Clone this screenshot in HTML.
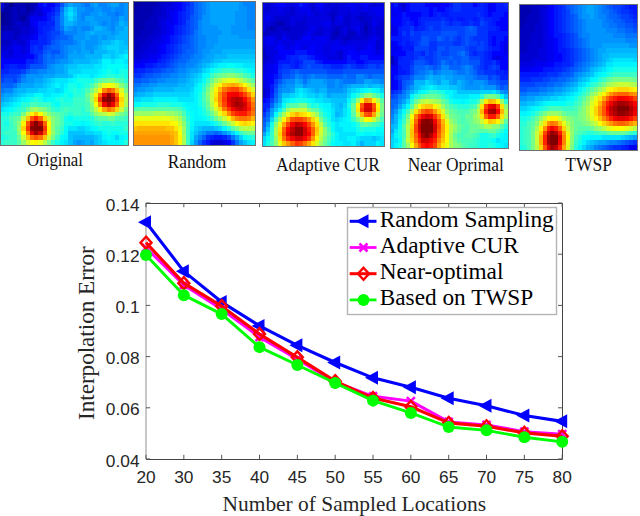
<!DOCTYPE html>
<html><head><meta charset="utf-8"><style>
html,body{margin:0;padding:0;background:#fff;}
body{width:640px;height:516px;overflow:hidden;}
svg{display:block;}
</style></head><body>
<svg width="640" height="516" viewBox="0 0 640 516">
<defs><filter id="blr" x="-5%" y="-5%" width="110%" height="110%"><feGaussianBlur stdDeviation="0.6"/></filter></defs>
<g><clipPath id="c0"><rect x="0" y="2" width="128" height="143"/></clipPath>
<g clip-path="url(#c0)"><g filter="url(#blr)" shape-rendering="crispEdges">
<path fill="#0000e1" d="M0 2H4.27V6.77H0zM38.4 6.77H42.67V11.53H38.4zM34.13 11.53H38.4V16.3H34.13zM29.87 25.83H34.13V30.6H29.87zM29.87 30.6H34.13V35.37H29.87zM21.33 35.37H25.6V40.13H21.33zM25.6 35.37H29.87V40.13H25.6zM12.8 40.13H17.07V44.9H12.8zM8.53 44.9H12.8V49.67H8.53zM21.33 44.9H25.6V49.67H21.33zM0 49.67H4.27V54.43H0zM4.27 49.67H8.53V54.43H4.27zM21.33 49.67H25.6V54.43H21.33zM4.27 54.43H8.53V59.2H4.27zM8.53 54.43H12.8V59.2H8.53z"/>
<path fill="#0000b0" d="M4.27 2H8.53V6.77H4.27zM12.8 2H17.07V6.77H12.8zM17.07 2H21.33V6.77H17.07zM21.33 2H25.6V6.77H21.33zM29.87 2H34.13V6.77H29.87zM8.53 6.77H12.8V11.53H8.53zM17.07 6.77H21.33V11.53H17.07zM29.87 6.77H34.13V11.53H29.87zM8.53 11.53H12.8V16.3H8.53zM17.07 11.53H21.33V16.3H17.07zM21.33 11.53H25.6V16.3H21.33zM25.6 11.53H29.87V16.3H25.6zM8.53 16.3H12.8V21.07H8.53zM17.07 16.3H21.33V21.07H17.07zM8.53 21.07H12.8V25.83H8.53zM0 25.83H4.27V30.6H0zM4.27 25.83H8.53V30.6H4.27zM8.53 25.83H12.8V30.6H8.53z"/>
<path fill="#000090" d="M8.53 2H12.8V6.77H8.53zM0 11.53H4.27V16.3H0zM0 16.3H4.27V21.07H0z"/>
<path fill="#0000a0" d="M25.6 2H29.87V6.77H25.6zM4.27 6.77H8.53V11.53H4.27zM25.6 6.77H29.87V11.53H25.6zM4.27 11.53H8.53V16.3H4.27zM4.27 16.3H8.53V21.07H4.27zM21.33 16.3H25.6V21.07H21.33zM0 21.07H4.27V25.83H0zM4.27 21.07H8.53V25.83H4.27z"/>
<path fill="#0000c0" d="M34.13 2H38.4V6.77H34.13zM0 6.77H4.27V11.53H0zM12.8 6.77H17.07V11.53H12.8zM21.33 6.77H25.6V11.53H21.33zM12.8 11.53H17.07V16.3H12.8zM12.8 16.3H17.07V21.07H12.8zM25.6 16.3H29.87V21.07H25.6zM12.8 21.07H17.07V25.83H12.8zM21.33 21.07H25.6V25.83H21.33zM25.6 21.07H29.87V25.83H25.6zM12.8 25.83H17.07V30.6H12.8zM17.07 25.83H21.33V30.6H17.07zM0 30.6H4.27V35.37H0zM12.8 30.6H17.07V35.37H12.8zM17.07 30.6H21.33V35.37H17.07zM12.8 35.37H17.07V40.13H12.8zM0 40.13H4.27V44.9H0zM4.27 40.13H8.53V44.9H4.27z"/>
<path fill="#0002ff" d="M38.4 2H42.67V6.77H38.4zM51.2 2H55.47V6.77H51.2zM42.67 6.77H46.93V11.53H42.67zM46.93 6.77H51.2V11.53H46.93zM42.67 16.3H46.93V21.07H42.67zM34.13 21.07H38.4V25.83H34.13zM34.13 35.37H38.4V40.13H34.13zM25.6 54.43H29.87V59.2H25.6zM29.87 54.43H34.13V59.2H29.87zM0 59.2H4.27V63.97H0zM4.27 59.2H8.53V63.97H4.27zM8.53 59.2H12.8V63.97H8.53zM12.8 59.2H17.07V63.97H12.8zM17.07 59.2H21.33V63.97H17.07zM21.33 59.2H25.6V63.97H21.33zM0 63.97H4.27V68.73H0z"/>
<path fill="#0012ff" d="M42.67 2H46.93V6.77H42.67zM51.2 6.77H55.47V11.53H51.2zM46.93 11.53H51.2V16.3H46.93zM46.93 16.3H51.2V21.07H46.93zM38.4 21.07H42.67V25.83H38.4zM42.67 21.07H46.93V25.83H42.67zM38.4 25.83H42.67V30.6H38.4zM38.4 30.6H42.67V35.37H38.4zM29.87 40.13H34.13V44.9H29.87zM34.13 40.13H38.4V44.9H34.13zM4.27 63.97H8.53V68.73H4.27zM17.07 63.97H21.33V68.73H17.07zM21.33 63.97H25.6V68.73H21.33z"/>
<path fill="#0000f1" d="M46.93 2H51.2V6.77H46.93zM42.67 11.53H46.93V16.3H42.67zM29.87 16.3H34.13V21.07H29.87zM34.13 16.3H38.4V21.07H34.13zM38.4 16.3H42.67V21.07H38.4zM29.87 21.07H34.13V25.83H29.87zM34.13 25.83H38.4V30.6H34.13zM34.13 30.6H38.4V35.37H34.13zM29.87 35.37H34.13V40.13H29.87zM25.6 40.13H29.87V44.9H25.6zM12.8 44.9H17.07V49.67H12.8zM17.07 44.9H21.33V49.67H17.07zM25.6 44.9H29.87V49.67H25.6zM12.8 49.67H17.07V54.43H12.8zM17.07 49.67H21.33V54.43H17.07zM25.6 49.67H29.87V54.43H25.6zM0 54.43H4.27V59.2H0zM12.8 54.43H17.07V59.2H12.8zM17.07 54.43H21.33V59.2H17.07zM21.33 54.43H25.6V59.2H21.33z"/>
<path fill="#0022ff" d="M55.47 2H59.73V6.77H55.47zM51.2 11.53H55.47V16.3H51.2zM46.93 21.07H51.2V25.83H46.93zM51.2 21.07H55.47V25.83H51.2zM42.67 25.83H46.93V30.6H42.67zM46.93 25.83H51.2V30.6H46.93zM42.67 30.6H46.93V35.37H42.67zM38.4 35.37H42.67V40.13H38.4zM42.67 35.37H46.93V40.13H42.67zM38.4 40.13H42.67V44.9H38.4zM42.67 40.13H46.93V44.9H42.67zM29.87 44.9H34.13V49.67H29.87zM38.4 44.9H42.67V49.67H38.4zM29.87 49.67H34.13V54.43H29.87zM34.13 54.43H38.4V59.2H34.13zM25.6 59.2H29.87V63.97H25.6zM29.87 59.2H34.13V63.97H29.87zM8.53 63.97H12.8V68.73H8.53zM12.8 63.97H17.07V68.73H12.8zM0 68.73H4.27V73.5H0zM4.27 68.73H8.53V73.5H4.27z"/>
<path fill="#0053ff" d="M59.73 2H64V6.77H59.73zM55.47 16.3H59.73V21.07H55.47zM55.47 21.07H59.73V25.83H55.47zM55.47 25.83H59.73V30.6H55.47zM55.47 35.37H59.73V40.13H55.47zM51.2 40.13H55.47V44.9H51.2zM46.93 44.9H51.2V49.67H46.93zM42.67 49.67H46.93V54.43H42.67zM51.2 49.67H55.47V54.43H51.2zM55.47 49.67H59.73V54.43H55.47zM29.87 63.97H34.13V68.73H29.87zM34.13 63.97H38.4V68.73H34.13zM38.4 63.97H42.67V68.73H38.4zM17.07 73.5H21.33V78.27H17.07zM4.27 78.27H8.53V83.03H4.27zM8.53 78.27H12.8V83.03H8.53z"/>
<path fill="#0084ff" d="M64 2H68.27V6.77H64zM81.07 2H85.33V6.77H81.07zM98.13 2H102.4V6.77H98.13zM102.4 2H106.67V6.77H102.4zM119.47 2H123.73V6.77H119.47zM85.33 6.77H89.6V11.53H85.33zM89.6 6.77H93.87V11.53H89.6zM102.4 6.77H106.67V11.53H102.4zM106.67 6.77H110.93V11.53H106.67zM115.2 6.77H119.47V11.53H115.2zM119.47 6.77H123.73V11.53H119.47zM59.73 11.53H64V16.3H59.73zM81.07 11.53H85.33V16.3H81.07zM85.33 11.53H89.6V16.3H85.33zM106.67 11.53H110.93V16.3H106.67zM110.93 11.53H115.2V16.3H110.93zM119.47 11.53H123.73V16.3H119.47zM59.73 16.3H64V21.07H59.73zM81.07 16.3H85.33V21.07H81.07zM110.93 16.3H115.2V21.07H110.93zM115.2 16.3H119.47V21.07H115.2zM59.73 21.07H64V25.83H59.73zM102.4 21.07H106.67V25.83H102.4zM110.93 21.07H115.2V25.83H110.93zM72.53 25.83H76.8V30.6H72.53zM81.07 25.83H85.33V30.6H81.07zM85.33 25.83H89.6V30.6H85.33zM110.93 25.83H115.2V30.6H110.93zM64 30.6H68.27V35.37H64zM68.27 30.6H72.53V35.37H68.27zM72.53 30.6H76.8V35.37H72.53zM72.53 40.13H76.8V44.9H72.53zM64 44.9H68.27V49.67H64zM64 49.67H68.27V54.43H64zM64 54.43H68.27V59.2H64zM55.47 59.2H59.73V63.97H55.47zM46.93 63.97H51.2V68.73H46.93zM38.4 68.73H42.67V73.5H38.4zM42.67 68.73H46.93V73.5H42.67zM21.33 78.27H25.6V83.03H21.33zM4.27 87.8H8.53V92.57H4.27zM8.53 87.8H12.8V92.57H8.53z"/>
<path fill="#00a4ff" d="M68.27 2H72.53V6.77H68.27zM93.87 2H98.13V6.77H93.87zM110.93 2H115.2V6.77H110.93zM115.2 2H119.47V6.77H115.2zM98.13 11.53H102.4V16.3H98.13zM85.33 16.3H89.6V21.07H85.33zM89.6 16.3H93.87V21.07H89.6zM119.47 16.3H123.73V21.07H119.47zM72.53 21.07H76.8V25.83H72.53zM89.6 21.07H93.87V25.83H89.6zM93.87 21.07H98.13V25.83H93.87zM123.73 21.07H128V25.83H123.73zM64 25.83H68.27V30.6H64zM102.4 25.83H106.67V30.6H102.4zM115.2 25.83H119.47V30.6H115.2zM119.47 25.83H123.73V30.6H119.47zM85.33 30.6H89.6V35.37H85.33zM93.87 30.6H98.13V35.37H93.87zM98.13 30.6H102.4V35.37H98.13zM102.4 30.6H106.67V35.37H102.4zM106.67 30.6H110.93V35.37H106.67zM115.2 30.6H119.47V35.37H115.2zM85.33 35.37H89.6V40.13H85.33zM98.13 35.37H102.4V40.13H98.13zM106.67 35.37H110.93V40.13H106.67zM110.93 35.37H115.2V40.13H110.93zM81.07 40.13H85.33V44.9H81.07zM98.13 40.13H102.4V44.9H98.13zM81.07 44.9H85.33V49.67H81.07zM93.87 44.9H98.13V49.67H93.87zM72.53 49.67H76.8V54.43H72.53zM81.07 49.67H85.33V54.43H81.07zM85.33 49.67H89.6V54.43H85.33zM68.27 54.43H72.53V59.2H68.27zM72.53 54.43H76.8V59.2H72.53zM76.8 54.43H81.07V59.2H76.8zM81.07 54.43H85.33V59.2H81.07zM68.27 59.2H72.53V63.97H68.27zM55.47 63.97H59.73V68.73H55.47zM59.73 63.97H64V68.73H59.73zM55.47 68.73H59.73V73.5H55.47zM59.73 68.73H64V73.5H59.73zM42.67 73.5H46.93V78.27H42.67zM46.93 73.5H51.2V78.27H46.93zM51.2 73.5H55.47V78.27H51.2zM34.13 78.27H38.4V83.03H34.13zM38.4 78.27H42.67V83.03H38.4zM21.33 83.03H25.6V87.8H21.33zM25.6 83.03H29.87V87.8H25.6zM29.87 83.03H34.13V87.8H29.87zM12.8 87.8H17.07V92.57H12.8zM4.27 92.57H8.53V97.33H4.27zM8.53 92.57H12.8V97.33H8.53zM0 97.33H4.27V102.1H0zM72.53 140.23H76.8V145H72.53zM81.07 140.23H85.33V145H81.07zM89.6 140.23H93.87V145H89.6z"/>
<path fill="#0094ff" d="M72.53 2H76.8V6.77H72.53zM76.8 2H81.07V6.77H76.8zM89.6 2H93.87V6.77H89.6zM106.67 2H110.93V6.77H106.67zM123.73 2H128V6.77H123.73zM76.8 6.77H81.07V11.53H76.8zM81.07 6.77H85.33V11.53H81.07zM93.87 6.77H98.13V11.53H93.87zM98.13 6.77H102.4V11.53H98.13zM110.93 6.77H115.2V11.53H110.93zM123.73 6.77H128V11.53H123.73zM76.8 11.53H81.07V16.3H76.8zM89.6 11.53H93.87V16.3H89.6zM93.87 11.53H98.13V16.3H93.87zM102.4 11.53H106.67V16.3H102.4zM123.73 11.53H128V16.3H123.73zM76.8 16.3H81.07V21.07H76.8zM93.87 16.3H98.13V21.07H93.87zM98.13 16.3H102.4V21.07H98.13zM102.4 16.3H106.67V21.07H102.4zM106.67 16.3H110.93V21.07H106.67zM123.73 16.3H128V21.07H123.73zM76.8 21.07H81.07V25.83H76.8zM81.07 21.07H85.33V25.83H81.07zM85.33 21.07H89.6V25.83H85.33zM98.13 21.07H102.4V25.83H98.13zM106.67 21.07H110.93V25.83H106.67zM115.2 21.07H119.47V25.83H115.2zM68.27 25.83H72.53V30.6H68.27zM76.8 25.83H81.07V30.6H76.8zM89.6 25.83H93.87V30.6H89.6zM106.67 25.83H110.93V30.6H106.67zM76.8 30.6H81.07V35.37H76.8zM81.07 30.6H85.33V35.37H81.07zM110.93 30.6H115.2V35.37H110.93zM72.53 35.37H76.8V40.13H72.53zM76.8 35.37H81.07V40.13H76.8zM81.07 35.37H85.33V40.13H81.07zM89.6 35.37H93.87V40.13H89.6zM93.87 35.37H98.13V40.13H93.87zM102.4 35.37H106.67V40.13H102.4zM76.8 40.13H81.07V44.9H76.8zM85.33 40.13H89.6V44.9H85.33zM89.6 40.13H93.87V44.9H89.6zM93.87 40.13H98.13V44.9H93.87zM68.27 44.9H72.53V49.67H68.27zM72.53 44.9H76.8V49.67H72.53zM76.8 44.9H81.07V49.67H76.8zM85.33 44.9H89.6V49.67H85.33zM89.6 44.9H93.87V49.67H89.6zM68.27 49.67H72.53V54.43H68.27zM76.8 49.67H81.07V54.43H76.8zM89.6 49.67H93.87V54.43H89.6zM59.73 59.2H64V63.97H59.73zM64 59.2H68.27V63.97H64zM51.2 63.97H55.47V68.73H51.2zM46.93 68.73H51.2V73.5H46.93zM51.2 68.73H55.47V73.5H51.2zM25.6 73.5H29.87V78.27H25.6zM29.87 73.5H34.13V78.27H29.87zM34.13 73.5H38.4V78.27H34.13zM38.4 73.5H42.67V78.27H38.4zM25.6 78.27H29.87V83.03H25.6zM29.87 78.27H34.13V83.03H29.87zM17.07 83.03H21.33V87.8H17.07zM0 92.57H4.27V97.33H0zM76.8 140.23H81.07V145H76.8z"/>
<path fill="#0073ff" d="M85.33 2H89.6V6.77H85.33zM59.73 6.77H64V11.53H59.73zM115.2 11.53H119.47V16.3H115.2zM59.73 25.83H64V30.6H59.73zM68.27 35.37H72.53V40.13H68.27zM59.73 40.13H64V44.9H59.73zM64 40.13H68.27V44.9H64zM68.27 40.13H72.53V44.9H68.27zM59.73 44.9H64V49.67H59.73zM59.73 49.67H64V54.43H59.73zM46.93 54.43H51.2V59.2H46.93zM55.47 54.43H59.73V59.2H55.47zM59.73 54.43H64V59.2H59.73zM46.93 59.2H51.2V63.97H46.93zM51.2 59.2H55.47V63.97H51.2zM29.87 68.73H34.13V73.5H29.87zM34.13 68.73H38.4V73.5H34.13zM21.33 73.5H25.6V78.27H21.33zM12.8 83.03H17.07V87.8H12.8zM0 87.8H4.27V92.57H0z"/>
<path fill="#0000d0" d="M34.13 6.77H38.4V11.53H34.13zM29.87 11.53H34.13V16.3H29.87zM38.4 11.53H42.67V16.3H38.4zM17.07 21.07H21.33V25.83H17.07zM21.33 25.83H25.6V30.6H21.33zM25.6 25.83H29.87V30.6H25.6zM4.27 30.6H8.53V35.37H4.27zM8.53 30.6H12.8V35.37H8.53zM21.33 30.6H25.6V35.37H21.33zM25.6 30.6H29.87V35.37H25.6zM0 35.37H4.27V40.13H0zM4.27 35.37H8.53V40.13H4.27zM8.53 35.37H12.8V40.13H8.53zM17.07 35.37H21.33V40.13H17.07zM8.53 40.13H12.8V44.9H8.53zM17.07 40.13H21.33V44.9H17.07zM21.33 40.13H25.6V44.9H21.33zM0 44.9H4.27V49.67H0zM4.27 44.9H8.53V49.67H4.27zM8.53 49.67H12.8V54.43H8.53z"/>
<path fill="#0033ff" d="M55.47 6.77H59.73V11.53H55.47zM51.2 16.3H55.47V21.07H51.2zM51.2 25.83H55.47V30.6H51.2zM46.93 30.6H51.2V35.37H46.93zM46.93 35.37H51.2V40.13H46.93zM46.93 40.13H51.2V44.9H46.93zM34.13 44.9H38.4V49.67H34.13zM34.13 49.67H38.4V54.43H34.13zM38.4 49.67H42.67V54.43H38.4zM34.13 59.2H38.4V63.97H34.13zM25.6 63.97H29.87V68.73H25.6zM8.53 68.73H12.8V73.5H8.53zM12.8 68.73H17.07V73.5H12.8zM17.07 68.73H21.33V73.5H17.07zM0 73.5H4.27V78.27H0z"/>
<path fill="#00b4ff" d="M64 6.77H68.27V11.53H64zM72.53 6.77H76.8V11.53H72.53zM64 16.3H68.27V21.07H64zM72.53 16.3H76.8V21.07H72.53zM64 21.07H68.27V25.83H64zM68.27 21.07H72.53V25.83H68.27zM119.47 21.07H123.73V25.83H119.47zM93.87 25.83H98.13V30.6H93.87zM98.13 25.83H102.4V30.6H98.13zM123.73 25.83H128V30.6H123.73zM89.6 30.6H93.87V35.37H89.6zM119.47 30.6H123.73V35.37H119.47zM123.73 30.6H128V35.37H123.73zM115.2 35.37H119.47V40.13H115.2zM119.47 35.37H123.73V40.13H119.47zM123.73 35.37H128V40.13H123.73zM102.4 40.13H106.67V44.9H102.4zM106.67 40.13H110.93V44.9H106.67zM123.73 40.13H128V44.9H123.73zM98.13 44.9H102.4V49.67H98.13zM93.87 49.67H98.13V54.43H93.87zM98.13 49.67H102.4V54.43H98.13zM102.4 49.67H106.67V54.43H102.4zM85.33 54.43H89.6V59.2H85.33zM89.6 54.43H93.87V59.2H89.6zM93.87 54.43H98.13V59.2H93.87zM98.13 54.43H102.4V59.2H98.13zM72.53 59.2H76.8V63.97H72.53zM76.8 59.2H81.07V63.97H76.8zM81.07 59.2H85.33V63.97H81.07zM85.33 59.2H89.6V63.97H85.33zM64 63.97H68.27V68.73H64zM64 68.73H68.27V73.5H64zM55.47 73.5H59.73V78.27H55.47zM59.73 73.5H64V78.27H59.73zM64 73.5H68.27V78.27H64zM42.67 78.27H46.93V83.03H42.67zM34.13 83.03H38.4V87.8H34.13zM38.4 83.03H42.67V87.8H38.4zM17.07 87.8H21.33V92.57H17.07zM21.33 87.8H25.6V92.57H21.33zM12.8 92.57H17.07V97.33H12.8zM4.27 97.33H8.53V102.1H4.27zM72.53 135.47H76.8V140.23H72.53zM76.8 135.47H81.07V140.23H76.8zM81.07 135.47H85.33V140.23H81.07zM85.33 135.47H89.6V140.23H85.33zM89.6 135.47H93.87V140.23H89.6zM85.33 140.23H89.6V145H85.33z"/>
<path fill="#00d4ff" d="M68.27 6.77H72.53V11.53H68.27zM68.27 16.3H72.53V21.07H68.27zM115.2 40.13H119.47V44.9H115.2zM106.67 44.9H110.93V49.67H106.67zM110.93 44.9H115.2V49.67H110.93zM115.2 44.9H119.47V49.67H115.2zM115.2 49.67H119.47V54.43H115.2zM123.73 49.67H128V54.43H123.73zM102.4 54.43H106.67V59.2H102.4zM106.67 54.43H110.93V59.2H106.67zM115.2 54.43H119.47V59.2H115.2zM98.13 59.2H102.4V63.97H98.13zM76.8 63.97H81.07V68.73H76.8zM81.07 63.97H85.33V68.73H81.07zM85.33 63.97H89.6V68.73H85.33zM89.6 63.97H93.87V68.73H89.6zM68.27 68.73H72.53V73.5H68.27zM72.53 68.73H76.8V73.5H72.53zM76.8 68.73H81.07V73.5H76.8zM51.2 78.27H55.47V83.03H51.2zM46.93 83.03H51.2V87.8H46.93zM38.4 87.8H42.67V92.57H38.4zM42.67 87.8H46.93V92.57H42.67zM55.47 87.8H59.73V92.57H55.47zM21.33 92.57H25.6V97.33H21.33zM12.8 97.33H17.07V102.1H12.8zM4.27 102.1H8.53V106.87H4.27zM76.8 125.93H81.07V130.7H76.8zM81.07 125.93H85.33V130.7H81.07zM85.33 130.7H89.6V135.47H85.33zM89.6 130.7H93.87V135.47H89.6zM98.13 135.47H102.4V140.23H98.13zM115.2 135.47H119.47V140.23H115.2zM98.13 140.23H102.4V145H98.13z"/>
<path fill="#0043ff" d="M55.47 11.53H59.73V16.3H55.47zM51.2 30.6H55.47V35.37H51.2zM55.47 30.6H59.73V35.37H55.47zM51.2 35.37H55.47V40.13H51.2zM42.67 44.9H46.93V49.67H42.67zM38.4 54.43H42.67V59.2H38.4zM38.4 59.2H42.67V63.97H38.4zM21.33 68.73H25.6V73.5H21.33zM4.27 73.5H8.53V78.27H4.27zM8.53 73.5H12.8V78.27H8.53zM12.8 73.5H17.07V78.27H12.8zM0 78.27H4.27V83.03H0zM12.8 78.27H17.07V83.03H12.8z"/>
<path fill="#00c4ff" d="M64 11.53H68.27V16.3H64zM72.53 11.53H76.8V16.3H72.53zM110.93 40.13H115.2V44.9H110.93zM119.47 40.13H123.73V44.9H119.47zM102.4 44.9H106.67V49.67H102.4zM119.47 44.9H123.73V49.67H119.47zM123.73 44.9H128V49.67H123.73zM106.67 49.67H110.93V54.43H106.67zM110.93 49.67H115.2V54.43H110.93zM119.47 49.67H123.73V54.43H119.47zM110.93 54.43H115.2V59.2H110.93zM89.6 59.2H93.87V63.97H89.6zM93.87 59.2H98.13V63.97H93.87zM68.27 63.97H72.53V68.73H68.27zM72.53 63.97H76.8V68.73H72.53zM68.27 73.5H72.53V78.27H68.27zM46.93 78.27H51.2V83.03H46.93zM42.67 83.03H46.93V87.8H42.67zM25.6 87.8H29.87V92.57H25.6zM29.87 87.8H34.13V92.57H29.87zM34.13 87.8H38.4V92.57H34.13zM17.07 92.57H21.33V97.33H17.07zM8.53 97.33H12.8V102.1H8.53zM0 102.1H4.27V106.87H0zM68.27 130.7H72.53V135.47H68.27zM72.53 130.7H76.8V135.47H72.53zM76.8 130.7H81.07V135.47H76.8zM81.07 130.7H85.33V135.47H81.07zM68.27 135.47H72.53V140.23H68.27zM93.87 135.47H98.13V140.23H93.87zM68.27 140.23H72.53V145H68.27zM93.87 140.23H98.13V145H93.87z"/>
<path fill="#00e5ff" d="M68.27 11.53H72.53V16.3H68.27zM119.47 54.43H123.73V59.2H119.47zM110.93 59.2H115.2V63.97H110.93zM123.73 59.2H128V63.97H123.73zM93.87 63.97H98.13V68.73H93.87zM98.13 63.97H102.4V68.73H98.13zM81.07 68.73H85.33V73.5H81.07zM85.33 68.73H89.6V73.5H85.33zM89.6 68.73H93.87V73.5H89.6zM93.87 68.73H98.13V73.5H93.87zM72.53 73.5H76.8V78.27H72.53zM89.6 73.5H93.87V78.27H89.6zM55.47 78.27H59.73V83.03H55.47zM59.73 78.27H64V83.03H59.73zM64 78.27H68.27V83.03H64zM51.2 83.03H55.47V87.8H51.2zM59.73 83.03H64V87.8H59.73zM46.93 87.8H51.2V92.57H46.93zM51.2 87.8H55.47V92.57H51.2zM59.73 87.8H64V92.57H59.73zM25.6 92.57H29.87V97.33H25.6zM29.87 92.57H34.13V97.33H29.87zM42.67 92.57H46.93V97.33H42.67zM46.93 92.57H51.2V97.33H46.93zM17.07 97.33H21.33V102.1H17.07zM8.53 102.1H12.8V106.87H8.53zM0 106.87H4.27V111.63H0zM68.27 125.93H72.53V130.7H68.27zM72.53 125.93H76.8V130.7H72.53zM85.33 125.93H89.6V130.7H85.33zM93.87 130.7H98.13V135.47H93.87zM98.13 130.7H102.4V135.47H98.13zM64 140.23H68.27V145H64zM102.4 140.23H106.67V145H102.4z"/>
<path fill="#0063ff" d="M59.73 30.6H64V35.37H59.73zM59.73 35.37H64V40.13H59.73zM64 35.37H68.27V40.13H64zM55.47 40.13H59.73V44.9H55.47zM51.2 44.9H55.47V49.67H51.2zM55.47 44.9H59.73V49.67H55.47zM46.93 49.67H51.2V54.43H46.93zM42.67 54.43H46.93V59.2H42.67zM51.2 54.43H55.47V59.2H51.2zM42.67 59.2H46.93V63.97H42.67zM42.67 63.97H46.93V68.73H42.67zM25.6 68.73H29.87V73.5H25.6zM17.07 78.27H21.33V83.03H17.07zM0 83.03H4.27V87.8H0zM4.27 83.03H8.53V87.8H4.27zM8.53 83.03H12.8V87.8H8.53z"/>
<path fill="#00f5ff" d="M123.73 54.43H128V59.2H123.73zM102.4 59.2H106.67V63.97H102.4zM106.67 59.2H110.93V63.97H106.67zM115.2 59.2H119.47V63.97H115.2zM119.47 59.2H123.73V63.97H119.47zM102.4 63.97H106.67V68.73H102.4zM123.73 63.97H128V68.73H123.73zM98.13 68.73H102.4V73.5H98.13zM115.2 68.73H119.47V73.5H115.2zM76.8 73.5H81.07V78.27H76.8zM81.07 73.5H85.33V78.27H81.07zM85.33 73.5H89.6V78.27H85.33zM93.87 73.5H98.13V78.27H93.87zM68.27 78.27H72.53V83.03H68.27zM55.47 83.03H59.73V87.8H55.47zM64 83.03H68.27V87.8H64zM51.2 92.57H55.47V97.33H51.2zM55.47 92.57H59.73V97.33H55.47zM21.33 97.33H25.6V102.1H21.33zM42.67 97.33H46.93V102.1H42.67zM12.8 102.1H17.07V106.87H12.8zM4.27 106.87H8.53V111.63H4.27zM81.07 121.17H85.33V125.93H81.07zM89.6 125.93H93.87V130.7H89.6zM64 135.47H68.27V140.23H64zM102.4 135.47H106.67V140.23H102.4zM110.93 135.47H115.2V140.23H110.93zM119.47 135.47H123.73V140.23H119.47zM59.73 140.23H64V145H59.73zM106.67 140.23H110.93V145H106.67zM110.93 140.23H115.2V145H110.93zM115.2 140.23H119.47V145H115.2z"/>
<path fill="#06fff9" d="M106.67 63.97H110.93V68.73H106.67zM110.93 63.97H115.2V68.73H110.93zM115.2 63.97H119.47V68.73H115.2zM119.47 63.97H123.73V68.73H119.47zM102.4 68.73H106.67V73.5H102.4zM110.93 68.73H115.2V73.5H110.93zM98.13 73.5H102.4V78.27H98.13zM72.53 78.27H76.8V83.03H72.53zM76.8 83.03H81.07V87.8H76.8zM64 87.8H68.27V92.57H64zM34.13 92.57H38.4V97.33H34.13zM38.4 92.57H42.67V97.33H38.4zM59.73 92.57H64V97.33H59.73zM68.27 92.57H72.53V97.33H68.27zM25.6 97.33H29.87V102.1H25.6zM46.93 97.33H51.2V102.1H46.93zM51.2 97.33H55.47V102.1H51.2zM17.07 102.1H21.33V106.87H17.07zM55.47 102.1H59.73V106.87H55.47zM8.53 106.87H12.8V111.63H8.53zM68.27 116.4H72.53V121.17H68.27zM72.53 121.17H76.8V125.93H72.53zM76.8 121.17H81.07V125.93H76.8zM85.33 121.17H89.6V125.93H85.33zM64 125.93H68.27V130.7H64zM93.87 125.93H98.13V130.7H93.87zM64 130.7H68.27V135.47H64zM102.4 130.7H106.67V135.47H102.4zM110.93 130.7H115.2V135.47H110.93zM115.2 130.7H119.47V135.47H115.2zM59.73 135.47H64V140.23H59.73zM106.67 135.47H110.93V140.23H106.67zM123.73 135.47H128V140.23H123.73zM119.47 140.23H123.73V145H119.47z"/>
<path fill="#16ffe9" d="M106.67 68.73H110.93V73.5H106.67zM119.47 68.73H123.73V73.5H119.47zM123.73 68.73H128V73.5H123.73zM102.4 73.5H106.67V78.27H102.4zM115.2 73.5H119.47V78.27H115.2zM123.73 73.5H128V78.27H123.73zM76.8 78.27H81.07V83.03H76.8zM81.07 78.27H85.33V83.03H81.07zM85.33 78.27H89.6V83.03H85.33zM89.6 78.27H93.87V83.03H89.6zM68.27 83.03H72.53V87.8H68.27zM72.53 83.03H76.8V87.8H72.53zM81.07 83.03H85.33V87.8H81.07zM68.27 87.8H72.53V92.57H68.27zM76.8 87.8H81.07V92.57H76.8zM64 92.57H68.27V97.33H64zM29.87 97.33H34.13V102.1H29.87zM38.4 97.33H42.67V102.1H38.4zM55.47 97.33H59.73V102.1H55.47zM64 97.33H68.27V102.1H64zM68.27 97.33H72.53V102.1H68.27zM51.2 102.1H55.47V106.87H51.2zM12.8 106.87H17.07V111.63H12.8zM0 111.63H4.27V116.4H0zM4.27 111.63H8.53V116.4H4.27zM64 116.4H68.27V121.17H64zM72.53 116.4H76.8V121.17H72.53zM76.8 116.4H81.07V121.17H76.8zM81.07 116.4H85.33V121.17H81.07zM85.33 116.4H89.6V121.17H85.33zM4.27 121.17H8.53V125.93H4.27zM64 121.17H68.27V125.93H64zM68.27 121.17H72.53V125.93H68.27zM89.6 121.17H93.87V125.93H89.6zM98.13 125.93H102.4V130.7H98.13zM102.4 125.93H106.67V130.7H102.4zM106.67 125.93H110.93V130.7H106.67zM110.93 125.93H115.2V130.7H110.93zM115.2 125.93H119.47V130.7H115.2zM119.47 125.93H123.73V130.7H119.47zM106.67 130.7H110.93V135.47H106.67zM119.47 130.7H123.73V135.47H119.47zM123.73 130.7H128V135.47H123.73zM0 135.47H4.27V140.23H0zM55.47 140.23H59.73V145H55.47z"/>
<path fill="#26ffd9" d="M106.67 73.5H110.93V78.27H106.67zM110.93 73.5H115.2V78.27H110.93zM119.47 73.5H123.73V78.27H119.47zM123.73 78.27H128V83.03H123.73zM85.33 83.03H89.6V87.8H85.33zM72.53 87.8H76.8V92.57H72.53zM81.07 87.8H85.33V92.57H81.07zM72.53 92.57H76.8V97.33H72.53zM76.8 92.57H81.07V97.33H76.8zM81.07 92.57H85.33V97.33H81.07zM34.13 97.33H38.4V102.1H34.13zM59.73 97.33H64V102.1H59.73zM21.33 102.1H25.6V106.87H21.33zM25.6 102.1H29.87V106.87H25.6zM59.73 102.1H64V106.87H59.73zM64 102.1H68.27V106.87H64zM68.27 102.1H72.53V106.87H68.27zM17.07 106.87H21.33V111.63H17.07zM55.47 106.87H59.73V111.63H55.47zM81.07 106.87H85.33V111.63H81.07zM8.53 111.63H12.8V116.4H8.53zM68.27 111.63H72.53V116.4H68.27zM81.07 111.63H85.33V116.4H81.07zM85.33 111.63H89.6V116.4H85.33zM0 116.4H4.27V121.17H0zM4.27 116.4H8.53V121.17H4.27zM89.6 116.4H93.87V121.17H89.6zM0 121.17H4.27V125.93H0zM93.87 121.17H98.13V125.93H93.87zM102.4 121.17H106.67V125.93H102.4zM106.67 121.17H110.93V125.93H106.67zM115.2 121.17H119.47V125.93H115.2zM119.47 121.17H123.73V125.93H119.47zM123.73 121.17H128V125.93H123.73zM0 125.93H4.27V130.7H0zM4.27 125.93H8.53V130.7H4.27zM0 130.7H4.27V135.47H0zM59.73 130.7H64V135.47H59.73zM4.27 135.47H8.53V140.23H4.27zM0 140.23H4.27V145H0zM123.73 140.23H128V145H123.73z"/>
<path fill="#37ffc8" d="M93.87 78.27H98.13V83.03H93.87zM72.53 97.33H76.8V102.1H72.53zM76.8 97.33H81.07V102.1H76.8zM81.07 97.33H85.33V102.1H81.07zM38.4 102.1H42.67V106.87H38.4zM42.67 102.1H46.93V106.87H42.67zM46.93 102.1H51.2V106.87H46.93zM72.53 102.1H76.8V106.87H72.53zM76.8 102.1H81.07V106.87H76.8zM81.07 102.1H85.33V106.87H81.07zM21.33 106.87H25.6V111.63H21.33zM51.2 106.87H55.47V111.63H51.2zM59.73 106.87H64V111.63H59.73zM68.27 106.87H72.53V111.63H68.27zM72.53 106.87H76.8V111.63H72.53zM76.8 106.87H81.07V111.63H76.8zM12.8 111.63H17.07V116.4H12.8zM17.07 111.63H21.33V116.4H17.07zM64 111.63H68.27V116.4H64zM72.53 111.63H76.8V116.4H72.53zM76.8 111.63H81.07V116.4H76.8zM123.73 116.4H128V121.17H123.73zM8.53 121.17H12.8V125.93H8.53zM98.13 121.17H102.4V125.93H98.13zM110.93 121.17H115.2V125.93H110.93zM8.53 125.93H12.8V130.7H8.53zM59.73 125.93H64V130.7H59.73zM123.73 125.93H128V130.7H123.73zM4.27 130.7H8.53V135.47H4.27zM8.53 130.7H12.8V135.47H8.53zM12.8 130.7H17.07V135.47H12.8zM8.53 135.47H12.8V140.23H8.53zM12.8 135.47H17.07V140.23H12.8zM55.47 135.47H59.73V140.23H55.47zM4.27 140.23H8.53V145H4.27zM8.53 140.23H12.8V145H8.53zM12.8 140.23H17.07V145H12.8zM51.2 140.23H55.47V145H51.2z"/>
<path fill="#57ffa8" d="M98.13 78.27H102.4V83.03H98.13zM115.2 78.27H119.47V83.03H115.2zM123.73 83.03H128V87.8H123.73zM85.33 97.33H89.6V102.1H85.33zM46.93 106.87H51.2V111.63H46.93zM55.47 111.63H59.73V116.4H55.47zM89.6 111.63H93.87V116.4H89.6zM123.73 111.63H128V116.4H123.73zM12.8 116.4H17.07V121.17H12.8zM98.13 116.4H102.4V121.17H98.13zM102.4 116.4H106.67V121.17H102.4zM12.8 121.17H17.07V125.93H12.8zM55.47 125.93H59.73V130.7H55.47zM55.47 130.7H59.73V135.47H55.47zM17.07 140.23H21.33V145H17.07z"/>
<path fill="#67ff98" d="M102.4 78.27H106.67V83.03H102.4zM85.33 92.57H89.6V97.33H85.33zM25.6 106.87H29.87V111.63H25.6zM51.2 111.63H55.47V116.4H51.2zM17.07 116.4H21.33V121.17H17.07zM55.47 116.4H59.73V121.17H55.47zM106.67 116.4H110.93V121.17H106.67zM110.93 116.4H115.2V121.17H110.93zM55.47 121.17H59.73V125.93H55.47zM17.07 135.47H21.33V140.23H17.07z"/>
<path fill="#77ff88" d="M106.67 78.27H110.93V83.03H106.67zM110.93 78.27H115.2V83.03H110.93zM93.87 83.03H98.13V87.8H93.87zM89.6 87.8H93.87V92.57H89.6zM123.73 87.8H128V92.57H123.73zM42.67 106.87H46.93V111.63H42.67zM89.6 106.87H93.87V111.63H89.6zM123.73 106.87H128V111.63H123.73zM21.33 111.63H25.6V116.4H21.33zM119.47 111.63H123.73V116.4H119.47zM51.2 135.47H55.47V140.23H51.2zM46.93 140.23H51.2V145H46.93z"/>
<path fill="#47ffb8" d="M119.47 78.27H123.73V83.03H119.47zM89.6 83.03H93.87V87.8H89.6zM85.33 87.8H89.6V92.57H85.33zM29.87 102.1H34.13V106.87H29.87zM34.13 102.1H38.4V106.87H34.13zM85.33 102.1H89.6V106.87H85.33zM64 106.87H68.27V111.63H64zM85.33 106.87H89.6V111.63H85.33zM59.73 111.63H64V116.4H59.73zM8.53 116.4H12.8V121.17H8.53zM59.73 116.4H64V121.17H59.73zM93.87 116.4H98.13V121.17H93.87zM115.2 116.4H119.47V121.17H115.2zM119.47 116.4H123.73V121.17H119.47zM59.73 121.17H64V125.93H59.73zM12.8 125.93H17.07V130.7H12.8z"/>
<path fill="#b8ff47" d="M98.13 83.03H102.4V87.8H98.13zM93.87 87.8H98.13V92.57H93.87zM123.73 97.33H128V102.1H123.73zM93.87 106.87H98.13V111.63H93.87zM42.67 111.63H46.93V116.4H42.67zM102.4 111.63H106.67V116.4H102.4zM42.67 140.23H46.93V145H42.67z"/>
<path fill="#e9ff16" d="M102.4 83.03H106.67V87.8H102.4zM110.93 83.03H115.2V87.8H110.93zM38.4 140.23H42.67V145H38.4z"/>
<path fill="#f9ff06" d="M106.67 83.03H110.93V87.8H106.67zM93.87 102.1H98.13V106.87H93.87zM38.4 111.63H42.67V116.4H38.4zM46.93 121.17H51.2V125.93H46.93zM21.33 130.7H25.6V135.47H21.33zM29.87 140.23H34.13V145H29.87z"/>
<path fill="#c8ff37" d="M115.2 83.03H119.47V87.8H115.2zM119.47 106.87H123.73V111.63H119.47zM25.6 111.63H29.87V116.4H25.6zM110.93 111.63H115.2V116.4H110.93zM21.33 116.4H25.6V121.17H21.33zM46.93 116.4H51.2V121.17H46.93zM21.33 135.47H25.6V140.23H21.33zM46.93 135.47H51.2V140.23H46.93z"/>
<path fill="#88ff77" d="M119.47 83.03H123.73V87.8H119.47zM89.6 102.1H93.87V106.87H89.6zM38.4 106.87H42.67V111.63H38.4zM46.93 111.63H51.2V116.4H46.93zM93.87 111.63H98.13V116.4H93.87zM51.2 116.4H55.47V121.17H51.2zM17.07 121.17H21.33V125.93H17.07zM51.2 121.17H55.47V125.93H51.2zM51.2 125.93H55.47V130.7H51.2zM17.07 130.7H21.33V135.47H17.07z"/>
<path fill="#fff500" d="M98.13 87.8H102.4V92.57H98.13zM93.87 92.57H98.13V97.33H93.87zM119.47 92.57H123.73V97.33H119.47zM98.13 106.87H102.4V111.63H98.13zM29.87 111.63H34.13V116.4H29.87zM21.33 121.17H25.6V125.93H21.33zM46.93 125.93H51.2V130.7H46.93zM46.93 130.7H51.2V135.47H46.93zM34.13 140.23H38.4V145H34.13z"/>
<path fill="#ff8400" d="M102.4 87.8H106.67V92.57H102.4zM98.13 102.1H102.4V106.87H98.13z"/>
<path fill="#ff5300" d="M106.67 87.8H110.93V92.57H106.67zM29.87 116.4H34.13V121.17H29.87zM25.6 121.17H29.87V125.93H25.6zM42.67 130.7H46.93V135.47H42.67zM34.13 135.47H38.4V140.23H34.13z"/>
<path fill="#ff7300" d="M110.93 87.8H115.2V92.57H110.93zM98.13 92.57H102.4V97.33H98.13zM106.67 106.87H110.93V111.63H106.67zM25.6 130.7H29.87V135.47H25.6zM29.87 135.47H34.13V140.23H29.87zM38.4 135.47H42.67V140.23H38.4z"/>
<path fill="#ffc400" d="M115.2 87.8H119.47V92.57H115.2zM34.13 111.63H38.4V116.4H34.13zM25.6 116.4H29.87V121.17H25.6zM25.6 135.47H29.87V140.23H25.6zM42.67 135.47H46.93V140.23H42.67z"/>
<path fill="#d9ff26" d="M119.47 87.8H123.73V92.57H119.47zM106.67 111.63H110.93V116.4H106.67zM25.6 140.23H29.87V145H25.6z"/>
<path fill="#a8ff57" d="M89.6 92.57H93.87V97.33H89.6zM123.73 92.57H128V97.33H123.73zM89.6 97.33H93.87V102.1H89.6zM123.73 102.1H128V106.87H123.73zM34.13 106.87H38.4V111.63H34.13zM98.13 111.63H102.4V116.4H98.13z"/>
<path fill="#e10000" d="M102.4 92.57H106.67V97.33H102.4zM29.87 130.7H34.13V135.47H29.87z"/>
<path fill="#900000" d="M106.67 92.57H110.93V97.33H106.67zM102.4 97.33H106.67V102.1H102.4zM29.87 125.93H34.13V130.7H29.87z"/>
<path fill="#d00000" d="M110.93 92.57H115.2V97.33H110.93zM38.4 130.7H42.67V135.47H38.4z"/>
<path fill="#ff6300" d="M115.2 92.57H119.47V97.33H115.2zM115.2 102.1H119.47V106.87H115.2zM38.4 116.4H42.67V121.17H38.4zM42.67 121.17H46.93V125.93H42.67z"/>
<path fill="#ffd500" d="M93.87 97.33H98.13V102.1H93.87zM119.47 97.33H123.73V102.1H119.47zM115.2 106.87H119.47V111.63H115.2zM42.67 116.4H46.93V121.17H42.67zM21.33 125.93H25.6V130.7H21.33z"/>
<path fill="#ff3300" d="M98.13 97.33H102.4V102.1H98.13zM115.2 97.33H119.47V102.1H115.2zM25.6 125.93H29.87V130.7H25.6zM42.67 125.93H46.93V130.7H42.67z"/>
<path fill="#800000" d="M106.67 97.33H110.93V102.1H106.67zM34.13 121.17H38.4V125.93H34.13zM34.13 125.93H38.4V130.7H34.13zM38.4 125.93H42.67V130.7H38.4z"/>
<path fill="#a00000" d="M110.93 97.33H115.2V102.1H110.93zM34.13 130.7H38.4V135.47H34.13z"/>
<path fill="#f10000" d="M102.4 102.1H106.67V106.87H102.4zM110.93 102.1H115.2V106.87H110.93z"/>
<path fill="#b00000" d="M106.67 102.1H110.93V106.87H106.67z"/>
<path fill="#ffe500" d="M119.47 102.1H123.73V106.87H119.47z"/>
<path fill="#98ff67" d="M29.87 106.87H34.13V111.63H29.87zM115.2 111.63H119.47V116.4H115.2zM17.07 125.93H21.33V130.7H17.07zM51.2 130.7H55.47V135.47H51.2zM21.33 140.23H25.6V145H21.33z"/>
<path fill="#ffa400" d="M102.4 106.87H106.67V111.63H102.4z"/>
<path fill="#ff9400" d="M110.93 106.87H115.2V111.63H110.93z"/>
<path fill="#ff2200" d="M34.13 116.4H38.4V121.17H34.13z"/>
<path fill="#c00000" d="M29.87 121.17H34.13V125.93H29.87zM38.4 121.17H42.67V125.93H38.4z"/>
</g></g>
<rect x="0.5" y="2.5" width="128" height="143" fill="none" stroke="#707070" stroke-width="1"/></g>
<g><clipPath id="c133"><rect x="133" y="1" width="122" height="144"/></clipPath>
<g clip-path="url(#c133)"><g filter="url(#blr)" shape-rendering="crispEdges">
<path fill="#0000a0" d="M133 1H137.07V5.8H133zM137.07 1H141.13V5.8H137.07zM133 5.8H137.07V10.6H133z"/>
<path fill="#0000b0" d="M141.13 1H145.2V5.8H141.13zM145.2 1H149.27V5.8H145.2zM149.27 1H153.33V5.8H149.27zM153.33 1H157.4V5.8H153.33zM137.07 5.8H141.13V10.6H137.07zM141.13 5.8H145.2V10.6H141.13zM145.2 5.8H149.27V10.6H145.2zM149.27 5.8H153.33V10.6H149.27zM133 10.6H137.07V15.4H133zM137.07 10.6H141.13V15.4H137.07zM141.13 10.6H145.2V15.4H141.13zM145.2 10.6H149.27V15.4H145.2zM149.27 10.6H153.33V15.4H149.27zM133 15.4H137.07V20.2H133zM137.07 15.4H141.13V20.2H137.07zM141.13 15.4H145.2V20.2H141.13zM145.2 15.4H149.27V20.2H145.2zM133 20.2H137.07V25H133zM137.07 20.2H141.13V25H137.07zM141.13 20.2H145.2V25H141.13zM133 25H137.07V29.8H133zM137.07 25H141.13V29.8H137.07zM141.13 25H145.2V29.8H141.13zM133 29.8H137.07V34.6H133zM137.07 29.8H141.13V34.6H137.07zM133 34.6H137.07V39.4H133z"/>
<path fill="#0000c0" d="M157.4 1H161.47V5.8H157.4zM153.33 5.8H157.4V10.6H153.33zM157.4 5.8H161.47V10.6H157.4zM153.33 10.6H157.4V15.4H153.33zM157.4 10.6H161.47V15.4H157.4zM149.27 15.4H153.33V20.2H149.27zM153.33 15.4H157.4V20.2H153.33zM145.2 20.2H149.27V25H145.2zM149.27 20.2H153.33V25H149.27zM153.33 20.2H157.4V25H153.33zM145.2 25H149.27V29.8H145.2zM149.27 25H153.33V29.8H149.27zM153.33 25H157.4V29.8H153.33zM141.13 29.8H145.2V34.6H141.13zM145.2 29.8H149.27V34.6H145.2zM149.27 29.8H153.33V34.6H149.27zM137.07 34.6H141.13V39.4H137.07zM141.13 34.6H145.2V39.4H141.13zM145.2 34.6H149.27V39.4H145.2zM133 39.4H137.07V44.2H133zM137.07 39.4H141.13V44.2H137.07zM141.13 39.4H145.2V44.2H141.13zM133 44.2H137.07V49H133zM137.07 44.2H141.13V49H137.07zM133 49H137.07V53.8H133z"/>
<path fill="#0000d0" d="M161.47 1H165.53V5.8H161.47zM165.53 1H169.6V5.8H165.53zM161.47 5.8H165.53V10.6H161.47zM161.47 10.6H165.53V15.4H161.47zM157.4 15.4H161.47V20.2H157.4zM161.47 15.4H165.53V20.2H161.47zM157.4 20.2H161.47V25H157.4zM157.4 25H161.47V29.8H157.4zM153.33 29.8H157.4V34.6H153.33zM157.4 29.8H161.47V34.6H157.4zM149.27 34.6H153.33V39.4H149.27zM153.33 34.6H157.4V39.4H153.33zM145.2 39.4H149.27V44.2H145.2zM149.27 39.4H153.33V44.2H149.27zM141.13 44.2H145.2V49H141.13zM145.2 44.2H149.27V49H145.2zM137.07 49H141.13V53.8H137.07zM141.13 49H145.2V53.8H141.13zM133 53.8H137.07V58.6H133zM137.07 53.8H141.13V58.6H137.07zM214.33 140.2H218.4V145H214.33zM218.4 140.2H222.47V145H218.4z"/>
<path fill="#0000e1" d="M169.6 1H173.67V5.8H169.6zM165.53 5.8H169.6V10.6H165.53zM169.6 5.8H173.67V10.6H169.6zM165.53 10.6H169.6V15.4H165.53zM165.53 15.4H169.6V20.2H165.53zM161.47 20.2H165.53V25H161.47zM161.47 25H165.53V29.8H161.47zM161.47 29.8H165.53V34.6H161.47zM157.4 34.6H161.47V39.4H157.4zM153.33 39.4H157.4V44.2H153.33zM157.4 39.4H161.47V44.2H157.4zM149.27 44.2H153.33V49H149.27zM153.33 44.2H157.4V49H153.33zM145.2 49H149.27V53.8H145.2zM149.27 49H153.33V53.8H149.27zM153.33 49H157.4V53.8H153.33zM141.13 53.8H145.2V58.6H141.13zM145.2 53.8H149.27V58.6H145.2zM133 58.6H137.07V63.4H133zM137.07 58.6H141.13V63.4H137.07zM210.27 140.2H214.33V145H210.27zM222.47 140.2H226.53V145H222.47z"/>
<path fill="#0000f1" d="M173.67 1H177.73V5.8H173.67zM173.67 5.8H177.73V10.6H173.67zM169.6 10.6H173.67V15.4H169.6zM169.6 15.4H173.67V20.2H169.6zM165.53 20.2H169.6V25H165.53zM169.6 20.2H173.67V25H169.6zM165.53 25H169.6V29.8H165.53zM165.53 29.8H169.6V34.6H165.53zM161.47 34.6H165.53V39.4H161.47zM161.47 39.4H165.53V44.2H161.47zM157.4 44.2H161.47V49H157.4zM157.4 49H161.47V53.8H157.4zM149.27 53.8H153.33V58.6H149.27zM153.33 53.8H157.4V58.6H153.33zM141.13 58.6H145.2V63.4H141.13zM145.2 58.6H149.27V63.4H145.2z"/>
<path fill="#0002ff" d="M177.73 1H181.8V5.8H177.73zM177.73 5.8H181.8V10.6H177.73zM173.67 10.6H177.73V15.4H173.67zM173.67 15.4H177.73V20.2H173.67zM173.67 20.2H177.73V25H173.67zM169.6 25H173.67V29.8H169.6zM169.6 29.8H173.67V34.6H169.6zM165.53 34.6H169.6V39.4H165.53zM165.53 39.4H169.6V44.2H165.53zM161.47 44.2H165.53V49H161.47zM161.47 49H165.53V53.8H161.47zM157.4 53.8H161.47V58.6H157.4zM149.27 58.6H153.33V63.4H149.27zM153.33 58.6H157.4V63.4H153.33zM133 63.4H137.07V68.2H133zM137.07 63.4H141.13V68.2H137.07zM141.13 63.4H145.2V68.2H141.13zM226.53 140.2H230.6V145H226.53z"/>
<path fill="#0012ff" d="M181.8 1H185.87V5.8H181.8zM181.8 5.8H185.87V10.6H181.8zM177.73 10.6H181.8V15.4H177.73zM177.73 15.4H181.8V20.2H177.73zM177.73 20.2H181.8V25H177.73zM173.67 25H177.73V29.8H173.67zM173.67 29.8H177.73V34.6H173.67zM169.6 34.6H173.67V39.4H169.6zM169.6 39.4H173.67V44.2H169.6zM165.53 44.2H169.6V49H165.53zM165.53 49H169.6V53.8H165.53zM161.47 53.8H165.53V58.6H161.47zM157.4 58.6H161.47V63.4H157.4zM145.2 63.4H149.27V68.2H145.2zM149.27 63.4H153.33V68.2H149.27zM133 68.2H137.07V73H133zM214.33 135.4H218.4V140.2H214.33zM218.4 135.4H222.47V140.2H218.4zM206.2 140.2H210.27V145H206.2z"/>
<path fill="#0022ff" d="M185.87 1H189.93V5.8H185.87zM181.8 10.6H185.87V15.4H181.8zM181.8 15.4H185.87V20.2H181.8zM181.8 20.2H185.87V25H181.8zM177.73 25H181.8V29.8H177.73zM177.73 29.8H181.8V34.6H177.73zM173.67 34.6H177.73V39.4H173.67zM173.67 39.4H177.73V44.2H173.67zM169.6 44.2H173.67V49H169.6zM169.6 49H173.67V53.8H169.6zM165.53 53.8H169.6V58.6H165.53zM161.47 58.6H165.53V63.4H161.47zM153.33 63.4H157.4V68.2H153.33zM137.07 68.2H141.13V73H137.07zM141.13 68.2H145.2V73H141.13zM210.27 135.4H214.33V140.2H210.27zM222.47 135.4H226.53V140.2H222.47z"/>
<path fill="#0043ff" d="M189.93 1H194V5.8H189.93zM189.93 5.8H194V10.6H189.93zM189.93 10.6H194V15.4H189.93zM185.87 20.2H189.93V25H185.87zM185.87 25H189.93V29.8H185.87zM185.87 29.8H189.93V34.6H185.87zM181.8 34.6H185.87V39.4H181.8zM181.8 39.4H185.87V44.2H181.8zM177.73 44.2H181.8V49H177.73zM177.73 49H181.8V53.8H177.73zM173.67 53.8H177.73V58.6H173.67zM169.6 58.6H173.67V63.4H169.6zM165.53 63.4H169.6V68.2H165.53zM153.33 68.2H157.4V73H153.33zM157.4 68.2H161.47V73H157.4zM141.13 73H145.2V77.8H141.13zM226.53 135.4H230.6V140.2H226.53z"/>
<path fill="#0063ff" d="M194 1H198.07V5.8H194zM194 5.8H198.07V10.6H194zM194 10.6H198.07V15.4H194zM194 15.4H198.07V20.2H194zM194 20.2H198.07V25H194zM194 25H198.07V29.8H194zM189.93 34.6H194V39.4H189.93zM189.93 39.4H194V44.2H189.93zM189.93 44.2H194V49H189.93zM185.87 49H189.93V53.8H185.87zM189.93 49H194V53.8H189.93zM181.8 53.8H185.87V58.6H181.8zM185.87 53.8H189.93V58.6H185.87zM177.73 58.6H181.8V63.4H177.73zM181.8 58.6H185.87V63.4H181.8zM173.67 63.4H177.73V68.2H173.67zM165.53 68.2H169.6V73H165.53zM169.6 68.2H173.67V73H169.6zM153.33 73H157.4V77.8H153.33zM157.4 73H161.47V77.8H157.4zM141.13 77.8H145.2V82.6H141.13zM145.2 77.8H149.27V82.6H145.2zM214.33 130.6H218.4V135.4H214.33zM202.13 135.4H206.2V140.2H202.13zM198.07 140.2H202.13V145H198.07z"/>
<path fill="#0073ff" d="M198.07 1H202.13V5.8H198.07zM198.07 5.8H202.13V10.6H198.07zM198.07 10.6H202.13V15.4H198.07zM198.07 15.4H202.13V20.2H198.07zM194 29.8H198.07V34.6H194zM194 34.6H198.07V39.4H194zM194 39.4H198.07V44.2H194zM194 44.2H198.07V49H194zM194 49H198.07V53.8H194zM189.93 53.8H194V58.6H189.93zM185.87 58.6H189.93V63.4H185.87zM177.73 63.4H181.8V68.2H177.73zM181.8 63.4H185.87V68.2H181.8zM173.67 68.2H177.73V73H173.67zM161.47 73H165.53V77.8H161.47zM165.53 73H169.6V77.8H165.53zM149.27 77.8H153.33V82.6H149.27zM153.33 77.8H157.4V82.6H153.33zM133 82.6H137.07V87.4H133zM137.07 82.6H141.13V87.4H137.07zM206.2 130.6H210.27V135.4H206.2zM210.27 130.6H214.33V135.4H210.27zM218.4 130.6H222.47V135.4H218.4zM230.6 135.4H234.67V140.2H230.6zM234.67 140.2H238.73V145H234.67z"/>
<path fill="#0084ff" d="M202.13 1H206.2V5.8H202.13zM242.8 1H246.87V5.8H242.8zM246.87 1H250.93V5.8H246.87zM250.93 1H255V5.8H250.93zM202.13 5.8H206.2V10.6H202.13zM246.87 5.8H250.93V10.6H246.87zM250.93 5.8H255V10.6H250.93zM202.13 10.6H206.2V15.4H202.13zM246.87 10.6H250.93V15.4H246.87zM250.93 10.6H255V15.4H250.93zM246.87 15.4H250.93V20.2H246.87zM250.93 15.4H255V20.2H250.93zM198.07 20.2H202.13V25H198.07zM246.87 20.2H250.93V25H246.87zM250.93 20.2H255V25H250.93zM198.07 25H202.13V29.8H198.07zM246.87 25H250.93V29.8H246.87zM250.93 25H255V29.8H250.93zM198.07 29.8H202.13V34.6H198.07zM198.07 34.6H202.13V39.4H198.07zM202.13 34.6H206.2V39.4H202.13zM198.07 39.4H202.13V44.2H198.07zM202.13 39.4H206.2V44.2H202.13zM198.07 44.2H202.13V49H198.07zM202.13 44.2H206.2V49H202.13zM198.07 49H202.13V53.8H198.07zM194 53.8H198.07V58.6H194zM198.07 53.8H202.13V58.6H198.07zM189.93 58.6H194V63.4H189.93zM194 58.6H198.07V63.4H194zM185.87 63.4H189.93V68.2H185.87zM189.93 63.4H194V68.2H189.93zM177.73 68.2H181.8V73H177.73zM181.8 68.2H185.87V73H181.8zM169.6 73H173.67V77.8H169.6zM173.67 73H177.73V77.8H173.67zM157.4 77.8H161.47V82.6H157.4zM161.47 77.8H165.53V82.6H161.47zM141.13 82.6H145.2V87.4H141.13zM145.2 82.6H149.27V87.4H145.2zM133 87.4H137.07V92.2H133zM198.07 135.4H202.13V140.2H198.07z"/>
<path fill="#0094ff" d="M206.2 1H210.27V5.8H206.2zM238.73 1H242.8V5.8H238.73zM206.2 5.8H210.27V10.6H206.2zM238.73 5.8H242.8V10.6H238.73zM242.8 5.8H246.87V10.6H242.8zM206.2 10.6H210.27V15.4H206.2zM234.67 10.6H238.73V15.4H234.67zM238.73 10.6H242.8V15.4H238.73zM242.8 10.6H246.87V15.4H242.8zM202.13 15.4H206.2V20.2H202.13zM206.2 15.4H210.27V20.2H206.2zM234.67 15.4H238.73V20.2H234.67zM238.73 15.4H242.8V20.2H238.73zM242.8 15.4H246.87V20.2H242.8zM202.13 20.2H206.2V25H202.13zM206.2 20.2H210.27V25H206.2zM234.67 20.2H238.73V25H234.67zM238.73 20.2H242.8V25H238.73zM242.8 20.2H246.87V25H242.8zM202.13 25H206.2V29.8H202.13zM206.2 25H210.27V29.8H206.2zM210.27 25H214.33V29.8H210.27zM214.33 25H218.4V29.8H214.33zM230.6 25H234.67V29.8H230.6zM234.67 25H238.73V29.8H234.67zM238.73 25H242.8V29.8H238.73zM242.8 25H246.87V29.8H242.8zM202.13 29.8H206.2V34.6H202.13zM206.2 29.8H210.27V34.6H206.2zM210.27 29.8H214.33V34.6H210.27zM214.33 29.8H218.4V34.6H214.33zM218.4 29.8H222.47V34.6H218.4zM230.6 29.8H234.67V34.6H230.6zM234.67 29.8H238.73V34.6H234.67zM238.73 29.8H242.8V34.6H238.73zM242.8 29.8H246.87V34.6H242.8zM246.87 29.8H250.93V34.6H246.87zM250.93 29.8H255V34.6H250.93zM206.2 34.6H210.27V39.4H206.2zM210.27 34.6H214.33V39.4H210.27zM214.33 34.6H218.4V39.4H214.33zM238.73 34.6H242.8V39.4H238.73zM242.8 34.6H246.87V39.4H242.8zM246.87 34.6H250.93V39.4H246.87zM250.93 34.6H255V39.4H250.93zM206.2 39.4H210.27V44.2H206.2zM210.27 39.4H214.33V44.2H210.27zM214.33 39.4H218.4V44.2H214.33zM206.2 44.2H210.27V49H206.2zM210.27 44.2H214.33V49H210.27zM202.13 49H206.2V53.8H202.13zM206.2 49H210.27V53.8H206.2zM202.13 53.8H206.2V58.6H202.13zM198.07 58.6H202.13V63.4H198.07zM194 63.4H198.07V68.2H194zM185.87 68.2H189.93V73H185.87zM177.73 73H181.8V77.8H177.73zM181.8 73H185.87V77.8H181.8zM165.53 77.8H169.6V82.6H165.53zM169.6 77.8H173.67V82.6H169.6zM173.67 77.8H177.73V82.6H173.67zM149.27 82.6H153.33V87.4H149.27zM153.33 82.6H157.4V87.4H153.33zM137.07 87.4H141.13V92.2H137.07zM141.13 87.4H145.2V92.2H141.13zM202.13 130.6H206.2V135.4H202.13zM222.47 130.6H226.53V135.4H222.47zM194 140.2H198.07V145H194z"/>
<path fill="#00a4ff" d="M210.27 1H214.33V5.8H210.27zM214.33 1H218.4V5.8H214.33zM218.4 1H222.47V5.8H218.4zM222.47 1H226.53V5.8H222.47zM226.53 1H230.6V5.8H226.53zM230.6 1H234.67V5.8H230.6zM234.67 1H238.73V5.8H234.67zM210.27 5.8H214.33V10.6H210.27zM214.33 5.8H218.4V10.6H214.33zM218.4 5.8H222.47V10.6H218.4zM222.47 5.8H226.53V10.6H222.47zM226.53 5.8H230.6V10.6H226.53zM230.6 5.8H234.67V10.6H230.6zM234.67 5.8H238.73V10.6H234.67zM210.27 10.6H214.33V15.4H210.27zM214.33 10.6H218.4V15.4H214.33zM218.4 10.6H222.47V15.4H218.4zM222.47 10.6H226.53V15.4H222.47zM226.53 10.6H230.6V15.4H226.53zM230.6 10.6H234.67V15.4H230.6zM210.27 15.4H214.33V20.2H210.27zM214.33 15.4H218.4V20.2H214.33zM218.4 15.4H222.47V20.2H218.4zM222.47 15.4H226.53V20.2H222.47zM226.53 15.4H230.6V20.2H226.53zM230.6 15.4H234.67V20.2H230.6zM210.27 20.2H214.33V25H210.27zM214.33 20.2H218.4V25H214.33zM218.4 20.2H222.47V25H218.4zM222.47 20.2H226.53V25H222.47zM226.53 20.2H230.6V25H226.53zM230.6 20.2H234.67V25H230.6zM218.4 25H222.47V29.8H218.4zM222.47 25H226.53V29.8H222.47zM226.53 25H230.6V29.8H226.53zM222.47 29.8H226.53V34.6H222.47zM226.53 29.8H230.6V34.6H226.53zM218.4 34.6H222.47V39.4H218.4zM222.47 34.6H226.53V39.4H222.47zM226.53 34.6H230.6V39.4H226.53zM230.6 34.6H234.67V39.4H230.6zM234.67 34.6H238.73V39.4H234.67zM218.4 39.4H222.47V44.2H218.4zM222.47 39.4H226.53V44.2H222.47zM226.53 39.4H230.6V44.2H226.53zM230.6 39.4H234.67V44.2H230.6zM234.67 39.4H238.73V44.2H234.67zM238.73 39.4H242.8V44.2H238.73zM242.8 39.4H246.87V44.2H242.8zM246.87 39.4H250.93V44.2H246.87zM250.93 39.4H255V44.2H250.93zM214.33 44.2H218.4V49H214.33zM218.4 44.2H222.47V49H218.4zM222.47 44.2H226.53V49H222.47zM226.53 44.2H230.6V49H226.53zM230.6 44.2H234.67V49H230.6zM234.67 44.2H238.73V49H234.67zM238.73 44.2H242.8V49H238.73zM242.8 44.2H246.87V49H242.8zM246.87 44.2H250.93V49H246.87zM250.93 44.2H255V49H250.93zM210.27 49H214.33V53.8H210.27zM214.33 49H218.4V53.8H214.33zM218.4 49H222.47V53.8H218.4zM206.2 53.8H210.27V58.6H206.2zM210.27 53.8H214.33V58.6H210.27zM202.13 58.6H206.2V63.4H202.13zM206.2 58.6H210.27V63.4H206.2zM198.07 63.4H202.13V68.2H198.07zM189.93 68.2H194V73H189.93zM194 68.2H198.07V73H194zM185.87 73H189.93V77.8H185.87zM177.73 77.8H181.8V82.6H177.73zM181.8 77.8H185.87V82.6H181.8zM157.4 82.6H161.47V87.4H157.4zM161.47 82.6H165.53V87.4H161.47zM165.53 82.6H169.6V87.4H165.53zM169.6 82.6H173.67V87.4H169.6zM173.67 82.6H177.73V87.4H173.67zM145.2 87.4H149.27V92.2H145.2zM149.27 87.4H153.33V92.2H149.27zM133 92.2H137.07V97H133zM198.07 130.6H202.13V135.4H198.07zM194 135.4H198.07V140.2H194zM234.67 135.4H238.73V140.2H234.67zM238.73 140.2H242.8V145H238.73z"/>
<path fill="#0033ff" d="M185.87 5.8H189.93V10.6H185.87zM185.87 10.6H189.93V15.4H185.87zM185.87 15.4H189.93V20.2H185.87zM181.8 25H185.87V29.8H181.8zM181.8 29.8H185.87V34.6H181.8zM177.73 34.6H181.8V39.4H177.73zM177.73 39.4H181.8V44.2H177.73zM173.67 44.2H177.73V49H173.67zM173.67 49H177.73V53.8H173.67zM169.6 53.8H173.67V58.6H169.6zM165.53 58.6H169.6V63.4H165.53zM157.4 63.4H161.47V68.2H157.4zM161.47 63.4H165.53V68.2H161.47zM145.2 68.2H149.27V73H145.2zM149.27 68.2H153.33V73H149.27zM133 73H137.07V77.8H133zM137.07 73H141.13V77.8H137.07zM206.2 135.4H210.27V140.2H206.2zM202.13 140.2H206.2V145H202.13zM230.6 140.2H234.67V145H230.6z"/>
<path fill="#0053ff" d="M189.93 15.4H194V20.2H189.93zM189.93 20.2H194V25H189.93zM189.93 25H194V29.8H189.93zM189.93 29.8H194V34.6H189.93zM185.87 34.6H189.93V39.4H185.87zM185.87 39.4H189.93V44.2H185.87zM181.8 44.2H185.87V49H181.8zM185.87 44.2H189.93V49H185.87zM181.8 49H185.87V53.8H181.8zM177.73 53.8H181.8V58.6H177.73zM173.67 58.6H177.73V63.4H173.67zM169.6 63.4H173.67V68.2H169.6zM161.47 68.2H165.53V73H161.47zM145.2 73H149.27V77.8H145.2zM149.27 73H153.33V77.8H149.27zM133 77.8H137.07V82.6H133zM137.07 77.8H141.13V82.6H137.07z"/>
<path fill="#00b4ff" d="M222.47 49H226.53V53.8H222.47zM226.53 49H230.6V53.8H226.53zM230.6 49H234.67V53.8H230.6zM234.67 49H238.73V53.8H234.67zM238.73 49H242.8V53.8H238.73zM242.8 49H246.87V53.8H242.8zM246.87 49H250.93V53.8H246.87zM250.93 49H255V53.8H250.93zM214.33 53.8H218.4V58.6H214.33zM218.4 53.8H222.47V58.6H218.4zM222.47 53.8H226.53V58.6H222.47zM210.27 58.6H214.33V63.4H210.27zM202.13 63.4H206.2V68.2H202.13zM198.07 68.2H202.13V73H198.07zM189.93 73H194V77.8H189.93zM185.87 77.8H189.93V82.6H185.87zM177.73 82.6H181.8V87.4H177.73zM181.8 82.6H185.87V87.4H181.8zM153.33 87.4H157.4V92.2H153.33zM157.4 87.4H161.47V92.2H157.4zM161.47 87.4H165.53V92.2H161.47zM165.53 87.4H169.6V92.2H165.53zM169.6 87.4H173.67V92.2H169.6zM137.07 92.2H141.13V97H137.07zM141.13 92.2H145.2V97H141.13zM202.13 125.8H206.2V130.6H202.13zM206.2 125.8H210.27V130.6H206.2zM210.27 125.8H214.33V130.6H210.27zM226.53 130.6H230.6V135.4H226.53z"/>
<path fill="#00c4ff" d="M226.53 53.8H230.6V58.6H226.53zM230.6 53.8H234.67V58.6H230.6zM234.67 53.8H238.73V58.6H234.67zM238.73 53.8H242.8V58.6H238.73zM242.8 53.8H246.87V58.6H242.8zM246.87 53.8H250.93V58.6H246.87zM250.93 53.8H255V58.6H250.93zM214.33 58.6H218.4V63.4H214.33zM218.4 58.6H222.47V63.4H218.4zM206.2 63.4H210.27V68.2H206.2zM194 73H198.07V77.8H194zM189.93 77.8H194V82.6H189.93zM185.87 82.6H189.93V87.4H185.87zM189.93 82.6H194V87.4H189.93zM173.67 87.4H177.73V92.2H173.67zM177.73 87.4H181.8V92.2H177.73zM181.8 87.4H185.87V92.2H181.8zM185.87 87.4H189.93V92.2H185.87zM145.2 92.2H149.27V97H145.2zM149.27 92.2H153.33V97H149.27zM198.07 125.8H202.13V130.6H198.07zM214.33 125.8H218.4V130.6H214.33zM194 130.6H198.07V135.4H194zM242.8 140.2H246.87V145H242.8z"/>
<path fill="#00d4ff" d="M222.47 58.6H226.53V63.4H222.47zM226.53 58.6H230.6V63.4H226.53zM230.6 58.6H234.67V63.4H230.6zM234.67 58.6H238.73V63.4H234.67zM238.73 58.6H242.8V63.4H238.73zM242.8 58.6H246.87V63.4H242.8zM246.87 58.6H250.93V63.4H246.87zM250.93 58.6H255V63.4H250.93zM210.27 63.4H214.33V68.2H210.27zM202.13 68.2H206.2V73H202.13zM198.07 73H202.13V77.8H198.07zM194 77.8H198.07V82.6H194zM189.93 87.4H194V92.2H189.93zM153.33 92.2H157.4V97H153.33zM157.4 92.2H161.47V97H157.4zM161.47 92.2H165.53V97H161.47zM165.53 92.2H169.6V97H165.53zM169.6 92.2H173.67V97H169.6zM173.67 92.2H177.73V97H173.67zM177.73 92.2H181.8V97H177.73zM181.8 92.2H185.87V97H181.8zM185.87 92.2H189.93V97H185.87zM133 97H137.07V101.8H133zM137.07 97H141.13V101.8H137.07zM194 125.8H198.07V130.6H194zM218.4 125.8H222.47V130.6H218.4zM230.6 130.6H234.67V135.4H230.6zM238.73 135.4H242.8V140.2H238.73zM189.93 140.2H194V145H189.93z"/>
<path fill="#00e5ff" d="M214.33 63.4H218.4V68.2H214.33zM242.8 63.4H246.87V68.2H242.8zM246.87 63.4H250.93V68.2H246.87zM250.93 63.4H255V68.2H250.93zM206.2 68.2H210.27V73H206.2zM198.07 77.8H202.13V82.6H198.07zM194 82.6H198.07V87.4H194zM189.93 92.2H194V97H189.93zM141.13 97H145.2V101.8H141.13zM145.2 97H149.27V101.8H145.2zM149.27 97H153.33V101.8H149.27zM177.73 97H181.8V101.8H177.73zM181.8 97H185.87V101.8H181.8zM185.87 97H189.93V101.8H185.87zM189.93 97H194V101.8H189.93zM194 121H198.07V125.8H194zM198.07 121H202.13V125.8H198.07zM202.13 121H206.2V125.8H202.13zM206.2 121H210.27V125.8H206.2zM189.93 130.6H194V135.4H189.93zM189.93 135.4H194V140.2H189.93zM246.87 140.2H250.93V145H246.87z"/>
<path fill="#00f5ff" d="M218.4 63.4H222.47V68.2H218.4zM222.47 63.4H226.53V68.2H222.47zM234.67 63.4H238.73V68.2H234.67zM238.73 63.4H242.8V68.2H238.73zM250.93 68.2H255V73H250.93zM202.13 73H206.2V77.8H202.13zM194 87.4H198.07V92.2H194zM194 92.2H198.07V97H194zM153.33 97H157.4V101.8H153.33zM157.4 97H161.47V101.8H157.4zM161.47 97H165.53V101.8H161.47zM165.53 97H169.6V101.8H165.53zM169.6 97H173.67V101.8H169.6zM173.67 97H177.73V101.8H173.67zM194 97H198.07V101.8H194zM185.87 101.8H189.93V106.6H185.87zM189.93 101.8H194V106.6H189.93zM194 101.8H198.07V106.6H194zM189.93 106.6H194V111.4H189.93zM194 106.6H198.07V111.4H194zM194 111.4H198.07V116.2H194zM194 116.2H198.07V121H194zM198.07 116.2H202.13V121H198.07zM210.27 121H214.33V125.8H210.27zM189.93 125.8H194V130.6H189.93zM222.47 125.8H226.53V130.6H222.47zM250.93 140.2H255V145H250.93z"/>
<path fill="#06fff9" d="M226.53 63.4H230.6V68.2H226.53zM230.6 63.4H234.67V68.2H230.6zM210.27 68.2H214.33V73H210.27zM246.87 68.2H250.93V73H246.87zM206.2 73H210.27V77.8H206.2zM202.13 77.8H206.2V82.6H202.13zM198.07 82.6H202.13V87.4H198.07zM198.07 87.4H202.13V92.2H198.07zM133 101.8H137.07V106.6H133zM137.07 101.8H141.13V106.6H137.07zM181.8 101.8H185.87V106.6H181.8zM185.87 106.6H189.93V111.4H185.87zM198.07 106.6H202.13V111.4H198.07zM189.93 111.4H194V116.2H189.93zM198.07 111.4H202.13V116.2H198.07zM189.93 116.2H194V121H189.93zM202.13 116.2H206.2V121H202.13zM189.93 121H194V125.8H189.93zM234.67 130.6H238.73V135.4H234.67zM242.8 135.4H246.87V140.2H242.8z"/>
<path fill="#16ffe9" d="M214.33 68.2H218.4V73H214.33zM242.8 68.2H246.87V73H242.8zM250.93 73H255V77.8H250.93zM198.07 92.2H202.13V97H198.07zM198.07 97H202.13V101.8H198.07zM141.13 101.8H145.2V106.6H141.13zM145.2 101.8H149.27V106.6H145.2zM149.27 101.8H153.33V106.6H149.27zM153.33 101.8H157.4V106.6H153.33zM169.6 101.8H173.67V106.6H169.6zM173.67 101.8H177.73V106.6H173.67zM177.73 101.8H181.8V106.6H177.73zM198.07 101.8H202.13V106.6H198.07zM185.87 111.4H189.93V116.2H185.87zM202.13 111.4H206.2V116.2H202.13zM206.2 116.2H210.27V121H206.2zM214.33 121H218.4V125.8H214.33zM246.87 135.4H250.93V140.2H246.87z"/>
<path fill="#26ffd9" d="M218.4 68.2H222.47V73H218.4zM234.67 68.2H238.73V73H234.67zM238.73 68.2H242.8V73H238.73zM202.13 82.6H206.2V87.4H202.13zM157.4 101.8H161.47V106.6H157.4zM161.47 101.8H165.53V106.6H161.47zM165.53 101.8H169.6V106.6H165.53zM181.8 106.6H185.87V111.4H181.8zM202.13 106.6H206.2V111.4H202.13zM185.87 116.2H189.93V121H185.87zM226.53 125.8H230.6V130.6H226.53zM250.93 135.4H255V140.2H250.93z"/>
<path fill="#37ffc8" d="M222.47 68.2H226.53V73H222.47zM226.53 68.2H230.6V73H226.53zM230.6 68.2H234.67V73H230.6zM210.27 73H214.33V77.8H210.27zM246.87 73H250.93V77.8H246.87zM206.2 77.8H210.27V82.6H206.2zM202.13 87.4H206.2V92.2H202.13zM202.13 101.8H206.2V106.6H202.13zM206.2 111.4H210.27V116.2H206.2zM210.27 116.2H214.33V121H210.27zM185.87 121H189.93V125.8H185.87zM218.4 121H222.47V125.8H218.4zM185.87 125.8H189.93V130.6H185.87zM185.87 130.6H189.93V135.4H185.87zM238.73 130.6H242.8V135.4H238.73zM185.87 135.4H189.93V140.2H185.87zM185.87 140.2H189.93V145H185.87z"/>
<path fill="#57ffa8" d="M214.33 73H218.4V77.8H214.33zM250.93 77.8H255V82.6H250.93zM206.2 82.6H210.27V87.4H206.2zM137.07 106.6H141.13V111.4H137.07zM141.13 106.6H145.2V111.4H141.13zM145.2 106.6H149.27V111.4H145.2zM149.27 106.6H153.33V111.4H149.27zM153.33 106.6H157.4V111.4H153.33zM157.4 106.6H161.47V111.4H157.4zM161.47 106.6H165.53V111.4H161.47zM165.53 106.6H169.6V111.4H165.53zM169.6 106.6H173.67V111.4H169.6zM173.67 106.6H177.73V111.4H173.67zM206.2 106.6H210.27V111.4H206.2zM230.6 125.8H234.67V130.6H230.6zM242.8 130.6H246.87V135.4H242.8z"/>
<path fill="#67ff98" d="M218.4 73H222.47V77.8H218.4zM238.73 73H242.8V77.8H238.73zM210.27 77.8H214.33V82.6H210.27zM206.2 101.8H210.27V106.6H206.2zM210.27 111.4H214.33V116.2H210.27zM181.8 116.2H185.87V121H181.8zM214.33 116.2H218.4V121H214.33zM222.47 121H226.53V125.8H222.47zM246.87 130.6H250.93V135.4H246.87zM250.93 130.6H255V135.4H250.93z"/>
<path fill="#77ff88" d="M222.47 73H226.53V77.8H222.47zM234.67 73H238.73V77.8H234.67zM246.87 77.8H250.93V82.6H246.87zM206.2 87.4H210.27V92.2H206.2zM206.2 97H210.27V101.8H206.2zM177.73 111.4H181.8V116.2H177.73zM234.67 125.8H238.73V130.6H234.67z"/>
<path fill="#88ff77" d="M226.53 73H230.6V77.8H226.53zM230.6 73H234.67V77.8H230.6zM206.2 92.2H210.27V97H206.2zM173.67 111.4H177.73V116.2H173.67zM181.8 121H185.87V125.8H181.8z"/>
<path fill="#47ffb8" d="M242.8 73H246.87V77.8H242.8zM202.13 92.2H206.2V97H202.13zM202.13 97H206.2V101.8H202.13zM133 106.6H137.07V111.4H133zM177.73 106.6H181.8V111.4H177.73zM181.8 111.4H185.87V116.2H181.8z"/>
<path fill="#98ff67" d="M214.33 77.8H218.4V82.6H214.33zM242.8 77.8H246.87V82.6H242.8zM210.27 82.6H214.33V87.4H210.27zM250.93 82.6H255V87.4H250.93zM210.27 106.6H214.33V111.4H210.27zM133 111.4H137.07V116.2H133zM137.07 111.4H141.13V116.2H137.07zM141.13 111.4H145.2V116.2H141.13zM145.2 111.4H149.27V116.2H145.2zM149.27 111.4H153.33V116.2H149.27zM165.53 111.4H169.6V116.2H165.53zM169.6 111.4H173.67V116.2H169.6zM218.4 116.2H222.47V121H218.4zM226.53 121H230.6V125.8H226.53zM181.8 125.8H185.87V130.6H181.8zM181.8 130.6H185.87V135.4H181.8z"/>
<path fill="#b8ff47" d="M218.4 77.8H222.47V82.6H218.4zM238.73 77.8H242.8V82.6H238.73zM210.27 87.4H214.33V92.2H210.27zM210.27 101.8H214.33V106.6H210.27zM242.8 125.8H246.87V130.6H242.8zM246.87 125.8H250.93V130.6H246.87zM250.93 125.8H255V130.6H250.93z"/>
<path fill="#d9ff26" d="M222.47 77.8H226.53V82.6H222.47zM234.67 77.8H238.73V82.6H234.67zM214.33 82.6H218.4V87.4H214.33zM250.93 87.4H255V92.2H250.93zM214.33 106.6H218.4V111.4H214.33zM133 116.2H137.07V121H133zM169.6 116.2H173.67V121H169.6z"/>
<path fill="#e9ff16" d="M226.53 77.8H230.6V82.6H226.53zM230.6 77.8H234.67V82.6H230.6zM218.4 111.4H222.47V116.2H218.4zM137.07 116.2H141.13V121H137.07zM141.13 116.2H145.2V121H141.13zM145.2 116.2H149.27V121H145.2zM149.27 116.2H153.33V121H149.27zM153.33 116.2H157.4V121H153.33zM157.4 116.2H161.47V121H157.4zM161.47 116.2H165.53V121H161.47zM165.53 116.2H169.6V121H165.53zM177.73 125.8H181.8V130.6H177.73z"/>
<path fill="#fff500" d="M218.4 82.6H222.47V87.4H218.4zM214.33 87.4H218.4V92.2H214.33zM214.33 101.8H218.4V106.6H214.33zM226.53 116.2H230.6V121H226.53zM169.6 121H173.67V125.8H169.6zM250.93 121H255V125.8H250.93zM177.73 135.4H181.8V140.2H177.73zM177.73 140.2H181.8V145H177.73z"/>
<path fill="#ffc400" d="M222.47 82.6H226.53V87.4H222.47zM133 125.8H137.07V130.6H133zM165.53 125.8H169.6V130.6H165.53zM169.6 125.8H173.67V130.6H169.6zM173.67 130.6H177.73V135.4H173.67zM173.67 135.4H177.73V140.2H173.67zM173.67 140.2H177.73V145H173.67z"/>
<path fill="#ffb400" d="M226.53 82.6H230.6V87.4H226.53zM234.67 82.6H238.73V87.4H234.67zM218.4 87.4H222.47V92.2H218.4zM230.6 116.2H234.67V121H230.6zM250.93 116.2H255V121H250.93zM137.07 125.8H141.13V130.6H137.07zM141.13 125.8H145.2V130.6H141.13zM145.2 125.8H149.27V130.6H145.2zM149.27 125.8H153.33V130.6H149.27zM153.33 125.8H157.4V130.6H153.33zM157.4 125.8H161.47V130.6H157.4zM161.47 125.8H165.53V130.6H161.47zM169.6 130.6H173.67V135.4H169.6z"/>
<path fill="#ffa400" d="M230.6 82.6H234.67V87.4H230.6zM242.8 87.4H246.87V92.2H242.8zM133 130.6H137.07V135.4H133zM137.07 130.6H141.13V135.4H137.07zM141.13 130.6H145.2V135.4H141.13zM145.2 130.6H149.27V135.4H145.2zM149.27 130.6H153.33V135.4H149.27zM153.33 130.6H157.4V135.4H153.33zM157.4 130.6H161.47V135.4H157.4zM161.47 130.6H165.53V135.4H161.47zM165.53 130.6H169.6V135.4H165.53zM169.6 135.4H173.67V140.2H169.6zM169.6 140.2H173.67V145H169.6z"/>
<path fill="#ffd500" d="M238.73 82.6H242.8V87.4H238.73zM250.93 92.2H255V97H250.93zM214.33 97H218.4V101.8H214.33zM218.4 106.6H222.47V111.4H218.4zM222.47 111.4H226.53V116.2H222.47zM242.8 121H246.87V125.8H242.8z"/>
<path fill="#f9ff06" d="M242.8 82.6H246.87V87.4H242.8zM173.67 121H177.73V125.8H173.67zM234.67 121H238.73V125.8H234.67zM177.73 130.6H181.8V135.4H177.73z"/>
<path fill="#c8ff37" d="M246.87 82.6H250.93V87.4H246.87zM210.27 92.2H214.33V97H210.27zM210.27 97H214.33V101.8H210.27zM173.67 116.2H177.73V121H173.67zM222.47 116.2H226.53V121H222.47zM177.73 121H181.8V125.8H177.73zM230.6 121H234.67V125.8H230.6z"/>
<path fill="#ff7300" d="M222.47 87.4H226.53V92.2H222.47zM238.73 87.4H242.8V92.2H238.73zM250.93 101.8H255V106.6H250.93zM222.47 106.6H226.53V111.4H222.47zM250.93 111.4H255V116.2H250.93zM238.73 116.2H242.8V121H238.73zM242.8 116.2H246.87V121H242.8z"/>
<path fill="#ff5300" d="M226.53 87.4H230.6V92.2H226.53z"/>
<path fill="#ff4300" d="M230.6 87.4H234.67V92.2H230.6zM234.67 87.4H238.73V92.2H234.67zM222.47 92.2H226.53V97H222.47zM242.8 92.2H246.87V97H242.8zM246.87 97H250.93V101.8H246.87zM222.47 101.8H226.53V106.6H222.47zM230.6 111.4H234.67V116.2H230.6zM246.87 111.4H250.93V116.2H246.87z"/>
<path fill="#ffe500" d="M246.87 87.4H250.93V92.2H246.87zM214.33 92.2H218.4V97H214.33zM133 121H137.07V125.8H133zM137.07 121H141.13V125.8H137.07zM141.13 121H145.2V125.8H141.13zM145.2 121H149.27V125.8H145.2zM149.27 121H153.33V125.8H149.27zM153.33 121H157.4V125.8H153.33zM157.4 121H161.47V125.8H157.4zM161.47 121H165.53V125.8H161.47zM165.53 121H169.6V125.8H165.53zM238.73 121H242.8V125.8H238.73zM246.87 121H250.93V125.8H246.87zM173.67 125.8H177.73V130.6H173.67z"/>
<path fill="#ff8400" d="M218.4 92.2H222.47V97H218.4zM246.87 92.2H250.93V97H246.87zM218.4 97H222.47V101.8H218.4zM226.53 111.4H230.6V116.2H226.53zM234.67 116.2H238.73V121H234.67zM246.87 116.2H250.93V121H246.87z"/>
<path fill="#ff0200" d="M226.53 92.2H230.6V97H226.53zM242.8 97H246.87V101.8H242.8z"/>
<path fill="#f10000" d="M230.6 92.2H234.67V97H230.6zM234.67 92.2H238.73V97H234.67zM226.53 101.8H230.6V106.6H226.53zM230.6 106.6H234.67V111.4H230.6z"/>
<path fill="#ff1200" d="M238.73 92.2H242.8V97H238.73zM246.87 106.6H250.93V111.4H246.87zM238.73 111.4H242.8V116.2H238.73zM242.8 111.4H246.87V116.2H242.8z"/>
<path fill="#ff3300" d="M222.47 97H226.53V101.8H222.47zM226.53 106.6H230.6V111.4H226.53z"/>
<path fill="#e10000" d="M226.53 97H230.6V101.8H226.53zM242.8 106.6H246.87V111.4H242.8z"/>
<path fill="#c00000" d="M230.6 97H234.67V101.8H230.6zM238.73 97H242.8V101.8H238.73zM230.6 101.8H234.67V106.6H230.6zM238.73 106.6H242.8V111.4H238.73z"/>
<path fill="#b00000" d="M234.67 97H238.73V101.8H234.67zM238.73 101.8H242.8V106.6H238.73z"/>
<path fill="#ff9400" d="M250.93 97H255V101.8H250.93zM218.4 101.8H222.47V106.6H218.4zM133 135.4H137.07V140.2H133zM137.07 135.4H141.13V140.2H137.07zM141.13 135.4H145.2V140.2H141.13zM145.2 135.4H149.27V140.2H145.2zM149.27 135.4H153.33V140.2H149.27zM153.33 135.4H157.4V140.2H153.33zM157.4 135.4H161.47V140.2H157.4zM161.47 135.4H165.53V140.2H161.47zM165.53 135.4H169.6V140.2H165.53zM133 140.2H137.07V145H133zM137.07 140.2H141.13V145H137.07zM141.13 140.2H145.2V145H141.13zM145.2 140.2H149.27V145H145.2zM149.27 140.2H153.33V145H149.27zM153.33 140.2H157.4V145H153.33zM157.4 140.2H161.47V145H157.4zM161.47 140.2H165.53V145H161.47zM165.53 140.2H169.6V145H165.53z"/>
<path fill="#a00000" d="M234.67 101.8H238.73V106.6H234.67z"/>
<path fill="#d00000" d="M242.8 101.8H246.87V106.6H242.8zM234.67 106.6H238.73V111.4H234.67z"/>
<path fill="#ff2200" d="M246.87 101.8H250.93V106.6H246.87zM234.67 111.4H238.73V116.2H234.67z"/>
<path fill="#ff6300" d="M250.93 106.6H255V111.4H250.93z"/>
<path fill="#a8ff57" d="M153.33 111.4H157.4V116.2H153.33zM157.4 111.4H161.47V116.2H157.4zM161.47 111.4H165.53V116.2H161.47zM214.33 111.4H218.4V116.2H214.33zM177.73 116.2H181.8V121H177.73zM238.73 125.8H242.8V130.6H238.73zM181.8 135.4H185.87V140.2H181.8zM181.8 140.2H185.87V145H181.8z"/>
</g></g>
<rect x="133.5" y="1.5" width="122" height="144" fill="none" stroke="#707070" stroke-width="1"/></g>
<g><clipPath id="c262"><rect x="262" y="2" width="122" height="144"/></clipPath>
<g clip-path="url(#c262)"><g filter="url(#blr)" shape-rendering="crispEdges">
<path fill="#0000e1" d="M262 2H266.07V6.8H262zM270.13 2H274.2V6.8H270.13zM286.4 2H290.47V6.8H286.4zM290.47 2H294.53V6.8H290.47zM306.73 2H310.8V6.8H306.73zM323 2H327.07V6.8H323zM331.13 2H335.2V6.8H331.13zM339.27 2H343.33V6.8H339.27zM343.33 2H347.4V6.8H343.33zM355.53 2H359.6V6.8H355.53zM367.73 2H371.8V6.8H367.73zM375.87 2H379.93V6.8H375.87zM379.93 2H384V6.8H379.93zM270.13 6.8H274.2V11.6H270.13zM274.2 6.8H278.27V11.6H274.2zM282.33 6.8H286.4V11.6H282.33zM286.4 6.8H290.47V11.6H286.4zM294.53 6.8H298.6V11.6H294.53zM314.87 6.8H318.93V11.6H314.87zM323 6.8H327.07V11.6H323zM327.07 6.8H331.13V11.6H327.07zM339.27 6.8H343.33V11.6H339.27zM343.33 6.8H347.4V11.6H343.33zM347.4 6.8H351.47V11.6H347.4zM355.53 6.8H359.6V11.6H355.53zM359.6 6.8H363.67V11.6H359.6zM367.73 6.8H371.8V11.6H367.73zM262 11.6H266.07V16.4H262zM266.07 11.6H270.13V16.4H266.07zM270.13 11.6H274.2V16.4H270.13zM274.2 11.6H278.27V16.4H274.2zM278.27 11.6H282.33V16.4H278.27zM282.33 11.6H286.4V16.4H282.33zM294.53 11.6H298.6V16.4H294.53zM298.6 11.6H302.67V16.4H298.6zM302.67 11.6H306.73V16.4H302.67zM310.8 11.6H314.87V16.4H310.8zM318.93 11.6H323V16.4H318.93zM323 11.6H327.07V16.4H323zM339.27 11.6H343.33V16.4H339.27zM343.33 11.6H347.4V16.4H343.33zM351.47 11.6H355.53V16.4H351.47zM355.53 11.6H359.6V16.4H355.53zM367.73 11.6H371.8V16.4H367.73zM371.8 11.6H375.87V16.4H371.8zM262 16.4H266.07V21.2H262zM270.13 16.4H274.2V21.2H270.13zM290.47 16.4H294.53V21.2H290.47zM294.53 16.4H298.6V21.2H294.53zM298.6 16.4H302.67V21.2H298.6zM306.73 16.4H310.8V21.2H306.73zM310.8 16.4H314.87V21.2H310.8zM314.87 16.4H318.93V21.2H314.87zM318.93 16.4H323V21.2H318.93zM323 16.4H327.07V21.2H323zM327.07 16.4H331.13V21.2H327.07zM335.2 16.4H339.27V21.2H335.2zM351.47 16.4H355.53V21.2H351.47zM371.8 16.4H375.87V21.2H371.8zM375.87 16.4H379.93V21.2H375.87zM379.93 16.4H384V21.2H379.93zM262 21.2H266.07V26H262zM266.07 21.2H270.13V26H266.07zM290.47 21.2H294.53V26H290.47zM306.73 21.2H310.8V26H306.73zM310.8 21.2H314.87V26H310.8zM314.87 21.2H318.93V26H314.87zM318.93 21.2H323V26H318.93zM335.2 21.2H339.27V26H335.2zM339.27 21.2H343.33V26H339.27zM351.47 21.2H355.53V26H351.47zM355.53 21.2H359.6V26H355.53zM375.87 21.2H379.93V26H375.87zM262 26H266.07V30.8H262zM306.73 26H310.8V30.8H306.73zM314.87 26H318.93V30.8H314.87zM323 26H327.07V30.8H323zM327.07 26H331.13V30.8H327.07zM343.33 26H347.4V30.8H343.33zM351.47 26H355.53V30.8H351.47zM371.8 26H375.87V30.8H371.8zM282.33 30.8H286.4V35.6H282.33zM302.67 30.8H306.73V35.6H302.67zM310.8 30.8H314.87V35.6H310.8zM323 30.8H327.07V35.6H323zM327.07 30.8H331.13V35.6H327.07zM343.33 30.8H347.4V35.6H343.33zM355.53 30.8H359.6V35.6H355.53zM371.8 30.8H375.87V35.6H371.8zM262 35.6H266.07V40.4H262zM274.2 35.6H278.27V40.4H274.2zM286.4 35.6H290.47V40.4H286.4zM298.6 35.6H302.67V40.4H298.6zM310.8 35.6H314.87V40.4H310.8zM327.07 35.6H331.13V40.4H327.07zM367.73 35.6H371.8V40.4H367.73zM375.87 35.6H379.93V40.4H375.87zM262 40.4H266.07V45.2H262zM274.2 40.4H278.27V45.2H274.2zM282.33 40.4H286.4V45.2H282.33zM286.4 40.4H290.47V45.2H286.4zM290.47 40.4H294.53V45.2H290.47zM327.07 40.4H331.13V45.2H327.07zM331.13 40.4H335.2V45.2H331.13zM339.27 40.4H343.33V45.2H339.27zM347.4 40.4H351.47V45.2H347.4zM351.47 40.4H355.53V45.2H351.47zM355.53 40.4H359.6V45.2H355.53zM359.6 40.4H363.67V45.2H359.6zM363.67 40.4H367.73V45.2H363.67zM379.93 40.4H384V45.2H379.93zM266.07 45.2H270.13V50H266.07zM270.13 45.2H274.2V50H270.13zM286.4 45.2H290.47V50H286.4zM302.67 45.2H306.73V50H302.67zM323 45.2H327.07V50H323zM327.07 45.2H331.13V50H327.07zM355.53 45.2H359.6V50H355.53zM359.6 45.2H363.67V50H359.6zM379.93 45.2H384V50H379.93zM266.07 50H270.13V54.8H266.07zM270.13 50H274.2V54.8H270.13zM274.2 50H278.27V54.8H274.2zM323 50H327.07V54.8H323zM327.07 50H331.13V54.8H327.07zM335.2 50H339.27V54.8H335.2zM375.87 50H379.93V54.8H375.87zM270.13 54.8H274.2V59.6H270.13zM327.07 54.8H331.13V59.6H327.07zM331.13 54.8H335.2V59.6H331.13zM335.2 54.8H339.27V59.6H335.2zM266.07 59.6H270.13V64.4H266.07zM270.13 59.6H274.2V64.4H270.13zM262 64.4H266.07V69.2H262zM262 69.2H266.07V74H262zM262 78.8H266.07V83.6H262zM262 83.6H266.07V88.4H262zM266.07 88.4H270.13V93.2H266.07z"/>
<path fill="#0000d0" d="M266.07 2H270.13V6.8H266.07zM310.8 2H314.87V6.8H310.8zM327.07 2H331.13V6.8H327.07zM335.2 2H339.27V6.8H335.2zM371.8 2H375.87V6.8H371.8zM262 6.8H266.07V11.6H262zM266.07 6.8H270.13V11.6H266.07zM290.47 6.8H294.53V11.6H290.47zM310.8 6.8H314.87V11.6H310.8zM331.13 6.8H335.2V11.6H331.13zM335.2 6.8H339.27V11.6H335.2zM286.4 11.6H290.47V16.4H286.4zM290.47 11.6H294.53V16.4H290.47zM314.87 11.6H318.93V16.4H314.87zM327.07 11.6H331.13V16.4H327.07zM335.2 11.6H339.27V16.4H335.2zM347.4 11.6H351.47V16.4H347.4zM359.6 11.6H363.67V16.4H359.6zM363.67 11.6H367.73V16.4H363.67zM274.2 16.4H278.27V21.2H274.2zM278.27 16.4H282.33V21.2H278.27zM282.33 16.4H286.4V21.2H282.33zM286.4 16.4H290.47V21.2H286.4zM302.67 16.4H306.73V21.2H302.67zM343.33 16.4H347.4V21.2H343.33zM347.4 16.4H351.47V21.2H347.4zM355.53 16.4H359.6V21.2H355.53zM363.67 16.4H367.73V21.2H363.67zM367.73 16.4H371.8V21.2H367.73zM270.13 21.2H274.2V26H270.13zM286.4 21.2H290.47V26H286.4zM294.53 21.2H298.6V26H294.53zM298.6 21.2H302.67V26H298.6zM302.67 21.2H306.73V26H302.67zM331.13 21.2H335.2V26H331.13zM343.33 21.2H347.4V26H343.33zM347.4 21.2H351.47V26H347.4zM359.6 21.2H363.67V26H359.6zM367.73 21.2H371.8V26H367.73zM379.93 21.2H384V26H379.93zM278.27 26H282.33V30.8H278.27zM290.47 26H294.53V30.8H290.47zM294.53 26H298.6V30.8H294.53zM298.6 26H302.67V30.8H298.6zM302.67 26H306.73V30.8H302.67zM318.93 26H323V30.8H318.93zM331.13 26H335.2V30.8H331.13zM339.27 26H343.33V30.8H339.27zM347.4 26H351.47V30.8H347.4zM359.6 26H363.67V30.8H359.6zM367.73 26H371.8V30.8H367.73zM375.87 26H379.93V30.8H375.87zM379.93 26H384V30.8H379.93zM270.13 30.8H274.2V35.6H270.13zM274.2 30.8H278.27V35.6H274.2zM278.27 30.8H282.33V35.6H278.27zM286.4 30.8H290.47V35.6H286.4zM290.47 30.8H294.53V35.6H290.47zM294.53 30.8H298.6V35.6H294.53zM298.6 30.8H302.67V35.6H298.6zM314.87 30.8H318.93V35.6H314.87zM318.93 30.8H323V35.6H318.93zM339.27 30.8H343.33V35.6H339.27zM359.6 30.8H363.67V35.6H359.6zM367.73 30.8H371.8V35.6H367.73zM375.87 30.8H379.93V35.6H375.87zM379.93 30.8H384V35.6H379.93zM278.27 35.6H282.33V40.4H278.27zM290.47 35.6H294.53V40.4H290.47zM294.53 35.6H298.6V40.4H294.53zM335.2 35.6H339.27V40.4H335.2zM339.27 35.6H343.33V40.4H339.27zM351.47 35.6H355.53V40.4H351.47zM355.53 35.6H359.6V40.4H355.53zM359.6 35.6H363.67V40.4H359.6zM363.67 35.6H367.73V40.4H363.67zM379.93 35.6H384V40.4H379.93zM343.33 40.4H347.4V45.2H343.33zM375.87 40.4H379.93V45.2H375.87zM262 45.2H266.07V50H262zM375.87 45.2H379.93V50H375.87zM339.27 50H343.33V54.8H339.27zM266.07 54.8H270.13V59.6H266.07zM339.27 54.8H343.33V59.6H339.27zM262 59.6H266.07V64.4H262zM262 88.4H266.07V93.2H262zM262 93.2H266.07V98H262z"/>
<path fill="#0000f1" d="M274.2 2H278.27V6.8H274.2zM294.53 2H298.6V6.8H294.53zM314.87 2H318.93V6.8H314.87zM347.4 2H351.47V6.8H347.4zM351.47 2H355.53V6.8H351.47zM359.6 2H363.67V6.8H359.6zM278.27 6.8H282.33V11.6H278.27zM298.6 6.8H302.67V11.6H298.6zM302.67 6.8H306.73V11.6H302.67zM306.73 6.8H310.8V11.6H306.73zM318.93 6.8H323V11.6H318.93zM351.47 6.8H355.53V11.6H351.47zM363.67 6.8H367.73V11.6H363.67zM371.8 6.8H375.87V11.6H371.8zM375.87 6.8H379.93V11.6H375.87zM379.93 6.8H384V11.6H379.93zM306.73 11.6H310.8V16.4H306.73zM375.87 11.6H379.93V16.4H375.87zM379.93 11.6H384V16.4H379.93zM266.07 16.4H270.13V21.2H266.07zM339.27 16.4H343.33V21.2H339.27zM323 21.2H327.07V26H323zM327.07 21.2H331.13V26H327.07zM371.8 21.2H375.87V26H371.8zM310.8 26H314.87V30.8H310.8zM355.53 26H359.6V30.8H355.53zM306.73 30.8H310.8V35.6H306.73zM266.07 35.6H270.13V40.4H266.07zM270.13 35.6H274.2V40.4H270.13zM282.33 35.6H286.4V40.4H282.33zM314.87 35.6H318.93V40.4H314.87zM318.93 35.6H323V40.4H318.93zM323 35.6H327.07V40.4H323zM371.8 35.6H375.87V40.4H371.8zM266.07 40.4H270.13V45.2H266.07zM270.13 40.4H274.2V45.2H270.13zM278.27 40.4H282.33V45.2H278.27zM294.53 40.4H298.6V45.2H294.53zM298.6 40.4H302.67V45.2H298.6zM302.67 40.4H306.73V45.2H302.67zM306.73 40.4H310.8V45.2H306.73zM310.8 40.4H314.87V45.2H310.8zM314.87 40.4H318.93V45.2H314.87zM318.93 40.4H323V45.2H318.93zM323 40.4H327.07V45.2H323zM335.2 40.4H339.27V45.2H335.2zM367.73 40.4H371.8V45.2H367.73zM371.8 40.4H375.87V45.2H371.8zM274.2 45.2H278.27V50H274.2zM282.33 45.2H286.4V50H282.33zM290.47 45.2H294.53V50H290.47zM298.6 45.2H302.67V50H298.6zM306.73 45.2H310.8V50H306.73zM314.87 45.2H318.93V50H314.87zM318.93 45.2H323V50H318.93zM331.13 45.2H335.2V50H331.13zM335.2 45.2H339.27V50H335.2zM339.27 45.2H343.33V50H339.27zM343.33 45.2H347.4V50H343.33zM347.4 45.2H351.47V50H347.4zM351.47 45.2H355.53V50H351.47zM363.67 45.2H367.73V50H363.67zM371.8 45.2H375.87V50H371.8zM314.87 50H318.93V54.8H314.87zM318.93 50H323V54.8H318.93zM331.13 50H335.2V54.8H331.13zM343.33 50H347.4V54.8H343.33zM355.53 50H359.6V54.8H355.53zM371.8 50H375.87V54.8H371.8zM379.93 50H384V54.8H379.93zM274.2 54.8H278.27V59.6H274.2zM278.27 54.8H282.33V59.6H278.27zM318.93 54.8H323V59.6H318.93zM323 54.8H327.07V59.6H323zM343.33 54.8H347.4V59.6H343.33zM274.2 59.6H278.27V64.4H274.2zM266.07 64.4H270.13V69.2H266.07zM270.13 64.4H274.2V69.2H270.13zM266.07 69.2H270.13V74H266.07zM270.13 69.2H274.2V74H270.13zM262 74H266.07V78.8H262zM266.07 74H270.13V78.8H266.07zM266.07 78.8H270.13V83.6H266.07zM266.07 83.6H270.13V88.4H266.07zM266.07 93.2H270.13V98H266.07z"/>
<path fill="#0002ff" d="M278.27 2H282.33V6.8H278.27zM282.33 2H286.4V6.8H282.33zM302.67 2H306.73V6.8H302.67zM318.93 2H323V6.8H318.93zM363.67 2H367.73V6.8H363.67zM302.67 35.6H306.73V40.4H302.67zM306.73 35.6H310.8V40.4H306.73zM278.27 45.2H282.33V50H278.27zM294.53 45.2H298.6V50H294.53zM310.8 45.2H314.87V50H310.8zM367.73 45.2H371.8V50H367.73zM278.27 50H282.33V54.8H278.27zM282.33 50H286.4V54.8H282.33zM286.4 50H290.47V54.8H286.4zM290.47 50H294.53V54.8H290.47zM306.73 50H310.8V54.8H306.73zM310.8 50H314.87V54.8H310.8zM347.4 50H351.47V54.8H347.4zM351.47 50H355.53V54.8H351.47zM359.6 50H363.67V54.8H359.6zM363.67 50H367.73V54.8H363.67zM367.73 50H371.8V54.8H367.73zM282.33 54.8H286.4V59.6H282.33zM314.87 54.8H318.93V59.6H314.87zM351.47 54.8H355.53V59.6H351.47zM355.53 54.8H359.6V59.6H355.53zM367.73 54.8H371.8V59.6H367.73zM371.8 54.8H375.87V59.6H371.8zM375.87 54.8H379.93V59.6H375.87zM379.93 54.8H384V59.6H379.93zM323 59.6H327.07V64.4H323zM327.07 59.6H331.13V64.4H327.07zM331.13 59.6H335.2V64.4H331.13zM335.2 59.6H339.27V64.4H335.2zM339.27 59.6H343.33V64.4H339.27zM343.33 59.6H347.4V64.4H343.33zM355.53 59.6H359.6V64.4H355.53zM359.6 59.6H363.67V64.4H359.6zM274.2 64.4H278.27V69.2H274.2zM274.2 69.2H278.27V74H274.2zM270.13 74H274.2V78.8H270.13zM270.13 78.8H274.2V83.6H270.13zM262 98H266.07V102.8H262z"/>
<path fill="#0012ff" d="M298.6 2H302.67V6.8H298.6zM294.53 50H298.6V54.8H294.53zM298.6 50H302.67V54.8H298.6zM302.67 50H306.73V54.8H302.67zM286.4 54.8H290.47V59.6H286.4zM310.8 54.8H314.87V59.6H310.8zM347.4 54.8H351.47V59.6H347.4zM359.6 54.8H363.67V59.6H359.6zM363.67 54.8H367.73V59.6H363.67zM278.27 59.6H282.33V64.4H278.27zM282.33 59.6H286.4V64.4H282.33zM286.4 59.6H290.47V64.4H286.4zM294.53 59.6H298.6V64.4H294.53zM318.93 59.6H323V64.4H318.93zM347.4 59.6H351.47V64.4H347.4zM351.47 59.6H355.53V64.4H351.47zM363.67 59.6H367.73V64.4H363.67zM294.53 64.4H298.6V69.2H294.53zM274.2 74H278.27V78.8H274.2zM270.13 83.6H274.2V88.4H270.13zM270.13 88.4H274.2V93.2H270.13zM266.07 98H270.13V102.8H266.07zM262 107.6H266.07V112.4H262z"/>
<path fill="#0000c0" d="M331.13 11.6H335.2V16.4H331.13zM331.13 16.4H335.2V21.2H331.13zM359.6 16.4H363.67V21.2H359.6zM274.2 21.2H278.27V26H274.2zM282.33 21.2H286.4V26H282.33zM363.67 21.2H367.73V26H363.67zM266.07 26H270.13V30.8H266.07zM274.2 26H278.27V30.8H274.2zM282.33 26H286.4V30.8H282.33zM286.4 26H290.47V30.8H286.4zM335.2 26H339.27V30.8H335.2zM262 30.8H266.07V35.6H262zM266.07 30.8H270.13V35.6H266.07zM331.13 30.8H335.2V35.6H331.13zM347.4 30.8H351.47V35.6H347.4zM351.47 30.8H355.53V35.6H351.47zM363.67 30.8H367.73V35.6H363.67zM331.13 35.6H335.2V40.4H331.13zM343.33 35.6H347.4V40.4H343.33zM347.4 35.6H351.47V40.4H347.4zM262 50H266.07V54.8H262zM262 54.8H266.07V59.6H262z"/>
<path fill="#0000b0" d="M278.27 21.2H282.33V26H278.27zM270.13 26H274.2V30.8H270.13zM363.67 26H367.73V30.8H363.67zM335.2 30.8H339.27V35.6H335.2z"/>
<path fill="#0022ff" d="M290.47 54.8H294.53V59.6H290.47zM294.53 54.8H298.6V59.6H294.53zM306.73 54.8H310.8V59.6H306.73zM290.47 59.6H294.53V64.4H290.47zM298.6 59.6H302.67V64.4H298.6zM314.87 59.6H318.93V64.4H314.87zM367.73 59.6H371.8V64.4H367.73zM371.8 59.6H375.87V64.4H371.8zM375.87 59.6H379.93V64.4H375.87zM379.93 59.6H384V64.4H379.93zM278.27 64.4H282.33V69.2H278.27zM290.47 64.4H294.53V69.2H290.47zM331.13 64.4H335.2V69.2H331.13zM335.2 64.4H339.27V69.2H335.2zM339.27 64.4H343.33V69.2H339.27zM355.53 64.4H359.6V69.2H355.53zM359.6 64.4H363.67V69.2H359.6zM270.13 93.2H274.2V98H270.13zM262 102.8H266.07V107.6H262zM266.07 102.8H270.13V107.6H266.07z"/>
<path fill="#0033ff" d="M298.6 54.8H302.67V59.6H298.6zM302.67 54.8H306.73V59.6H302.67zM282.33 64.4H286.4V69.2H282.33zM286.4 64.4H290.47V69.2H286.4zM298.6 64.4H302.67V69.2H298.6zM323 64.4H327.07V69.2H323zM327.07 64.4H331.13V69.2H327.07zM343.33 64.4H347.4V69.2H343.33zM351.47 64.4H355.53V69.2H351.47zM363.67 64.4H367.73V69.2H363.67zM375.87 64.4H379.93V69.2H375.87zM278.27 69.2H282.33V74H278.27zM278.27 74H282.33V78.8H278.27zM274.2 78.8H278.27V83.6H274.2zM262 112.4H266.07V117.2H262z"/>
<path fill="#0043ff" d="M302.67 59.6H306.73V64.4H302.67zM306.73 59.6H310.8V64.4H306.73zM310.8 59.6H314.87V64.4H310.8zM302.67 64.4H306.73V69.2H302.67zM310.8 64.4H314.87V69.2H310.8zM314.87 64.4H318.93V69.2H314.87zM318.93 64.4H323V69.2H318.93zM347.4 64.4H351.47V69.2H347.4zM367.73 64.4H371.8V69.2H367.73zM371.8 64.4H375.87V69.2H371.8zM379.93 64.4H384V69.2H379.93zM282.33 69.2H286.4V74H282.33zM286.4 69.2H290.47V74H286.4zM327.07 69.2H331.13V74H327.07zM331.13 69.2H335.2V74H331.13zM335.2 69.2H339.27V74H335.2zM339.27 69.2H343.33V74H339.27zM274.2 83.6H278.27V88.4H274.2zM270.13 98H274.2V102.8H270.13zM266.07 107.6H270.13V112.4H266.07z"/>
<path fill="#0053ff" d="M306.73 64.4H310.8V69.2H306.73zM290.47 69.2H294.53V74H290.47zM298.6 69.2H302.67V74H298.6zM302.67 69.2H306.73V74H302.67zM306.73 69.2H310.8V74H306.73zM310.8 69.2H314.87V74H310.8zM314.87 69.2H318.93V74H314.87zM318.93 69.2H323V74H318.93zM323 69.2H327.07V74H323zM343.33 69.2H347.4V74H343.33zM347.4 69.2H351.47V74H347.4zM351.47 69.2H355.53V74H351.47zM355.53 69.2H359.6V74H355.53zM359.6 69.2H363.67V74H359.6zM363.67 69.2H367.73V74H363.67zM367.73 69.2H371.8V74H367.73zM371.8 69.2H375.87V74H371.8zM375.87 69.2H379.93V74H375.87zM379.93 69.2H384V74H379.93zM282.33 74H286.4V78.8H282.33zM286.4 74H290.47V78.8H286.4zM278.27 78.8H282.33V83.6H278.27zM274.2 88.4H278.27V93.2H274.2zM262 117.2H266.07V122H262z"/>
<path fill="#0063ff" d="M294.53 69.2H298.6V74H294.53zM290.47 74H294.53V78.8H290.47zM302.67 74H306.73V78.8H302.67zM327.07 74H331.13V78.8H327.07zM331.13 74H335.2V78.8H331.13zM335.2 74H339.27V78.8H335.2zM339.27 74H343.33V78.8H339.27zM347.4 74H351.47V78.8H347.4zM351.47 74H355.53V78.8H351.47zM367.73 74H371.8V78.8H367.73zM274.2 93.2H278.27V98H274.2zM270.13 102.8H274.2V107.6H270.13zM266.07 112.4H270.13V117.2H266.07zM262 122H266.07V126.8H262z"/>
<path fill="#0084ff" d="M294.53 74H298.6V78.8H294.53zM310.8 74H314.87V78.8H310.8zM355.53 74H359.6V78.8H355.53zM359.6 74H363.67V78.8H359.6zM286.4 78.8H290.47V83.6H286.4zM290.47 78.8H294.53V83.6H290.47zM327.07 78.8H331.13V83.6H327.07zM331.13 78.8H335.2V83.6H331.13zM339.27 78.8H343.33V83.6H339.27zM355.53 78.8H359.6V83.6H355.53zM359.6 78.8H363.67V83.6H359.6zM379.93 78.8H384V83.6H379.93zM282.33 83.6H286.4V88.4H282.33zM327.07 83.6H331.13V88.4H327.07zM331.13 83.6H335.2V88.4H331.13zM339.27 83.6H343.33V88.4H339.27zM278.27 88.4H282.33V93.2H278.27z"/>
<path fill="#0073ff" d="M298.6 74H302.67V78.8H298.6zM306.73 74H310.8V78.8H306.73zM314.87 74H318.93V78.8H314.87zM318.93 74H323V78.8H318.93zM323 74H327.07V78.8H323zM343.33 74H347.4V78.8H343.33zM363.67 74H367.73V78.8H363.67zM371.8 74H375.87V78.8H371.8zM375.87 74H379.93V78.8H375.87zM379.93 74H384V78.8H379.93zM282.33 78.8H286.4V83.6H282.33zM302.67 78.8H306.73V83.6H302.67zM343.33 78.8H347.4V83.6H343.33zM347.4 78.8H351.47V83.6H347.4zM351.47 78.8H355.53V83.6H351.47zM278.27 83.6H282.33V88.4H278.27zM274.2 98H278.27V102.8H274.2zM266.07 117.2H270.13V122H266.07zM262 126.8H266.07V131.6H262z"/>
<path fill="#00a4ff" d="M294.53 78.8H298.6V83.6H294.53zM310.8 78.8H314.87V83.6H310.8zM314.87 78.8H318.93V83.6H314.87zM318.93 78.8H323V83.6H318.93zM363.67 78.8H367.73V83.6H363.67zM367.73 78.8H371.8V83.6H367.73zM306.73 83.6H310.8V88.4H306.73zM310.8 83.6H314.87V88.4H310.8zM314.87 83.6H318.93V88.4H314.87zM318.93 83.6H323V88.4H318.93zM323 83.6H327.07V88.4H323zM347.4 83.6H351.47V88.4H347.4zM290.47 88.4H294.53V93.2H290.47zM314.87 88.4H318.93V93.2H314.87zM343.33 88.4H347.4V93.2H343.33zM327.07 93.2H331.13V98H327.07zM278.27 98H282.33V102.8H278.27zM274.2 102.8H278.27V107.6H274.2zM270.13 112.4H274.2V117.2H270.13zM266.07 122H270.13V126.8H266.07zM262 131.6H266.07V136.4H262z"/>
<path fill="#0094ff" d="M298.6 78.8H302.67V83.6H298.6zM306.73 78.8H310.8V83.6H306.73zM323 78.8H327.07V83.6H323zM335.2 78.8H339.27V83.6H335.2zM371.8 78.8H375.87V83.6H371.8zM375.87 78.8H379.93V83.6H375.87zM286.4 83.6H290.47V88.4H286.4zM290.47 83.6H294.53V88.4H290.47zM302.67 83.6H306.73V88.4H302.67zM335.2 83.6H339.27V88.4H335.2zM343.33 83.6H347.4V88.4H343.33zM282.33 88.4H286.4V93.2H282.33zM286.4 88.4H290.47V93.2H286.4zM327.07 88.4H331.13V93.2H327.07zM331.13 88.4H335.2V93.2H331.13zM335.2 88.4H339.27V93.2H335.2zM339.27 88.4H343.33V93.2H339.27zM278.27 93.2H282.33V98H278.27zM270.13 107.6H274.2V112.4H270.13z"/>
<path fill="#00b4ff" d="M294.53 83.6H298.6V88.4H294.53zM298.6 83.6H302.67V88.4H298.6zM351.47 83.6H355.53V88.4H351.47zM355.53 83.6H359.6V88.4H355.53zM359.6 83.6H363.67V88.4H359.6zM367.73 83.6H371.8V88.4H367.73zM379.93 83.6H384V88.4H379.93zM310.8 88.4H314.87V93.2H310.8zM318.93 88.4H323V93.2H318.93zM323 88.4H327.07V93.2H323zM331.13 93.2H335.2V98H331.13zM335.2 93.2H339.27V98H335.2zM339.27 93.2H343.33V98H339.27zM343.33 93.2H347.4V98H343.33zM339.27 102.8H343.33V107.6H339.27zM335.2 112.4H339.27V117.2H335.2zM359.6 141.2H363.67V146H359.6z"/>
<path fill="#00c4ff" d="M363.67 83.6H367.73V88.4H363.67zM371.8 83.6H375.87V88.4H371.8zM375.87 83.6H379.93V88.4H375.87zM306.73 88.4H310.8V93.2H306.73zM347.4 88.4H351.47V93.2H347.4zM282.33 93.2H286.4V98H282.33zM286.4 93.2H290.47V98H286.4zM314.87 93.2H318.93V98H314.87zM323 93.2H327.07V98H323zM331.13 98H335.2V102.8H331.13zM335.2 98H339.27V102.8H335.2zM339.27 98H343.33V102.8H339.27zM343.33 98H347.4V102.8H343.33zM278.27 102.8H282.33V107.6H278.27zM335.2 102.8H339.27V107.6H335.2zM274.2 107.6H278.27V112.4H274.2zM335.2 107.6H339.27V112.4H335.2zM339.27 107.6H343.33V112.4H339.27zM339.27 112.4H343.33V117.2H339.27zM266.07 126.8H270.13V131.6H266.07zM371.8 136.4H375.87V141.2H371.8z"/>
<path fill="#00d4ff" d="M294.53 88.4H298.6V93.2H294.53zM302.67 88.4H306.73V93.2H302.67zM351.47 88.4H355.53V93.2H351.47zM379.93 88.4H384V93.2H379.93zM290.47 93.2H294.53V98H290.47zM306.73 93.2H310.8V98H306.73zM310.8 93.2H314.87V98H310.8zM318.93 93.2H323V98H318.93zM347.4 93.2H351.47V98H347.4zM323 98H327.07V102.8H323zM327.07 98H331.13V102.8H327.07zM331.13 102.8H335.2V107.6H331.13zM343.33 102.8H347.4V107.6H343.33zM270.13 117.2H274.2V122H270.13zM335.2 117.2H339.27V122H335.2zM262 136.4H266.07V141.2H262zM359.6 136.4H363.67V141.2H359.6zM363.67 136.4H367.73V141.2H363.67zM367.73 136.4H371.8V141.2H367.73zM375.87 136.4H379.93V141.2H375.87zM355.53 141.2H359.6V146H355.53zM363.67 141.2H367.73V146H363.67zM367.73 141.2H371.8V146H367.73zM371.8 141.2H375.87V146H371.8z"/>
<path fill="#00e5ff" d="M298.6 88.4H302.67V93.2H298.6zM355.53 88.4H359.6V93.2H355.53zM294.53 93.2H298.6V98H294.53zM302.67 93.2H306.73V98H302.67zM282.33 98H286.4V102.8H282.33zM314.87 98H318.93V102.8H314.87zM318.93 98H323V102.8H318.93zM331.13 107.6H335.2V112.4H331.13zM343.33 107.6H347.4V112.4H343.33zM331.13 112.4H335.2V117.2H331.13zM343.33 112.4H347.4V117.2H343.33zM331.13 117.2H335.2V122H331.13zM339.27 117.2H343.33V122H339.27zM335.2 122H339.27V126.8H335.2zM335.2 126.8H339.27V131.6H335.2zM339.27 126.8H343.33V131.6H339.27zM266.07 131.6H270.13V136.4H266.07zM339.27 131.6H343.33V136.4H339.27zM343.33 131.6H347.4V136.4H343.33zM347.4 131.6H351.47V136.4H347.4zM351.47 131.6H355.53V136.4H351.47zM339.27 136.4H343.33V141.2H339.27zM343.33 136.4H347.4V141.2H343.33zM355.53 136.4H359.6V141.2H355.53zM379.93 136.4H384V141.2H379.93zM262 141.2H266.07V146H262zM343.33 141.2H347.4V146H343.33zM347.4 141.2H351.47V146H347.4zM379.93 141.2H384V146H379.93z"/>
<path fill="#00f5ff" d="M359.6 88.4H363.67V93.2H359.6zM375.87 88.4H379.93V93.2H375.87zM298.6 93.2H302.67V98H298.6zM286.4 98H290.47V102.8H286.4zM310.8 98H314.87V102.8H310.8zM347.4 98H351.47V102.8H347.4zM323 102.8H327.07V107.6H323zM327.07 102.8H331.13V107.6H327.07zM278.27 107.6H282.33V112.4H278.27zM327.07 107.6H331.13V112.4H327.07zM343.33 117.2H347.4V122H343.33zM339.27 122H343.33V126.8H339.27zM343.33 122H347.4V126.8H343.33zM347.4 122H351.47V126.8H347.4zM343.33 126.8H347.4V131.6H343.33zM347.4 126.8H351.47V131.6H347.4zM351.47 126.8H355.53V131.6H351.47zM335.2 131.6H339.27V136.4H335.2zM363.67 131.6H367.73V136.4H363.67zM367.73 131.6H371.8V136.4H367.73zM375.87 131.6H379.93V136.4H375.87zM379.93 131.6H384V136.4H379.93zM335.2 136.4H339.27V141.2H335.2zM347.4 136.4H351.47V141.2H347.4zM351.47 136.4H355.53V141.2H351.47zM335.2 141.2H339.27V146H335.2zM339.27 141.2H343.33V146H339.27zM351.47 141.2H355.53V146H351.47zM375.87 141.2H379.93V146H375.87z"/>
<path fill="#06fff9" d="M363.67 88.4H367.73V93.2H363.67zM371.8 88.4H375.87V93.2H371.8zM351.47 93.2H355.53V98H351.47zM290.47 98H294.53V102.8H290.47zM306.73 98H310.8V102.8H306.73zM282.33 102.8H286.4V107.6H282.33zM318.93 102.8H323V107.6H318.93zM323 107.6H327.07V112.4H323zM347.4 107.6H351.47V112.4H347.4zM274.2 112.4H278.27V117.2H274.2zM327.07 112.4H331.13V117.2H327.07zM347.4 112.4H351.47V117.2H347.4zM347.4 117.2H351.47V122H347.4zM331.13 122H335.2V126.8H331.13zM351.47 122H355.53V126.8H351.47zM331.13 126.8H335.2V131.6H331.13zM375.87 126.8H379.93V131.6H375.87zM379.93 126.8H384V131.6H379.93zM355.53 131.6H359.6V136.4H355.53zM359.6 131.6H363.67V136.4H359.6zM371.8 131.6H375.87V136.4H371.8zM266.07 136.4H270.13V141.2H266.07zM331.13 141.2H335.2V146H331.13z"/>
<path fill="#16ffe9" d="M367.73 88.4H371.8V93.2H367.73zM379.93 93.2H384V98H379.93zM294.53 98H298.6V102.8H294.53zM298.6 98H302.67V102.8H298.6zM302.67 98H306.73V102.8H302.67zM310.8 102.8H314.87V107.6H310.8zM347.4 102.8H351.47V107.6H347.4zM323 112.4H327.07V117.2H323zM327.07 117.2H331.13V122H327.07zM270.13 122H274.2V126.8H270.13zM379.93 122H384V126.8H379.93zM355.53 126.8H359.6V131.6H355.53zM363.67 126.8H367.73V131.6H363.67zM367.73 126.8H371.8V131.6H367.73zM371.8 126.8H375.87V131.6H371.8zM331.13 136.4H335.2V141.2H331.13zM266.07 141.2H270.13V146H266.07z"/>
<path fill="#26ffd9" d="M355.53 93.2H359.6V98H355.53zM314.87 102.8H318.93V107.6H314.87zM318.93 107.6H323V112.4H318.93zM327.07 122H331.13V126.8H327.07zM355.53 122H359.6V126.8H355.53zM270.13 126.8H274.2V131.6H270.13zM359.6 126.8H363.67V131.6H359.6zM331.13 131.6H335.2V136.4H331.13z"/>
<path fill="#57ffa8" d="M359.6 93.2H363.67V98H359.6zM379.93 98H384V102.8H379.93zM290.47 102.8H294.53V107.6H290.47zM294.53 102.8H298.6V107.6H294.53zM314.87 107.6H318.93V112.4H314.87zM278.27 112.4H282.33V117.2H278.27zM351.47 112.4H355.53V117.2H351.47zM323 122H327.07V126.8H323zM359.6 122H363.67V126.8H359.6zM367.73 122H371.8V126.8H367.73zM327.07 131.6H331.13V136.4H327.07z"/>
<path fill="#88ff77" d="M363.67 93.2H367.73V98H363.67zM306.73 107.6H310.8V112.4H306.73zM375.87 117.2H379.93V122H375.87zM274.2 122H278.27V126.8H274.2zM323 126.8H327.07V131.6H323zM323 131.6H327.07V136.4H323zM274.2 141.2H278.27V146H274.2z"/>
<path fill="#98ff67" d="M367.73 93.2H371.8V98H367.73zM355.53 98H359.6V102.8H355.53zM286.4 107.6H290.47V112.4H286.4zM314.87 112.4H318.93V117.2H314.87zM274.2 136.4H278.27V141.2H274.2zM318.93 141.2H323V146H318.93z"/>
<path fill="#67ff98" d="M371.8 93.2H375.87V98H371.8zM351.47 102.8H355.53V107.6H351.47zM310.8 107.6H314.87V112.4H310.8zM351.47 107.6H355.53V112.4H351.47zM379.93 112.4H384V117.2H379.93zM363.67 122H367.73V126.8H363.67zM323 141.2H327.07V146H323z"/>
<path fill="#47ffb8" d="M375.87 93.2H379.93V98H375.87zM286.4 102.8H290.47V107.6H286.4zM282.33 107.6H286.4V112.4H282.33zM318.93 112.4H323V117.2H318.93zM274.2 117.2H278.27V122H274.2zM379.93 117.2H384V122H379.93zM371.8 122H375.87V126.8H371.8zM327.07 126.8H331.13V131.6H327.07zM327.07 136.4H331.13V141.2H327.07zM270.13 141.2H274.2V146H270.13z"/>
<path fill="#37ffc8" d="M351.47 98H355.53V102.8H351.47zM306.73 102.8H310.8V107.6H306.73zM323 117.2H327.07V122H323zM351.47 117.2H355.53V122H351.47zM375.87 122H379.93V126.8H375.87zM270.13 131.6H274.2V136.4H270.13zM270.13 136.4H274.2V141.2H270.13zM327.07 141.2H331.13V146H327.07z"/>
<path fill="#fff500" d="M359.6 98H363.67V102.8H359.6zM371.8 98H375.87V102.8H371.8zM355.53 102.8H359.6V107.6H355.53zM375.87 102.8H379.93V107.6H375.87zM282.33 117.2H286.4V122H282.33zM367.73 117.2H371.8V122H367.73zM314.87 136.4H318.93V141.2H314.87z"/>
<path fill="#ff9400" d="M363.67 98H367.73V102.8H363.67zM306.73 117.2H310.8V122H306.73zM310.8 122H314.87V126.8H310.8zM310.8 136.4H314.87V141.2H310.8zM286.4 141.2H290.47V146H286.4z"/>
<path fill="#ffa400" d="M367.73 98H371.8V102.8H367.73zM371.8 112.4H375.87V117.2H371.8zM286.4 117.2H290.47V122H286.4zM282.33 122H286.4V126.8H282.33zM306.73 141.2H310.8V146H306.73z"/>
<path fill="#b8ff47" d="M375.87 98H379.93V102.8H375.87zM359.6 117.2H363.67V122H359.6zM318.93 122H323V126.8H318.93zM318.93 136.4H323V141.2H318.93z"/>
<path fill="#77ff88" d="M298.6 102.8H302.67V107.6H298.6zM302.67 102.8H306.73V107.6H302.67zM379.93 102.8H384V107.6H379.93zM379.93 107.6H384V112.4H379.93zM318.93 117.2H323V122H318.93zM355.53 117.2H359.6V122H355.53zM323 136.4H327.07V141.2H323z"/>
<path fill="#ff5300" d="M359.6 102.8H363.67V107.6H359.6zM371.8 102.8H375.87V107.6H371.8zM363.67 112.4H367.73V117.2H363.67zM290.47 117.2H294.53V122H290.47zM282.33 131.6H286.4V136.4H282.33z"/>
<path fill="#e10000" d="M363.67 102.8H367.73V107.6H363.67zM367.73 102.8H371.8V107.6H367.73zM286.4 131.6H290.47V136.4H286.4z"/>
<path fill="#c8ff37" d="M290.47 107.6H294.53V112.4H290.47zM294.53 107.6H298.6V112.4H294.53zM298.6 107.6H302.67V112.4H298.6zM302.67 107.6H306.73V112.4H302.67zM310.8 112.4H314.87V117.2H310.8zM355.53 112.4H359.6V117.2H355.53zM375.87 112.4H379.93V117.2H375.87zM371.8 117.2H375.87V122H371.8zM318.93 131.6H323V136.4H318.93z"/>
<path fill="#ffe500" d="M355.53 107.6H359.6V112.4H355.53zM375.87 107.6H379.93V112.4H375.87zM302.67 112.4H306.73V117.2H302.67zM314.87 122H318.93V126.8H314.87zM278.27 126.8H282.33V131.6H278.27zM278.27 136.4H282.33V141.2H278.27zM310.8 141.2H314.87V146H310.8z"/>
<path fill="#ff3300" d="M359.6 107.6H363.67V112.4H359.6zM306.73 136.4H310.8V141.2H306.73zM294.53 141.2H298.6V146H294.53z"/>
<path fill="#d00000" d="M363.67 107.6H367.73V112.4H363.67zM367.73 107.6H371.8V112.4H367.73zM298.6 122H302.67V126.8H298.6zM302.67 126.8H306.73V131.6H302.67zM302.67 131.6H306.73V136.4H302.67zM294.53 136.4H298.6V141.2H294.53zM298.6 136.4H302.67V141.2H298.6z"/>
<path fill="#ff4300" d="M371.8 107.6H375.87V112.4H371.8zM367.73 112.4H371.8V117.2H367.73zM294.53 117.2H298.6V122H294.53zM298.6 117.2H302.67V122H298.6zM286.4 122H290.47V126.8H286.4zM306.73 122H310.8V126.8H306.73zM298.6 141.2H302.67V146H298.6z"/>
<path fill="#a8ff57" d="M282.33 112.4H286.4V117.2H282.33zM278.27 117.2H282.33V122H278.27zM274.2 126.8H278.27V131.6H274.2zM274.2 131.6H278.27V136.4H274.2z"/>
<path fill="#e9ff16" d="M286.4 112.4H290.47V117.2H286.4zM314.87 117.2H318.93V122H314.87zM278.27 122H282.33V126.8H278.27zM278.27 141.2H282.33V146H278.27z"/>
<path fill="#ffd500" d="M290.47 112.4H294.53V117.2H290.47zM298.6 112.4H302.67V117.2H298.6zM310.8 117.2H314.87V122H310.8zM278.27 131.6H282.33V136.4H278.27zM314.87 131.6H318.93V136.4H314.87z"/>
<path fill="#ffb400" d="M294.53 112.4H298.6V117.2H294.53zM359.6 112.4H363.67V117.2H359.6z"/>
<path fill="#f9ff06" d="M306.73 112.4H310.8V117.2H306.73zM363.67 117.2H367.73V122H363.67z"/>
<path fill="#ff6300" d="M302.67 117.2H306.73V122H302.67zM282.33 126.8H286.4V131.6H282.33zM310.8 126.8H314.87V131.6H310.8zM310.8 131.6H314.87V136.4H310.8zM290.47 141.2H294.53V146H290.47z"/>
<path fill="#f10000" d="M290.47 122H294.53V126.8H290.47zM290.47 136.4H294.53V141.2H290.47z"/>
<path fill="#c00000" d="M294.53 122H298.6V126.8H294.53zM290.47 126.8H294.53V131.6H290.47z"/>
<path fill="#ff0200" d="M302.67 122H306.73V126.8H302.67zM286.4 126.8H290.47V131.6H286.4zM306.73 131.6H310.8V136.4H306.73zM302.67 136.4H306.73V141.2H302.67z"/>
<path fill="#900000" d="M294.53 126.8H298.6V131.6H294.53zM298.6 126.8H302.67V131.6H298.6zM294.53 131.6H298.6V136.4H294.53zM298.6 131.6H302.67V136.4H298.6z"/>
<path fill="#ff1200" d="M306.73 126.8H310.8V131.6H306.73z"/>
<path fill="#ffc400" d="M314.87 126.8H318.93V131.6H314.87zM282.33 141.2H286.4V146H282.33z"/>
<path fill="#d9ff26" d="M318.93 126.8H323V131.6H318.93zM314.87 141.2H318.93V146H314.87z"/>
<path fill="#b00000" d="M290.47 131.6H294.53V136.4H290.47z"/>
<path fill="#ff7300" d="M282.33 136.4H286.4V141.2H282.33zM302.67 141.2H306.73V146H302.67z"/>
<path fill="#ff2200" d="M286.4 136.4H290.47V141.2H286.4z"/>
</g></g>
<rect x="262.5" y="2.5" width="122" height="144" fill="none" stroke="#707070" stroke-width="1"/></g>
<g><clipPath id="c390"><rect x="390" y="2" width="118" height="146"/></clipPath>
<g clip-path="url(#c390)"><g filter="url(#blr)" shape-rendering="crispEdges">
<path fill="#0002ff" d="M390 2H393.93V6.87H390zM405.73 2H409.67V6.87H405.73zM425.4 2H429.33V6.87H425.4zM429.33 2H433.27V6.87H429.33zM441.13 2H445.07V6.87H441.13zM445.07 2H449V6.87H445.07zM472.6 2H476.53V6.87H472.6zM492.27 2H496.2V6.87H492.27zM393.93 6.87H397.87V11.73H393.93zM405.73 6.87H409.67V11.73H405.73zM429.33 6.87H433.27V11.73H429.33zM437.2 6.87H441.13V11.73H437.2zM441.13 6.87H445.07V11.73H441.13zM492.27 6.87H496.2V11.73H492.27zM397.87 11.73H401.8V16.6H397.87zM405.73 11.73H409.67V16.6H405.73zM409.67 11.73H413.6V16.6H409.67zM413.6 11.73H417.53V16.6H413.6zM417.53 11.73H421.47V16.6H417.53zM429.33 11.73H433.27V16.6H429.33zM488.33 11.73H492.27V16.6H488.33zM504.07 11.73H508V16.6H504.07zM390 16.6H393.93V21.47H390zM393.93 16.6H397.87V21.47H393.93zM397.87 16.6H401.8V21.47H397.87zM409.67 16.6H413.6V21.47H409.67zM413.6 16.6H417.53V21.47H413.6zM500.13 16.6H504.07V21.47H500.13zM504.07 16.6H508V21.47H504.07zM393.93 21.47H397.87V26.33H393.93zM397.87 21.47H401.8V26.33H397.87zM413.6 21.47H417.53V26.33H413.6zM496.2 21.47H500.13V26.33H496.2zM500.13 21.47H504.07V26.33H500.13zM504.07 21.47H508V26.33H504.07zM500.13 26.33H504.07V31.2H500.13zM504.07 26.33H508V31.2H504.07zM492.27 36.07H496.2V40.93H492.27zM504.07 36.07H508V40.93H504.07zM393.93 40.93H397.87V45.8H393.93zM492.27 40.93H496.2V45.8H492.27zM500.13 40.93H504.07V45.8H500.13zM397.87 45.8H401.8V50.67H397.87zM500.13 45.8H504.07V50.67H500.13zM393.93 50.67H397.87V55.53H393.93zM397.87 50.67H401.8V55.53H397.87zM401.8 50.67H405.73V55.53H401.8zM492.27 50.67H496.2V55.53H492.27zM496.2 50.67H500.13V55.53H496.2zM500.13 50.67H504.07V55.53H500.13zM504.07 55.53H508V60.4H504.07zM500.13 60.4H504.07V65.27H500.13zM504.07 60.4H508V65.27H504.07zM500.13 65.27H504.07V70.13H500.13zM504.07 65.27H508V70.13H504.07zM390 70.13H393.93V75H390zM393.93 70.13H397.87V75H393.93zM393.93 79.87H397.87V84.73H393.93zM393.93 84.73H397.87V89.6H393.93z"/>
<path fill="#0012ff" d="M393.93 2H397.87V6.87H393.93zM409.67 2H413.6V6.87H409.67zM413.6 2H417.53V6.87H413.6zM417.53 2H421.47V6.87H417.53zM421.47 2H425.4V6.87H421.47zM449 2H452.93V6.87H449zM476.53 2H480.47V6.87H476.53zM484.4 2H488.33V6.87H484.4zM496.2 2H500.13V6.87H496.2zM500.13 2H504.07V6.87H500.13zM409.67 6.87H413.6V11.73H409.67zM413.6 6.87H417.53V11.73H413.6zM417.53 6.87H421.47V11.73H417.53zM421.47 6.87H425.4V11.73H421.47zM425.4 6.87H429.33V11.73H425.4zM433.27 6.87H437.2V11.73H433.27zM445.07 6.87H449V11.73H445.07zM484.4 6.87H488.33V11.73H484.4zM496.2 6.87H500.13V11.73H496.2zM500.13 6.87H504.07V11.73H500.13zM504.07 6.87H508V11.73H504.07zM401.8 11.73H405.73V16.6H401.8zM421.47 11.73H425.4V16.6H421.47zM425.4 11.73H429.33V16.6H425.4zM433.27 11.73H437.2V16.6H433.27zM441.13 11.73H445.07V16.6H441.13zM445.07 11.73H449V16.6H445.07zM484.4 11.73H488.33V16.6H484.4zM492.27 11.73H496.2V16.6H492.27zM496.2 11.73H500.13V16.6H496.2zM500.13 11.73H504.07V16.6H500.13zM401.8 16.6H405.73V21.47H401.8zM405.73 16.6H409.67V21.47H405.73zM417.53 16.6H421.47V21.47H417.53zM449 16.6H452.93V21.47H449zM456.87 16.6H460.8V21.47H456.87zM460.8 16.6H464.73V21.47H460.8zM472.6 16.6H476.53V21.47H472.6zM492.27 16.6H496.2V21.47H492.27zM496.2 16.6H500.13V21.47H496.2zM401.8 21.47H405.73V26.33H401.8zM409.67 21.47H413.6V26.33H409.67zM417.53 21.47H421.47V26.33H417.53zM492.27 21.47H496.2V26.33H492.27zM397.87 26.33H401.8V31.2H397.87zM413.6 26.33H417.53V31.2H413.6zM496.2 26.33H500.13V31.2H496.2zM397.87 31.2H401.8V36.07H397.87zM488.33 31.2H492.27V36.07H488.33zM492.27 31.2H496.2V36.07H492.27zM496.2 31.2H500.13V36.07H496.2zM500.13 31.2H504.07V36.07H500.13zM504.07 31.2H508V36.07H504.07zM390 36.07H393.93V40.93H390zM393.93 36.07H397.87V40.93H393.93zM397.87 36.07H401.8V40.93H397.87zM488.33 36.07H492.27V40.93H488.33zM496.2 36.07H500.13V40.93H496.2zM500.13 36.07H504.07V40.93H500.13zM397.87 40.93H401.8V45.8H397.87zM405.73 40.93H409.67V45.8H405.73zM488.33 40.93H492.27V45.8H488.33zM496.2 40.93H500.13V45.8H496.2zM401.8 45.8H405.73V50.67H401.8zM405.73 45.8H409.67V50.67H405.73zM409.67 45.8H413.6V50.67H409.67zM492.27 45.8H496.2V50.67H492.27zM496.2 45.8H500.13V50.67H496.2zM488.33 50.67H492.27V55.53H488.33zM397.87 55.53H401.8V60.4H397.87zM488.33 55.53H492.27V60.4H488.33zM496.2 60.4H500.13V65.27H496.2zM397.87 65.27H401.8V70.13H397.87zM397.87 70.13H401.8V75H397.87zM401.8 70.13H405.73V75H401.8zM504.07 70.13H508V75H504.07zM393.93 75H397.87V79.87H393.93z"/>
<path fill="#0000e1" d="M397.87 2H401.8V6.87H397.87zM401.8 6.87H405.73V11.73H401.8zM390 26.33H393.93V31.2H390zM504.07 45.8H508V50.67H504.07zM496.2 55.53H500.13V60.4H496.2zM393.93 60.4H397.87V65.27H393.93z"/>
<path fill="#0000d0" d="M401.8 2H405.73V6.87H401.8z"/>
<path fill="#0000f1" d="M433.27 2H437.2V6.87H433.27zM437.2 2H441.13V6.87H437.2zM488.33 2H492.27V6.87H488.33zM390 6.87H393.93V11.73H390zM397.87 6.87H401.8V11.73H397.87zM488.33 6.87H492.27V11.73H488.33zM390 11.73H393.93V16.6H390zM393.93 11.73H397.87V16.6H393.93zM390 21.47H393.93V26.33H390zM393.93 26.33H397.87V31.2H393.93zM390 31.2H393.93V36.07H390zM393.93 31.2H397.87V36.07H393.93zM390 40.93H393.93V45.8H390zM504.07 40.93H508V45.8H504.07zM390 45.8H393.93V50.67H390zM393.93 45.8H397.87V50.67H393.93zM390 50.67H393.93V55.53H390zM504.07 50.67H508V55.53H504.07zM393.93 55.53H397.87V60.4H393.93zM492.27 55.53H496.2V60.4H492.27zM500.13 55.53H504.07V60.4H500.13zM390 65.27H393.93V70.13H390zM393.93 65.27H397.87V70.13H393.93zM390 75H393.93V79.87H390zM390 79.87H393.93V84.73H390zM390 84.73H393.93V89.6H390z"/>
<path fill="#0033ff" d="M452.93 2H456.87V6.87H452.93zM456.87 2H460.8V6.87H456.87zM452.93 6.87H456.87V11.73H452.93zM456.87 6.87H460.8V11.73H456.87zM476.53 11.73H480.47V16.6H476.53zM441.13 16.6H445.07V21.47H441.13zM480.47 16.6H484.4V21.47H480.47zM425.4 21.47H429.33V26.33H425.4zM429.33 21.47H433.27V26.33H429.33zM433.27 21.47H437.2V26.33H433.27zM437.2 21.47H441.13V26.33H437.2zM445.07 21.47H449V26.33H445.07zM452.93 21.47H456.87V26.33H452.93zM456.87 21.47H460.8V26.33H456.87zM468.67 21.47H472.6V26.33H468.67zM484.4 21.47H488.33V26.33H484.4zM409.67 26.33H413.6V31.2H409.67zM425.4 26.33H429.33V31.2H425.4zM433.27 26.33H437.2V31.2H433.27zM437.2 26.33H441.13V31.2H437.2zM476.53 26.33H480.47V31.2H476.53zM480.47 26.33H484.4V31.2H480.47zM484.4 26.33H488.33V31.2H484.4zM401.8 31.2H405.73V36.07H401.8zM413.6 31.2H417.53V36.07H413.6zM417.53 31.2H421.47V36.07H417.53zM476.53 31.2H480.47V36.07H476.53zM480.47 31.2H484.4V36.07H480.47zM484.4 31.2H488.33V36.07H484.4zM409.67 36.07H413.6V40.93H409.67zM413.6 36.07H417.53V40.93H413.6zM417.53 36.07H421.47V40.93H417.53zM456.87 36.07H460.8V40.93H456.87zM472.6 36.07H476.53V40.93H472.6zM476.53 36.07H480.47V40.93H476.53zM480.47 36.07H484.4V40.93H480.47zM484.4 36.07H488.33V40.93H484.4zM413.6 40.93H417.53V45.8H413.6zM429.33 40.93H433.27V45.8H429.33zM433.27 40.93H437.2V45.8H433.27zM452.93 40.93H456.87V45.8H452.93zM456.87 40.93H460.8V45.8H456.87zM476.53 40.93H480.47V45.8H476.53zM484.4 40.93H488.33V45.8H484.4zM429.33 45.8H433.27V50.67H429.33zM433.27 45.8H437.2V50.67H433.27zM468.67 45.8H472.6V50.67H468.67zM472.6 45.8H476.53V50.67H472.6zM484.4 45.8H488.33V50.67H484.4zM413.6 50.67H417.53V55.53H413.6zM417.53 50.67H421.47V55.53H417.53zM429.33 50.67H433.27V55.53H429.33zM468.67 50.67H472.6V55.53H468.67zM476.53 50.67H480.47V55.53H476.53zM480.47 50.67H484.4V55.53H480.47zM413.6 55.53H417.53V60.4H413.6zM425.4 55.53H429.33V60.4H425.4zM429.33 55.53H433.27V60.4H429.33zM480.47 55.53H484.4V60.4H480.47zM409.67 60.4H413.6V65.27H409.67zM429.33 60.4H433.27V65.27H429.33zM480.47 60.4H484.4V65.27H480.47zM492.27 60.4H496.2V65.27H492.27zM480.47 65.27H484.4V70.13H480.47zM488.33 65.27H492.27V70.13H488.33zM496.2 65.27H500.13V70.13H496.2zM484.4 70.13H488.33V75H484.4zM488.33 70.13H492.27V75H488.33zM492.27 70.13H496.2V75H492.27zM397.87 75H401.8V79.87H397.87zM393.93 89.6H397.87V94.47H393.93z"/>
<path fill="#0022ff" d="M460.8 2H464.73V6.87H460.8zM464.73 2H468.67V6.87H464.73zM468.67 2H472.6V6.87H468.67zM480.47 2H484.4V6.87H480.47zM504.07 2H508V6.87H504.07zM449 6.87H452.93V11.73H449zM460.8 6.87H464.73V11.73H460.8zM464.73 6.87H468.67V11.73H464.73zM468.67 6.87H472.6V11.73H468.67zM472.6 6.87H476.53V11.73H472.6zM476.53 6.87H480.47V11.73H476.53zM480.47 6.87H484.4V11.73H480.47zM437.2 11.73H441.13V16.6H437.2zM449 11.73H452.93V16.6H449zM452.93 11.73H456.87V16.6H452.93zM456.87 11.73H460.8V16.6H456.87zM460.8 11.73H464.73V16.6H460.8zM464.73 11.73H468.67V16.6H464.73zM468.67 11.73H472.6V16.6H468.67zM472.6 11.73H476.53V16.6H472.6zM480.47 11.73H484.4V16.6H480.47zM421.47 16.6H425.4V21.47H421.47zM425.4 16.6H429.33V21.47H425.4zM429.33 16.6H433.27V21.47H429.33zM433.27 16.6H437.2V21.47H433.27zM437.2 16.6H441.13V21.47H437.2zM445.07 16.6H449V21.47H445.07zM452.93 16.6H456.87V21.47H452.93zM464.73 16.6H468.67V21.47H464.73zM468.67 16.6H472.6V21.47H468.67zM476.53 16.6H480.47V21.47H476.53zM484.4 16.6H488.33V21.47H484.4zM488.33 16.6H492.27V21.47H488.33zM405.73 21.47H409.67V26.33H405.73zM421.47 21.47H425.4V26.33H421.47zM449 21.47H452.93V26.33H449zM460.8 21.47H464.73V26.33H460.8zM464.73 21.47H468.67V26.33H464.73zM472.6 21.47H476.53V26.33H472.6zM476.53 21.47H480.47V26.33H476.53zM488.33 21.47H492.27V26.33H488.33zM401.8 26.33H405.73V31.2H401.8zM405.73 26.33H409.67V31.2H405.73zM417.53 26.33H421.47V31.2H417.53zM421.47 26.33H425.4V31.2H421.47zM488.33 26.33H492.27V31.2H488.33zM492.27 26.33H496.2V31.2H492.27zM405.73 31.2H409.67V36.07H405.73zM401.8 36.07H405.73V40.93H401.8zM405.73 36.07H409.67V40.93H405.73zM401.8 40.93H405.73V45.8H401.8zM409.67 40.93H413.6V45.8H409.67zM488.33 45.8H492.27V50.67H488.33zM405.73 50.67H409.67V55.53H405.73zM409.67 50.67H413.6V55.53H409.67zM421.47 50.67H425.4V55.53H421.47zM472.6 50.67H476.53V55.53H472.6zM484.4 50.67H488.33V55.53H484.4zM401.8 55.53H405.73V60.4H401.8zM405.73 55.53H409.67V60.4H405.73zM409.67 55.53H413.6V60.4H409.67zM484.4 55.53H488.33V60.4H484.4zM397.87 60.4H401.8V65.27H397.87zM401.8 60.4H405.73V65.27H401.8zM405.73 60.4H409.67V65.27H405.73zM484.4 60.4H488.33V65.27H484.4zM488.33 60.4H492.27V65.27H488.33zM401.8 65.27H405.73V70.13H401.8zM405.73 65.27H409.67V70.13H405.73zM484.4 65.27H488.33V70.13H484.4zM405.73 70.13H409.67V75H405.73zM496.2 70.13H500.13V75H496.2zM500.13 70.13H504.07V75H500.13zM500.13 75H504.07V79.87H500.13zM504.07 75H508V79.87H504.07zM397.87 79.87H401.8V84.73H397.87zM397.87 84.73H401.8V89.6H397.87zM390 89.6H393.93V94.47H390z"/>
<path fill="#0043ff" d="M441.13 21.47H445.07V26.33H441.13zM480.47 21.47H484.4V26.33H480.47zM429.33 26.33H433.27V31.2H429.33zM441.13 26.33H445.07V31.2H441.13zM445.07 26.33H449V31.2H445.07zM449 26.33H452.93V31.2H449zM452.93 26.33H456.87V31.2H452.93zM456.87 26.33H460.8V31.2H456.87zM460.8 26.33H464.73V31.2H460.8zM409.67 31.2H413.6V36.07H409.67zM421.47 31.2H425.4V36.07H421.47zM425.4 31.2H429.33V36.07H425.4zM429.33 31.2H433.27V36.07H429.33zM433.27 31.2H437.2V36.07H433.27zM437.2 31.2H441.13V36.07H437.2zM456.87 31.2H460.8V36.07H456.87zM460.8 31.2H464.73V36.07H460.8zM429.33 36.07H433.27V40.93H429.33zM433.27 36.07H437.2V40.93H433.27zM445.07 36.07H449V40.93H445.07zM452.93 36.07H456.87V40.93H452.93zM460.8 36.07H464.73V40.93H460.8zM468.67 36.07H472.6V40.93H468.67zM417.53 40.93H421.47V45.8H417.53zM437.2 40.93H441.13V45.8H437.2zM441.13 40.93H445.07V45.8H441.13zM445.07 40.93H449V45.8H445.07zM449 40.93H452.93V45.8H449zM460.8 40.93H464.73V45.8H460.8zM468.67 40.93H472.6V45.8H468.67zM472.6 40.93H476.53V45.8H472.6zM480.47 40.93H484.4V45.8H480.47zM413.6 45.8H417.53V50.67H413.6zM417.53 45.8H421.47V50.67H417.53zM421.47 45.8H425.4V50.67H421.47zM425.4 45.8H429.33V50.67H425.4zM445.07 45.8H449V50.67H445.07zM464.73 45.8H468.67V50.67H464.73zM476.53 45.8H480.47V50.67H476.53zM480.47 45.8H484.4V50.67H480.47zM425.4 50.67H429.33V55.53H425.4zM433.27 50.67H437.2V55.53H433.27zM441.13 50.67H445.07V55.53H441.13zM445.07 50.67H449V55.53H445.07zM417.53 55.53H421.47V60.4H417.53zM421.47 55.53H425.4V60.4H421.47zM433.27 55.53H437.2V60.4H433.27zM468.67 55.53H472.6V60.4H468.67zM472.6 55.53H476.53V60.4H472.6zM476.53 55.53H480.47V60.4H476.53zM425.4 60.4H429.33V65.27H425.4zM433.27 60.4H437.2V65.27H433.27zM409.67 65.27H413.6V70.13H409.67zM476.53 65.27H480.47V70.13H476.53zM492.27 65.27H496.2V70.13H492.27zM409.67 70.13H413.6V75H409.67zM476.53 70.13H480.47V75H476.53zM480.47 70.13H484.4V75H480.47zM401.8 75H405.73V79.87H401.8zM405.73 75H409.67V79.87H405.73zM488.33 75H492.27V79.87H488.33zM496.2 75H500.13V79.87H496.2zM500.13 79.87H504.07V84.73H500.13zM504.07 79.87H508V84.73H504.07zM397.87 89.6H401.8V94.47H397.87zM390 94.47H393.93V99.33H390z"/>
<path fill="#0053ff" d="M464.73 26.33H468.67V31.2H464.73zM472.6 26.33H476.53V31.2H472.6zM441.13 31.2H445.07V36.07H441.13zM445.07 31.2H449V36.07H445.07zM449 31.2H452.93V36.07H449zM452.93 31.2H456.87V36.07H452.93zM464.73 31.2H468.67V36.07H464.73zM468.67 31.2H472.6V36.07H468.67zM472.6 31.2H476.53V36.07H472.6zM421.47 36.07H425.4V40.93H421.47zM425.4 36.07H429.33V40.93H425.4zM441.13 36.07H445.07V40.93H441.13zM449 36.07H452.93V40.93H449zM464.73 36.07H468.67V40.93H464.73zM421.47 40.93H425.4V45.8H421.47zM425.4 40.93H429.33V45.8H425.4zM464.73 40.93H468.67V45.8H464.73zM437.2 45.8H441.13V50.67H437.2zM441.13 45.8H445.07V50.67H441.13zM449 45.8H452.93V50.67H449zM452.93 45.8H456.87V50.67H452.93zM456.87 45.8H460.8V50.67H456.87zM460.8 45.8H464.73V50.67H460.8zM437.2 50.67H441.13V55.53H437.2zM449 50.67H452.93V55.53H449zM452.93 50.67H456.87V55.53H452.93zM464.73 50.67H468.67V55.53H464.73zM437.2 55.53H441.13V60.4H437.2zM441.13 55.53H445.07V60.4H441.13zM445.07 55.53H449V60.4H445.07zM452.93 55.53H456.87V60.4H452.93zM456.87 55.53H460.8V60.4H456.87zM413.6 60.4H417.53V65.27H413.6zM417.53 60.4H421.47V65.27H417.53zM421.47 60.4H425.4V65.27H421.47zM437.2 60.4H441.13V65.27H437.2zM449 60.4H452.93V65.27H449zM456.87 60.4H460.8V65.27H456.87zM468.67 60.4H472.6V65.27H468.67zM472.6 60.4H476.53V65.27H472.6zM476.53 60.4H480.47V65.27H476.53zM433.27 65.27H437.2V70.13H433.27zM472.6 65.27H476.53V70.13H472.6zM492.27 75H496.2V79.87H492.27zM401.8 79.87H405.73V84.73H401.8zM496.2 79.87H500.13V84.73H496.2zM401.8 84.73H405.73V89.6H401.8zM500.13 84.73H504.07V89.6H500.13zM393.93 94.47H397.87V99.33H393.93z"/>
<path fill="#0063ff" d="M468.67 26.33H472.6V31.2H468.67zM437.2 36.07H441.13V40.93H437.2zM456.87 50.67H460.8V55.53H456.87zM449 55.53H452.93V60.4H449zM460.8 55.53H464.73V60.4H460.8zM464.73 55.53H468.67V60.4H464.73zM445.07 60.4H449V65.27H445.07zM452.93 60.4H456.87V65.27H452.93zM460.8 60.4H464.73V65.27H460.8zM464.73 60.4H468.67V65.27H464.73zM413.6 65.27H417.53V70.13H413.6zM417.53 65.27H421.47V70.13H417.53zM421.47 65.27H425.4V70.13H421.47zM429.33 65.27H433.27V70.13H429.33zM437.2 65.27H441.13V70.13H437.2zM449 65.27H452.93V70.13H449zM452.93 65.27H456.87V70.13H452.93zM456.87 65.27H460.8V70.13H456.87zM413.6 70.13H417.53V75H413.6zM472.6 70.13H476.53V75H472.6zM409.67 75H413.6V79.87H409.67zM476.53 75H480.47V79.87H476.53zM480.47 75H484.4V79.87H480.47zM484.4 75H488.33V79.87H484.4zM405.73 79.87H409.67V84.73H405.73zM488.33 79.87H492.27V84.73H488.33zM492.27 79.87H496.2V84.73H492.27zM504.07 84.73H508V89.6H504.07zM390 99.33H393.93V104.2H390zM393.93 99.33H397.87V104.2H393.93zM390 104.2H393.93V109.07H390z"/>
<path fill="#0073ff" d="M460.8 50.67H464.73V55.53H460.8zM441.13 60.4H445.07V65.27H441.13zM425.4 65.27H429.33V70.13H425.4zM460.8 65.27H464.73V70.13H460.8zM468.67 65.27H472.6V70.13H468.67zM417.53 70.13H421.47V75H417.53zM421.47 70.13H425.4V75H421.47zM433.27 70.13H437.2V75H433.27zM456.87 70.13H460.8V75H456.87zM460.8 70.13H464.73V75H460.8zM468.67 70.13H472.6V75H468.67zM472.6 75H476.53V79.87H472.6zM409.67 79.87H413.6V84.73H409.67zM405.73 84.73H409.67V89.6H405.73zM496.2 84.73H500.13V89.6H496.2zM401.8 89.6H405.73V94.47H401.8zM397.87 94.47H401.8V99.33H397.87zM393.93 104.2H397.87V109.07H393.93zM390 109.07H393.93V113.93H390z"/>
<path fill="#0000c0" d="M390 55.53H393.93V60.4H390zM390 60.4H393.93V65.27H390z"/>
<path fill="#0084ff" d="M441.13 65.27H445.07V70.13H441.13zM445.07 65.27H449V70.13H445.07zM464.73 65.27H468.67V70.13H464.73zM425.4 70.13H429.33V75H425.4zM437.2 70.13H441.13V75H437.2zM452.93 70.13H456.87V75H452.93zM464.73 70.13H468.67V75H464.73zM413.6 75H417.53V79.87H413.6zM417.53 75H421.47V79.87H417.53zM421.47 75H425.4V79.87H421.47zM464.73 75H468.67V79.87H464.73zM468.67 75H472.6V79.87H468.67zM468.67 79.87H472.6V84.73H468.67zM484.4 79.87H488.33V84.73H484.4zM504.07 89.6H508V94.47H504.07zM401.8 94.47H405.73V99.33H401.8zM397.87 99.33H401.8V104.2H397.87zM390 113.93H393.93V118.8H390z"/>
<path fill="#0094ff" d="M429.33 70.13H433.27V75H429.33zM441.13 70.13H445.07V75H441.13zM445.07 70.13H449V75H445.07zM449 70.13H452.93V75H449zM452.93 75H456.87V79.87H452.93zM456.87 75H460.8V79.87H456.87zM460.8 75H464.73V79.87H460.8zM452.93 79.87H456.87V84.73H452.93zM464.73 79.87H468.67V84.73H464.73zM472.6 79.87H476.53V84.73H472.6zM476.53 79.87H480.47V84.73H476.53zM480.47 79.87H484.4V84.73H480.47zM409.67 84.73H413.6V89.6H409.67zM464.73 84.73H468.67V89.6H464.73zM468.67 84.73H472.6V89.6H468.67zM472.6 84.73H476.53V89.6H472.6zM476.53 84.73H480.47V89.6H476.53zM484.4 84.73H488.33V89.6H484.4zM488.33 84.73H492.27V89.6H488.33zM492.27 84.73H496.2V89.6H492.27zM405.73 89.6H409.67V94.47H405.73zM500.13 89.6H504.07V94.47H500.13zM393.93 109.07H397.87V113.93H393.93zM390 118.8H393.93V123.67H390z"/>
<path fill="#00a4ff" d="M425.4 75H429.33V79.87H425.4zM433.27 75H437.2V79.87H433.27zM437.2 75H441.13V79.87H437.2zM445.07 75H449V79.87H445.07zM449 75H452.93V79.87H449zM437.2 79.87H441.13V84.73H437.2zM449 79.87H452.93V84.73H449zM460.8 79.87H464.73V84.73H460.8zM460.8 84.73H464.73V89.6H460.8zM480.47 84.73H484.4V89.6H480.47zM405.73 94.47H409.67V99.33H405.73zM401.8 99.33H405.73V104.2H401.8zM397.87 104.2H401.8V109.07H397.87zM390 128.53H393.93V133.4H390z"/>
<path fill="#00b4ff" d="M429.33 75H433.27V79.87H429.33zM441.13 75H445.07V79.87H441.13zM413.6 79.87H417.53V84.73H413.6zM417.53 79.87H421.47V84.73H417.53zM421.47 79.87H425.4V84.73H421.47zM433.27 79.87H437.2V84.73H433.27zM456.87 79.87H460.8V84.73H456.87zM413.6 84.73H417.53V89.6H413.6zM456.87 84.73H460.8V89.6H456.87zM409.67 89.6H413.6V94.47H409.67zM393.93 113.93H397.87V118.8H393.93zM393.93 118.8H397.87V123.67H393.93zM390 123.67H393.93V128.53H390z"/>
<path fill="#00d4ff" d="M425.4 79.87H429.33V84.73H425.4zM421.47 84.73H425.4V89.6H421.47zM437.2 84.73H441.13V89.6H437.2zM441.13 84.73H445.07V89.6H441.13zM445.07 84.73H449V89.6H445.07zM413.6 89.6H417.53V94.47H413.6zM480.47 89.6H484.4V94.47H480.47zM484.4 89.6H488.33V94.47H484.4zM488.33 89.6H492.27V94.47H488.33zM405.73 99.33H409.67V104.2H405.73zM401.8 104.2H405.73V109.07H401.8zM397.87 109.07H401.8V113.93H397.87zM390 138.27H393.93V143.13H390zM390 143.13H393.93V148H390z"/>
<path fill="#00c4ff" d="M429.33 79.87H433.27V84.73H429.33zM441.13 79.87H445.07V84.73H441.13zM445.07 79.87H449V84.73H445.07zM417.53 84.73H421.47V89.6H417.53zM449 84.73H452.93V89.6H449zM452.93 84.73H456.87V89.6H452.93zM456.87 89.6H460.8V94.47H456.87zM460.8 89.6H464.73V94.47H460.8zM464.73 89.6H468.67V94.47H464.73zM468.67 89.6H472.6V94.47H468.67zM472.6 89.6H476.53V94.47H472.6zM476.53 89.6H480.47V94.47H476.53zM496.2 89.6H500.13V94.47H496.2zM504.07 94.47H508V99.33H504.07zM393.93 123.67H397.87V128.53H393.93zM390 133.4H393.93V138.27H390z"/>
<path fill="#00e5ff" d="M425.4 84.73H429.33V89.6H425.4zM433.27 84.73H437.2V89.6H433.27zM452.93 89.6H456.87V94.47H452.93zM492.27 89.6H496.2V94.47H492.27zM452.93 94.47H456.87V99.33H452.93zM456.87 94.47H460.8V99.33H456.87zM460.8 94.47H464.73V99.33H460.8zM464.73 94.47H468.67V99.33H464.73zM397.87 113.93H401.8V118.8H397.87zM393.93 128.53H397.87V133.4H393.93zM393.93 138.27H397.87V143.13H393.93zM496.2 138.27H500.13V143.13H496.2zM504.07 143.13H508V148H504.07z"/>
<path fill="#00f5ff" d="M429.33 84.73H433.27V89.6H429.33zM417.53 89.6H421.47V94.47H417.53zM445.07 89.6H449V94.47H445.07zM449 89.6H452.93V94.47H449zM409.67 94.47H413.6V99.33H409.67zM449 94.47H452.93V99.33H449zM468.67 94.47H472.6V99.33H468.67zM472.6 94.47H476.53V99.33H472.6zM476.53 94.47H480.47V99.33H476.53zM460.8 99.33H464.73V104.2H460.8zM397.87 118.8H401.8V123.67H397.87zM393.93 133.4H397.87V138.27H393.93zM504.07 133.4H508V138.27H504.07zM500.13 138.27H504.07V143.13H500.13zM504.07 138.27H508V143.13H504.07zM393.93 143.13H397.87V148H393.93zM500.13 143.13H504.07V148H500.13z"/>
<path fill="#06fff9" d="M421.47 89.6H425.4V94.47H421.47zM500.13 94.47H504.07V99.33H500.13zM452.93 99.33H456.87V104.2H452.93zM456.87 99.33H460.8V104.2H456.87zM464.73 99.33H468.67V104.2H464.73zM405.73 104.2H409.67V109.07H405.73zM401.8 109.07H405.73V113.93H401.8zM397.87 123.67H401.8V128.53H397.87zM504.07 128.53H508V133.4H504.07zM500.13 133.4H504.07V138.27H500.13zM397.87 138.27H401.8V143.13H397.87zM492.27 138.27H496.2V143.13H492.27zM496.2 143.13H500.13V148H496.2z"/>
<path fill="#16ffe9" d="M425.4 89.6H429.33V94.47H425.4zM441.13 89.6H445.07V94.47H441.13zM445.07 94.47H449V99.33H445.07zM449 99.33H452.93V104.2H449zM468.67 99.33H472.6V104.2H468.67zM472.6 99.33H476.53V104.2H472.6zM397.87 128.53H401.8V133.4H397.87zM397.87 133.4H401.8V138.27H397.87zM480.47 133.4H484.4V138.27H480.47zM484.4 133.4H488.33V138.27H484.4zM496.2 133.4H500.13V138.27H496.2zM480.47 138.27H484.4V143.13H480.47zM484.4 138.27H488.33V143.13H484.4zM488.33 138.27H492.27V143.13H488.33zM397.87 143.13H401.8V148H397.87zM480.47 143.13H484.4V148H480.47zM484.4 143.13H488.33V148H484.4zM492.27 143.13H496.2V148H492.27z"/>
<path fill="#37ffc8" d="M429.33 89.6H433.27V94.47H429.33zM433.27 89.6H437.2V94.47H433.27zM417.53 94.47H421.47V99.33H417.53zM441.13 94.47H445.07V99.33H441.13zM452.93 104.2H456.87V109.07H452.93zM468.67 104.2H472.6V109.07H468.67zM401.8 118.8H405.73V123.67H401.8zM476.53 133.4H480.47V138.27H476.53zM492.27 133.4H496.2V138.27H492.27zM472.6 138.27H476.53V143.13H472.6zM468.67 143.13H472.6V148H468.67zM472.6 143.13H476.53V148H472.6z"/>
<path fill="#26ffd9" d="M437.2 89.6H441.13V94.47H437.2zM413.6 94.47H417.53V99.33H413.6zM480.47 94.47H484.4V99.33H480.47zM409.67 99.33H413.6V104.2H409.67zM504.07 99.33H508V104.2H504.07zM456.87 104.2H460.8V109.07H456.87zM460.8 104.2H464.73V109.07H460.8zM464.73 104.2H468.67V109.07H464.73zM401.8 113.93H405.73V118.8H401.8zM504.07 123.67H508V128.53H504.07zM500.13 128.53H504.07V133.4H500.13zM488.33 133.4H492.27V138.27H488.33zM476.53 138.27H480.47V143.13H476.53zM476.53 143.13H480.47V148H476.53zM488.33 143.13H492.27V148H488.33z"/>
<path fill="#57ffa8" d="M421.47 94.47H425.4V99.33H421.47zM437.2 94.47H441.13V99.33H437.2zM496.2 94.47H500.13V99.33H496.2zM409.67 104.2H413.6V109.07H409.67zM452.93 109.07H456.87V113.93H452.93zM456.87 113.93H460.8V118.8H456.87zM456.87 118.8H460.8V123.67H456.87zM464.73 118.8H468.67V123.67H464.73zM504.07 118.8H508V123.67H504.07zM401.8 123.67H405.73V128.53H401.8zM460.8 123.67H464.73V128.53H460.8zM500.13 123.67H504.07V128.53H500.13zM476.53 128.53H480.47V133.4H476.53zM480.47 128.53H484.4V133.4H480.47zM484.4 128.53H488.33V133.4H484.4zM464.73 133.4H468.67V138.27H464.73zM468.67 133.4H472.6V138.27H468.67zM401.8 138.27H405.73V143.13H401.8zM456.87 138.27H460.8V143.13H456.87zM401.8 143.13H405.73V148H401.8zM460.8 143.13H464.73V148H460.8z"/>
<path fill="#67ff98" d="M425.4 94.47H429.33V99.33H425.4zM429.33 94.47H433.27V99.33H429.33zM433.27 94.47H437.2V99.33H433.27zM484.4 94.47H488.33V99.33H484.4zM413.6 99.33H417.53V104.2H413.6zM441.13 99.33H445.07V104.2H441.13zM445.07 104.2H449V109.07H445.07zM449 109.07H452.93V113.93H449zM468.67 109.07H472.6V113.93H468.67zM452.93 113.93H456.87V118.8H452.93zM464.73 113.93H468.67V118.8H464.73zM468.67 113.93H472.6V118.8H468.67zM468.67 118.8H472.6V123.67H468.67zM456.87 123.67H460.8V128.53H456.87zM468.67 123.67H472.6V128.53H468.67zM472.6 123.67H476.53V128.53H472.6zM456.87 128.53H460.8V133.4H456.87zM468.67 128.53H472.6V133.4H468.67zM472.6 128.53H476.53V133.4H472.6zM488.33 128.53H492.27V133.4H488.33zM492.27 128.53H496.2V133.4H492.27zM452.93 133.4H456.87V138.27H452.93z"/>
<path fill="#77ff88" d="M488.33 94.47H492.27V99.33H488.33zM492.27 94.47H496.2V99.33H492.27zM472.6 109.07H476.53V113.93H472.6zM405.73 113.93H409.67V118.8H405.73zM449 113.93H452.93V118.8H449zM452.93 118.8H456.87V123.67H452.93zM476.53 123.67H480.47V128.53H476.53zM452.93 138.27H456.87V143.13H452.93zM456.87 143.13H460.8V148H456.87z"/>
<path fill="#98ff67" d="M417.53 99.33H421.47V104.2H417.53zM437.2 99.33H441.13V104.2H437.2zM500.13 99.33H504.07V104.2H500.13zM441.13 104.2H445.07V109.07H441.13zM476.53 104.2H480.47V109.07H476.53zM472.6 113.93H476.53V118.8H472.6zM405.73 118.8H409.67V123.67H405.73zM449 118.8H452.93V123.67H449zM476.53 118.8H480.47V123.67H476.53zM452.93 123.67H456.87V128.53H452.93zM405.73 143.13H409.67V148H405.73z"/>
<path fill="#b8ff47" d="M421.47 99.33H425.4V104.2H421.47zM429.33 99.33H433.27V104.2H429.33zM413.6 104.2H417.53V109.07H413.6zM476.53 109.07H480.47V113.93H476.53zM504.07 109.07H508V113.93H504.07zM445.07 113.93H449V118.8H445.07zM476.53 113.93H480.47V118.8H476.53zM500.13 118.8H504.07V123.67H500.13zM405.73 123.67H409.67V128.53H405.73zM449 123.67H452.93V128.53H449zM405.73 128.53H409.67V133.4H405.73zM449 128.53H452.93V133.4H449zM405.73 133.4H409.67V138.27H405.73z"/>
<path fill="#c8ff37" d="M425.4 99.33H429.33V104.2H425.4zM480.47 118.8H484.4V123.67H480.47zM405.73 138.27H409.67V143.13H405.73z"/>
<path fill="#a8ff57" d="M433.27 99.33H437.2V104.2H433.27zM480.47 99.33H484.4V104.2H480.47zM409.67 109.07H413.6V113.93H409.67zM504.07 113.93H508V118.8H504.07zM484.4 123.67H488.33V128.53H484.4zM488.33 123.67H492.27V128.53H488.33zM449 133.4H452.93V138.27H449zM449 138.27H452.93V143.13H449zM449 143.13H452.93V148H449z"/>
<path fill="#47ffb8" d="M445.07 99.33H449V104.2H445.07zM476.53 99.33H480.47V104.2H476.53zM449 104.2H452.93V109.07H449zM472.6 104.2H476.53V109.07H472.6zM405.73 109.07H409.67V113.93H405.73zM456.87 109.07H460.8V113.93H456.87zM460.8 109.07H464.73V113.93H460.8zM464.73 109.07H468.67V113.93H464.73zM460.8 113.93H464.73V118.8H460.8zM460.8 118.8H464.73V123.67H460.8zM464.73 123.67H468.67V128.53H464.73zM401.8 128.53H405.73V133.4H401.8zM460.8 128.53H464.73V133.4H460.8zM464.73 128.53H468.67V133.4H464.73zM496.2 128.53H500.13V133.4H496.2zM401.8 133.4H405.73V138.27H401.8zM456.87 133.4H460.8V138.27H456.87zM460.8 133.4H464.73V138.27H460.8zM472.6 133.4H476.53V138.27H472.6zM460.8 138.27H464.73V143.13H460.8zM464.73 138.27H468.67V143.13H464.73zM468.67 138.27H472.6V143.13H468.67zM464.73 143.13H468.67V148H464.73z"/>
<path fill="#ffe500" d="M484.4 99.33H488.33V104.2H484.4zM480.47 104.2H484.4V109.07H480.47zM500.13 104.2H504.07V109.07H500.13zM413.6 109.07H417.53V113.93H413.6zM441.13 113.93H445.07V118.8H441.13zM480.47 113.93H484.4V118.8H480.47zM500.13 113.93H504.07V118.8H500.13zM409.67 118.8H413.6V123.67H409.67zM441.13 143.13H445.07V148H441.13z"/>
<path fill="#ffb400" d="M488.33 99.33H492.27V104.2H488.33zM480.47 109.07H484.4V113.93H480.47zM500.13 109.07H504.07V113.93H500.13zM441.13 118.8H445.07V123.67H441.13zM441.13 133.4H445.07V138.27H441.13z"/>
<path fill="#ffc400" d="M492.27 99.33H496.2V104.2H492.27zM425.4 104.2H429.33V109.07H425.4zM429.33 104.2H433.27V109.07H429.33zM488.33 118.8H492.27V123.67H488.33zM409.67 128.53H413.6V133.4H409.67zM409.67 133.4H413.6V138.27H409.67zM441.13 138.27H445.07V143.13H441.13z"/>
<path fill="#fff500" d="M496.2 99.33H500.13V104.2H496.2zM433.27 104.2H437.2V109.07H433.27zM484.4 118.8H488.33V123.67H484.4zM496.2 118.8H500.13V123.67H496.2zM445.07 123.67H449V128.53H445.07zM445.07 128.53H449V133.4H445.07z"/>
<path fill="#f9ff06" d="M417.53 104.2H421.47V109.07H417.53zM409.67 113.93H413.6V118.8H409.67zM445.07 133.4H449V138.27H445.07zM445.07 138.27H449V143.13H445.07zM409.67 143.13H413.6V148H409.67z"/>
<path fill="#ffd500" d="M421.47 104.2H425.4V109.07H421.47zM437.2 109.07H441.13V113.93H437.2zM492.27 118.8H496.2V123.67H492.27zM409.67 123.67H413.6V128.53H409.67zM409.67 138.27H413.6V143.13H409.67z"/>
<path fill="#d9ff26" d="M437.2 104.2H441.13V109.07H437.2zM441.13 109.07H445.07V113.93H441.13z"/>
<path fill="#ff4300" d="M484.4 104.2H488.33V109.07H484.4zM496.2 104.2H500.13V109.07H496.2zM425.4 109.07H429.33V113.93H425.4zM413.6 123.67H417.53V128.53H413.6zM437.2 123.67H441.13V128.53H437.2zM413.6 128.53H417.53V133.4H413.6zM433.27 143.13H437.2V148H433.27z"/>
<path fill="#f10000" d="M488.33 104.2H492.27V109.07H488.33zM421.47 113.93H425.4V118.8H421.47zM433.27 118.8H437.2V123.67H433.27zM429.33 138.27H433.27V143.13H429.33z"/>
<path fill="#e10000" d="M492.27 104.2H496.2V109.07H492.27zM429.33 113.93H433.27V118.8H429.33zM417.53 118.8H421.47V123.67H417.53z"/>
<path fill="#88ff77" d="M504.07 104.2H508V109.07H504.07zM445.07 109.07H449V113.93H445.07zM472.6 118.8H476.53V123.67H472.6zM480.47 123.67H484.4V128.53H480.47zM492.27 123.67H496.2V128.53H492.27zM496.2 123.67H500.13V128.53H496.2zM452.93 128.53H456.87V133.4H452.93zM452.93 143.13H456.87V148H452.93z"/>
<path fill="#ffa400" d="M417.53 109.07H421.47V113.93H417.53zM441.13 123.67H445.07V128.53H441.13zM441.13 128.53H445.07V133.4H441.13zM413.6 143.13H417.53V148H413.6zM437.2 143.13H441.13V148H437.2z"/>
<path fill="#ff6300" d="M421.47 109.07H425.4V113.93H421.47zM484.4 113.93H488.33V118.8H484.4zM496.2 113.93H500.13V118.8H496.2zM413.6 118.8H417.53V123.67H413.6zM413.6 133.4H417.53V138.27H413.6zM437.2 133.4H441.13V138.27H437.2z"/>
<path fill="#ff5300" d="M429.33 109.07H433.27V113.93H429.33zM437.2 118.8H441.13V123.67H437.2zM437.2 128.53H441.13V133.4H437.2zM417.53 143.13H421.47V148H417.53z"/>
<path fill="#ff9400" d="M433.27 109.07H437.2V113.93H433.27z"/>
<path fill="#ff1200" d="M484.4 109.07H488.33V113.93H484.4zM488.33 113.93H492.27V118.8H488.33zM492.27 113.93H496.2V118.8H492.27zM421.47 143.13H425.4V148H421.47zM429.33 143.13H433.27V148H429.33z"/>
<path fill="#b00000" d="M488.33 109.07H492.27V113.93H488.33zM429.33 133.4H433.27V138.27H429.33z"/>
<path fill="#a00000" d="M492.27 109.07H496.2V113.93H492.27zM421.47 133.4H425.4V138.27H421.47z"/>
<path fill="#ff0200" d="M496.2 109.07H500.13V113.93H496.2zM417.53 133.4H421.47V138.27H417.53zM433.27 133.4H437.2V138.27H433.27zM425.4 143.13H429.33V148H425.4z"/>
<path fill="#ff8400" d="M413.6 113.93H417.53V118.8H413.6zM437.2 113.93H441.13V118.8H437.2zM437.2 138.27H441.13V143.13H437.2z"/>
<path fill="#ff3300" d="M417.53 113.93H421.47V118.8H417.53zM433.27 113.93H437.2V118.8H433.27z"/>
<path fill="#d00000" d="M425.4 113.93H429.33V118.8H425.4zM433.27 123.67H437.2V128.53H433.27zM417.53 128.53H421.47V133.4H417.53zM433.27 128.53H437.2V133.4H433.27zM421.47 138.27H425.4V143.13H421.47zM425.4 138.27H429.33V143.13H425.4z"/>
<path fill="#900000" d="M421.47 118.8H425.4V123.67H421.47zM429.33 118.8H433.27V123.67H429.33z"/>
<path fill="#800000" d="M425.4 118.8H429.33V123.67H425.4zM421.47 123.67H425.4V128.53H421.47zM425.4 123.67H429.33V128.53H425.4zM429.33 123.67H433.27V128.53H429.33zM421.47 128.53H425.4V133.4H421.47zM425.4 128.53H429.33V133.4H425.4zM429.33 128.53H433.27V133.4H429.33zM425.4 133.4H429.33V138.27H425.4z"/>
<path fill="#e9ff16" d="M445.07 118.8H449V123.67H445.07zM445.07 143.13H449V148H445.07z"/>
<path fill="#c00000" d="M417.53 123.67H421.47V128.53H417.53z"/>
<path fill="#ff7300" d="M413.6 138.27H417.53V143.13H413.6z"/>
<path fill="#ff2200" d="M417.53 138.27H421.47V143.13H417.53zM433.27 138.27H437.2V143.13H433.27z"/>
</g></g>
<rect x="390.5" y="2.5" width="118" height="146" fill="none" stroke="#707070" stroke-width="1"/></g>
<g><clipPath id="c519"><rect x="519" y="4" width="118" height="146"/></clipPath>
<g clip-path="url(#c519)"><g filter="url(#blr)" shape-rendering="crispEdges">
<path fill="#0000b0" d="M519 4H522.93V8.87H519zM522.93 4H526.87V8.87H522.93zM526.87 4H530.8V8.87H526.87zM519 8.87H522.93V13.73H519zM522.93 8.87H526.87V13.73H522.93zM526.87 8.87H530.8V13.73H526.87zM519 13.73H522.93V18.6H519zM522.93 13.73H526.87V18.6H522.93zM519 18.6H522.93V23.47H519zM522.93 18.6H526.87V23.47H522.93zM519 23.47H522.93V28.33H519z"/>
<path fill="#0000c0" d="M530.8 4H534.73V8.87H530.8zM534.73 4H538.67V8.87H534.73zM530.8 8.87H534.73V13.73H530.8zM534.73 8.87H538.67V13.73H534.73zM526.87 13.73H530.8V18.6H526.87zM530.8 13.73H534.73V18.6H530.8zM534.73 13.73H538.67V18.6H534.73zM526.87 18.6H530.8V23.47H526.87zM530.8 18.6H534.73V23.47H530.8zM534.73 18.6H538.67V23.47H534.73zM522.93 23.47H526.87V28.33H522.93zM526.87 23.47H530.8V28.33H526.87zM530.8 23.47H534.73V28.33H530.8zM519 28.33H522.93V33.2H519zM522.93 28.33H526.87V33.2H522.93zM526.87 28.33H530.8V33.2H526.87zM530.8 28.33H534.73V33.2H530.8zM519 33.2H522.93V38.07H519zM522.93 33.2H526.87V38.07H522.93zM526.87 33.2H530.8V38.07H526.87zM519 38.07H522.93V42.93H519zM522.93 38.07H526.87V42.93H522.93zM526.87 38.07H530.8V42.93H526.87zM519 42.93H522.93V47.8H519zM522.93 42.93H526.87V47.8H522.93zM519 47.8H522.93V52.67H519zM522.93 47.8H526.87V52.67H522.93z"/>
<path fill="#0000d0" d="M538.67 4H542.6V8.87H538.67zM542.6 4H546.53V8.87H542.6zM538.67 8.87H542.6V13.73H538.67zM538.67 13.73H542.6V18.6H538.67zM538.67 18.6H542.6V23.47H538.67zM534.73 23.47H538.67V28.33H534.73zM538.67 23.47H542.6V28.33H538.67zM534.73 28.33H538.67V33.2H534.73zM538.67 28.33H542.6V33.2H538.67zM530.8 33.2H534.73V38.07H530.8zM534.73 33.2H538.67V38.07H534.73zM538.67 33.2H542.6V38.07H538.67zM530.8 38.07H534.73V42.93H530.8zM534.73 38.07H538.67V42.93H534.73zM538.67 38.07H542.6V42.93H538.67zM526.87 42.93H530.8V47.8H526.87zM530.8 42.93H534.73V47.8H530.8zM534.73 42.93H538.67V47.8H534.73zM538.67 42.93H542.6V47.8H538.67zM526.87 47.8H530.8V52.67H526.87zM530.8 47.8H534.73V52.67H530.8zM534.73 47.8H538.67V52.67H534.73zM519 52.67H522.93V57.53H519zM522.93 52.67H526.87V57.53H522.93zM526.87 52.67H530.8V57.53H526.87zM530.8 52.67H534.73V57.53H530.8zM534.73 52.67H538.67V57.53H534.73zM519 57.53H522.93V62.4H519zM522.93 57.53H526.87V62.4H522.93zM526.87 57.53H530.8V62.4H526.87z"/>
<path fill="#0000f1" d="M546.53 4H550.47V8.87H546.53zM546.53 8.87H550.47V13.73H546.53zM546.53 13.73H550.47V18.6H546.53zM546.53 18.6H550.47V23.47H546.53zM546.53 23.47H550.47V28.33H546.53zM546.53 28.33H550.47V33.2H546.53zM546.53 33.2H550.47V38.07H546.53zM546.53 38.07H550.47V42.93H546.53zM550.47 38.07H554.4V42.93H550.47zM546.53 42.93H550.47V47.8H546.53zM550.47 42.93H554.4V47.8H550.47zM546.53 47.8H550.47V52.67H546.53zM550.47 47.8H554.4V52.67H550.47zM546.53 52.67H550.47V57.53H546.53zM550.47 52.67H554.4V57.53H550.47zM546.53 57.53H550.47V62.4H546.53zM550.47 57.53H554.4V62.4H550.47zM534.73 62.4H538.67V67.27H534.73zM538.67 62.4H542.6V67.27H538.67zM542.6 62.4H546.53V67.27H542.6zM519 67.27H522.93V72.13H519zM522.93 67.27H526.87V72.13H522.93zM526.87 67.27H530.8V72.13H526.87zM629.13 145.13H633.07V150H629.13zM633.07 145.13H637V150H633.07z"/>
<path fill="#0002ff" d="M550.47 4H554.4V8.87H550.47zM550.47 8.87H554.4V13.73H550.47zM550.47 13.73H554.4V18.6H550.47zM550.47 18.6H554.4V23.47H550.47zM550.47 23.47H554.4V28.33H550.47zM550.47 28.33H554.4V33.2H550.47zM550.47 33.2H554.4V38.07H550.47zM554.4 38.07H558.33V42.93H554.4zM554.4 42.93H558.33V47.8H554.4zM554.4 47.8H558.33V52.67H554.4zM554.4 52.67H558.33V57.53H554.4zM558.33 52.67H562.27V57.53H558.33zM554.4 57.53H558.33V62.4H554.4zM558.33 57.53H562.27V62.4H558.33zM546.53 62.4H550.47V67.27H546.53zM550.47 62.4H554.4V67.27H550.47zM530.8 67.27H534.73V72.13H530.8zM534.73 67.27H538.67V72.13H534.73zM538.67 67.27H542.6V72.13H538.67z"/>
<path fill="#0012ff" d="M554.4 4H558.33V8.87H554.4zM629.13 4H633.07V8.87H629.13zM633.07 4H637V8.87H633.07zM554.4 8.87H558.33V13.73H554.4zM633.07 8.87H637V13.73H633.07zM554.4 13.73H558.33V18.6H554.4zM554.4 18.6H558.33V23.47H554.4zM554.4 23.47H558.33V28.33H554.4zM554.4 28.33H558.33V33.2H554.4zM554.4 33.2H558.33V38.07H554.4zM558.33 33.2H562.27V38.07H558.33zM558.33 38.07H562.27V42.93H558.33zM558.33 42.93H562.27V47.8H558.33zM558.33 47.8H562.27V52.67H558.33zM562.27 47.8H566.2V52.67H562.27zM562.27 52.67H566.2V57.53H562.27zM562.27 57.53H566.2V62.4H562.27zM554.4 62.4H558.33V67.27H554.4zM558.33 62.4H562.27V67.27H558.33zM542.6 67.27H546.53V72.13H542.6zM546.53 67.27H550.47V72.13H546.53zM550.47 67.27H554.4V72.13H550.47zM519 72.13H522.93V77H519zM522.93 72.13H526.87V77H522.93zM526.87 72.13H530.8V77H526.87zM530.8 72.13H534.73V77H530.8zM534.73 72.13H538.67V77H534.73zM625.2 145.13H629.13V150H625.2z"/>
<path fill="#0022ff" d="M558.33 4H562.27V8.87H558.33zM625.2 4H629.13V8.87H625.2zM558.33 8.87H562.27V13.73H558.33zM629.13 8.87H633.07V13.73H629.13zM558.33 13.73H562.27V18.6H558.33zM633.07 13.73H637V18.6H633.07zM558.33 18.6H562.27V23.47H558.33zM558.33 23.47H562.27V28.33H558.33zM558.33 28.33H562.27V33.2H558.33zM562.27 33.2H566.2V38.07H562.27zM562.27 38.07H566.2V42.93H562.27zM562.27 42.93H566.2V47.8H562.27zM566.2 47.8H570.13V52.67H566.2zM566.2 52.67H570.13V57.53H566.2zM566.2 57.53H570.13V62.4H566.2zM562.27 62.4H566.2V67.27H562.27zM566.2 62.4H570.13V67.27H566.2zM554.4 67.27H558.33V72.13H554.4zM558.33 67.27H562.27V72.13H558.33zM538.67 72.13H542.6V77H538.67zM542.6 72.13H546.53V77H542.6zM519 77H522.93V81.87H519zM522.93 77H526.87V81.87H522.93zM526.87 77H530.8V81.87H526.87zM621.27 145.13H625.2V150H621.27z"/>
<path fill="#0033ff" d="M562.27 4H566.2V8.87H562.27zM621.27 4H625.2V8.87H621.27zM562.27 8.87H566.2V13.73H562.27zM621.27 8.87H625.2V13.73H621.27zM625.2 8.87H629.13V13.73H625.2zM562.27 13.73H566.2V18.6H562.27zM629.13 13.73H633.07V18.6H629.13zM562.27 18.6H566.2V23.47H562.27zM633.07 18.6H637V23.47H633.07zM562.27 23.47H566.2V28.33H562.27zM562.27 28.33H566.2V33.2H562.27zM566.2 33.2H570.13V38.07H566.2zM566.2 38.07H570.13V42.93H566.2zM566.2 42.93H570.13V47.8H566.2zM570.13 47.8H574.07V52.67H570.13zM570.13 52.67H574.07V57.53H570.13zM570.13 57.53H574.07V62.4H570.13zM570.13 62.4H574.07V67.27H570.13zM562.27 67.27H566.2V72.13H562.27zM546.53 72.13H550.47V77H546.53zM550.47 72.13H554.4V77H550.47zM554.4 72.13H558.33V77H554.4zM530.8 77H534.73V81.87H530.8zM534.73 77H538.67V81.87H534.73zM538.67 77H542.6V81.87H538.67zM633.07 140.27H637V145.13H633.07zM613.4 145.13H617.33V150H613.4zM617.33 145.13H621.27V150H617.33z"/>
<path fill="#0053ff" d="M566.2 4H570.13V8.87H566.2zM609.47 4H613.4V8.87H609.47zM613.4 8.87H617.33V13.73H613.4zM570.13 13.73H574.07V18.6H570.13zM617.33 13.73H621.27V18.6H617.33zM570.13 18.6H574.07V23.47H570.13zM621.27 18.6H625.2V23.47H621.27zM570.13 23.47H574.07V28.33H570.13zM625.2 23.47H629.13V28.33H625.2zM629.13 23.47H633.07V28.33H629.13zM570.13 28.33H574.07V33.2H570.13zM633.07 28.33H637V33.2H633.07zM574.07 33.2H578V38.07H574.07zM574.07 38.07H578V42.93H574.07zM574.07 42.93H578V47.8H574.07zM578 47.8H581.93V52.67H578zM578 52.67H581.93V57.53H578zM578 57.53H581.93V62.4H578zM574.07 62.4H578V67.27H574.07zM570.13 67.27H574.07V72.13H570.13zM562.27 72.13H566.2V77H562.27zM566.2 72.13H570.13V77H566.2zM550.47 77H554.4V81.87H550.47zM554.4 77H558.33V81.87H554.4zM534.73 81.87H538.67V86.73H534.73zM538.67 81.87H542.6V86.73H538.67zM542.6 81.87H546.53V86.73H542.6zM519 86.73H522.93V91.6H519zM522.93 86.73H526.87V91.6H522.93zM625.2 140.27H629.13V145.13H625.2zM605.53 145.13H609.47V150H605.53z"/>
<path fill="#0063ff" d="M570.13 4H574.07V8.87H570.13zM605.53 4H609.47V8.87H605.53zM570.13 8.87H574.07V13.73H570.13zM609.47 8.87H613.4V13.73H609.47zM574.07 13.73H578V18.6H574.07zM609.47 13.73H613.4V18.6H609.47zM613.4 13.73H617.33V18.6H613.4zM574.07 18.6H578V23.47H574.07zM613.4 18.6H617.33V23.47H613.4zM617.33 18.6H621.27V23.47H617.33zM574.07 23.47H578V28.33H574.07zM617.33 23.47H621.27V28.33H617.33zM621.27 23.47H625.2V28.33H621.27zM574.07 28.33H578V33.2H574.07zM625.2 28.33H629.13V33.2H625.2zM629.13 28.33H633.07V33.2H629.13zM578 38.07H581.93V42.93H578zM578 42.93H581.93V47.8H578zM581.93 47.8H585.87V52.67H581.93zM581.93 52.67H585.87V57.53H581.93zM581.93 57.53H585.87V62.4H581.93zM578 62.4H581.93V67.27H578zM574.07 67.27H578V72.13H574.07zM570.13 72.13H574.07V77H570.13zM558.33 77H562.27V81.87H558.33zM562.27 77H566.2V81.87H562.27zM546.53 81.87H550.47V86.73H546.53zM550.47 81.87H554.4V86.73H550.47zM526.87 86.73H530.8V91.6H526.87zM530.8 86.73H534.73V91.6H530.8zM534.73 86.73H538.67V91.6H534.73zM621.27 140.27H625.2V145.13H621.27zM601.6 145.13H605.53V150H601.6z"/>
<path fill="#0073ff" d="M574.07 4H578V8.87H574.07zM601.6 4H605.53V8.87H601.6zM574.07 8.87H578V13.73H574.07zM601.6 8.87H605.53V13.73H601.6zM605.53 8.87H609.47V13.73H605.53zM605.53 13.73H609.47V18.6H605.53zM578 18.6H581.93V23.47H578zM605.53 18.6H609.47V23.47H605.53zM609.47 18.6H613.4V23.47H609.47zM578 23.47H581.93V28.33H578zM609.47 23.47H613.4V28.33H609.47zM613.4 23.47H617.33V28.33H613.4zM578 28.33H581.93V33.2H578zM617.33 28.33H621.27V33.2H617.33zM621.27 28.33H625.2V33.2H621.27zM578 33.2H581.93V38.07H578zM625.2 33.2H629.13V38.07H625.2zM629.13 33.2H633.07V38.07H629.13zM633.07 33.2H637V38.07H633.07zM581.93 38.07H585.87V42.93H581.93zM581.93 42.93H585.87V47.8H581.93zM585.87 47.8H589.8V52.67H585.87zM585.87 52.67H589.8V57.53H585.87zM585.87 57.53H589.8V62.4H585.87zM581.93 62.4H585.87V67.27H581.93zM578 67.27H581.93V72.13H578zM566.2 77H570.13V81.87H566.2zM554.4 81.87H558.33V86.73H554.4zM558.33 81.87H562.27V86.73H558.33zM538.67 86.73H542.6V91.6H538.67zM542.6 86.73H546.53V91.6H542.6zM519 91.6H522.93V96.47H519zM522.93 91.6H526.87V96.47H522.93zM617.33 140.27H621.27V145.13H617.33zM597.67 145.13H601.6V150H597.67z"/>
<path fill="#0084ff" d="M578 4H581.93V8.87H578zM597.67 4H601.6V8.87H597.67zM578 8.87H581.93V13.73H578zM597.67 8.87H601.6V13.73H597.67zM578 13.73H581.93V18.6H578zM597.67 13.73H601.6V18.6H597.67zM601.6 13.73H605.53V18.6H601.6zM581.93 18.6H585.87V23.47H581.93zM601.6 18.6H605.53V23.47H601.6zM581.93 23.47H585.87V28.33H581.93zM601.6 23.47H605.53V28.33H601.6zM605.53 23.47H609.47V28.33H605.53zM581.93 28.33H585.87V33.2H581.93zM605.53 28.33H609.47V33.2H605.53zM609.47 28.33H613.4V33.2H609.47zM613.4 28.33H617.33V33.2H613.4zM581.93 33.2H585.87V38.07H581.93zM585.87 33.2H589.8V38.07H585.87zM613.4 33.2H617.33V38.07H613.4zM617.33 33.2H621.27V38.07H617.33zM621.27 33.2H625.2V38.07H621.27zM585.87 38.07H589.8V42.93H585.87zM625.2 38.07H629.13V42.93H625.2zM629.13 38.07H633.07V42.93H629.13zM633.07 38.07H637V42.93H633.07zM585.87 42.93H589.8V47.8H585.87zM589.8 47.8H593.73V52.67H589.8zM589.8 52.67H593.73V57.53H589.8zM589.8 57.53H593.73V62.4H589.8zM585.87 62.4H589.8V67.27H585.87zM581.93 67.27H585.87V72.13H581.93zM574.07 72.13H578V77H574.07zM570.13 77H574.07V81.87H570.13zM562.27 81.87H566.2V86.73H562.27zM546.53 86.73H550.47V91.6H546.53zM550.47 86.73H554.4V91.6H550.47zM526.87 91.6H530.8V96.47H526.87zM530.8 91.6H534.73V96.47H530.8zM534.73 91.6H538.67V96.47H534.73zM609.47 140.27H613.4V145.13H609.47zM613.4 140.27H617.33V145.13H613.4zM593.73 145.13H597.67V150H593.73z"/>
<path fill="#0094ff" d="M581.93 4H585.87V8.87H581.93zM593.73 4H597.67V8.87H593.73zM581.93 8.87H585.87V13.73H581.93zM593.73 8.87H597.67V13.73H593.73zM581.93 13.73H585.87V18.6H581.93zM585.87 13.73H589.8V18.6H585.87zM593.73 13.73H597.67V18.6H593.73zM585.87 18.6H589.8V23.47H585.87zM589.8 18.6H593.73V23.47H589.8zM593.73 18.6H597.67V23.47H593.73zM597.67 18.6H601.6V23.47H597.67zM585.87 23.47H589.8V28.33H585.87zM589.8 23.47H593.73V28.33H589.8zM593.73 23.47H597.67V28.33H593.73zM597.67 23.47H601.6V28.33H597.67zM585.87 28.33H589.8V33.2H585.87zM589.8 28.33H593.73V33.2H589.8zM593.73 28.33H597.67V33.2H593.73zM597.67 28.33H601.6V33.2H597.67zM601.6 28.33H605.53V33.2H601.6zM589.8 33.2H593.73V38.07H589.8zM593.73 33.2H597.67V38.07H593.73zM597.67 33.2H601.6V38.07H597.67zM601.6 33.2H605.53V38.07H601.6zM605.53 33.2H609.47V38.07H605.53zM609.47 33.2H613.4V38.07H609.47zM589.8 38.07H593.73V42.93H589.8zM593.73 38.07H597.67V42.93H593.73zM597.67 38.07H601.6V42.93H597.67zM601.6 38.07H605.53V42.93H601.6zM605.53 38.07H609.47V42.93H605.53zM609.47 38.07H613.4V42.93H609.47zM613.4 38.07H617.33V42.93H613.4zM617.33 38.07H621.27V42.93H617.33zM621.27 38.07H625.2V42.93H621.27zM589.8 42.93H593.73V47.8H589.8zM593.73 42.93H597.67V47.8H593.73zM597.67 42.93H601.6V47.8H597.67zM629.13 42.93H633.07V47.8H629.13zM633.07 42.93H637V47.8H633.07zM593.73 47.8H597.67V52.67H593.73zM593.73 52.67H597.67V57.53H593.73zM593.73 57.53H597.67V62.4H593.73zM589.8 62.4H593.73V67.27H589.8zM585.87 67.27H589.8V72.13H585.87zM578 72.13H581.93V77H578zM574.07 77H578V81.87H574.07zM566.2 81.87H570.13V86.73H566.2zM554.4 86.73H558.33V91.6H554.4zM558.33 86.73H562.27V91.6H558.33zM538.67 91.6H542.6V96.47H538.67zM542.6 91.6H546.53V96.47H542.6zM519 96.47H522.93V101.33H519zM522.93 96.47H526.87V101.33H522.93zM605.53 140.27H609.47V145.13H605.53z"/>
<path fill="#00a4ff" d="M585.87 4H589.8V8.87H585.87zM589.8 4H593.73V8.87H589.8zM585.87 8.87H589.8V13.73H585.87zM589.8 8.87H593.73V13.73H589.8zM589.8 13.73H593.73V18.6H589.8zM601.6 42.93H605.53V47.8H601.6zM605.53 42.93H609.47V47.8H605.53zM609.47 42.93H613.4V47.8H609.47zM613.4 42.93H617.33V47.8H613.4zM617.33 42.93H621.27V47.8H617.33zM621.27 42.93H625.2V47.8H621.27zM625.2 42.93H629.13V47.8H625.2zM597.67 47.8H601.6V52.67H597.67zM601.6 47.8H605.53V52.67H601.6zM597.67 52.67H601.6V57.53H597.67zM597.67 57.53H601.6V62.4H597.67zM593.73 62.4H597.67V67.27H593.73zM581.93 72.13H585.87V77H581.93zM570.13 81.87H574.07V86.73H570.13zM562.27 86.73H566.2V91.6H562.27zM546.53 91.6H550.47V96.47H546.53zM550.47 91.6H554.4V96.47H550.47zM526.87 96.47H530.8V101.33H526.87zM530.8 96.47H534.73V101.33H530.8zM633.07 135.4H637V140.27H633.07zM597.67 140.27H601.6V145.13H597.67zM601.6 140.27H605.53V145.13H601.6zM589.8 145.13H593.73V150H589.8z"/>
<path fill="#0043ff" d="M613.4 4H617.33V8.87H613.4zM617.33 4H621.27V8.87H617.33zM566.2 8.87H570.13V13.73H566.2zM617.33 8.87H621.27V13.73H617.33zM566.2 13.73H570.13V18.6H566.2zM621.27 13.73H625.2V18.6H621.27zM625.2 13.73H629.13V18.6H625.2zM566.2 18.6H570.13V23.47H566.2zM625.2 18.6H629.13V23.47H625.2zM629.13 18.6H633.07V23.47H629.13zM566.2 23.47H570.13V28.33H566.2zM633.07 23.47H637V28.33H633.07zM566.2 28.33H570.13V33.2H566.2zM570.13 33.2H574.07V38.07H570.13zM570.13 38.07H574.07V42.93H570.13zM570.13 42.93H574.07V47.8H570.13zM574.07 47.8H578V52.67H574.07zM574.07 52.67H578V57.53H574.07zM574.07 57.53H578V62.4H574.07zM566.2 67.27H570.13V72.13H566.2zM558.33 72.13H562.27V77H558.33zM542.6 77H546.53V81.87H542.6zM546.53 77H550.47V81.87H546.53zM519 81.87H522.93V86.73H519zM522.93 81.87H526.87V86.73H522.93zM526.87 81.87H530.8V86.73H526.87zM530.8 81.87H534.73V86.73H530.8zM629.13 140.27H633.07V145.13H629.13zM609.47 145.13H613.4V150H609.47z"/>
<path fill="#0000e1" d="M542.6 8.87H546.53V13.73H542.6zM542.6 13.73H546.53V18.6H542.6zM542.6 18.6H546.53V23.47H542.6zM542.6 23.47H546.53V28.33H542.6zM542.6 28.33H546.53V33.2H542.6zM542.6 33.2H546.53V38.07H542.6zM542.6 38.07H546.53V42.93H542.6zM542.6 42.93H546.53V47.8H542.6zM538.67 47.8H542.6V52.67H538.67zM542.6 47.8H546.53V52.67H542.6zM538.67 52.67H542.6V57.53H538.67zM542.6 52.67H546.53V57.53H542.6zM530.8 57.53H534.73V62.4H530.8zM534.73 57.53H538.67V62.4H534.73zM538.67 57.53H542.6V62.4H538.67zM542.6 57.53H546.53V62.4H542.6zM519 62.4H522.93V67.27H519zM522.93 62.4H526.87V67.27H522.93zM526.87 62.4H530.8V67.27H526.87zM530.8 62.4H534.73V67.27H530.8z"/>
<path fill="#00b4ff" d="M605.53 47.8H609.47V52.67H605.53zM609.47 47.8H613.4V52.67H609.47zM613.4 47.8H617.33V52.67H613.4zM617.33 47.8H621.27V52.67H617.33zM621.27 47.8H625.2V52.67H621.27zM625.2 47.8H629.13V52.67H625.2zM629.13 47.8H633.07V52.67H629.13zM633.07 47.8H637V52.67H633.07zM601.6 52.67H605.53V57.53H601.6zM605.53 52.67H609.47V57.53H605.53zM601.6 57.53H605.53V62.4H601.6zM597.67 62.4H601.6V67.27H597.67zM589.8 67.27H593.73V72.13H589.8zM585.87 72.13H589.8V77H585.87zM578 77H581.93V81.87H578zM574.07 81.87H578V86.73H574.07zM566.2 86.73H570.13V91.6H566.2zM554.4 91.6H558.33V96.47H554.4zM558.33 91.6H562.27V96.47H558.33zM534.73 96.47H538.67V101.33H534.73zM538.67 96.47H542.6V101.33H538.67zM519 101.33H522.93V106.2H519zM522.93 101.33H526.87V106.2H522.93zM629.13 135.4H633.07V140.27H629.13zM593.73 140.27H597.67V145.13H593.73zM585.87 145.13H589.8V150H585.87z"/>
<path fill="#00c4ff" d="M609.47 52.67H613.4V57.53H609.47zM613.4 52.67H617.33V57.53H613.4zM617.33 52.67H621.27V57.53H617.33zM621.27 52.67H625.2V57.53H621.27zM625.2 52.67H629.13V57.53H625.2zM629.13 52.67H633.07V57.53H629.13zM633.07 52.67H637V57.53H633.07zM605.53 57.53H609.47V62.4H605.53zM601.6 62.4H605.53V67.27H601.6zM593.73 67.27H597.67V72.13H593.73zM589.8 72.13H593.73V77H589.8zM581.93 77H585.87V81.87H581.93zM570.13 86.73H574.07V91.6H570.13zM562.27 91.6H566.2V96.47H562.27zM542.6 96.47H546.53V101.33H542.6zM546.53 96.47H550.47V101.33H546.53zM526.87 101.33H530.8V106.2H526.87zM530.8 101.33H534.73V106.2H530.8zM625.2 135.4H629.13V140.27H625.2zM589.8 140.27H593.73V145.13H589.8z"/>
<path fill="#00d4ff" d="M609.47 57.53H613.4V62.4H609.47zM633.07 57.53H637V62.4H633.07zM597.67 67.27H601.6V72.13H597.67zM585.87 77H589.8V81.87H585.87zM578 81.87H581.93V86.73H578zM574.07 86.73H578V91.6H574.07zM566.2 91.6H570.13V96.47H566.2zM550.47 96.47H554.4V101.33H550.47zM554.4 96.47H558.33V101.33H554.4zM534.73 101.33H538.67V106.2H534.73zM519 106.2H522.93V111.07H519zM522.93 106.2H526.87V111.07H522.93zM621.27 135.4H625.2V140.27H621.27zM585.87 140.27H589.8V145.13H585.87zM581.93 145.13H585.87V150H581.93z"/>
<path fill="#00e5ff" d="M613.4 57.53H617.33V62.4H613.4zM617.33 57.53H621.27V62.4H617.33zM621.27 57.53H625.2V62.4H621.27zM625.2 57.53H629.13V62.4H625.2zM629.13 57.53H633.07V62.4H629.13zM605.53 62.4H609.47V67.27H605.53zM609.47 62.4H613.4V67.27H609.47zM601.6 67.27H605.53V72.13H601.6zM593.73 72.13H597.67V77H593.73zM581.93 81.87H585.87V86.73H581.93zM570.13 91.6H574.07V96.47H570.13zM558.33 96.47H562.27V101.33H558.33zM562.27 96.47H566.2V101.33H562.27zM538.67 101.33H542.6V106.2H538.67zM526.87 106.2H530.8V111.07H526.87zM601.6 135.4H605.53V140.27H601.6zM605.53 135.4H609.47V140.27H605.53zM609.47 135.4H613.4V140.27H609.47zM613.4 135.4H617.33V140.27H613.4zM617.33 135.4H621.27V140.27H617.33z"/>
<path fill="#00f5ff" d="M613.4 62.4H617.33V67.27H613.4zM617.33 62.4H621.27V67.27H617.33zM621.27 62.4H625.2V67.27H621.27zM625.2 62.4H629.13V67.27H625.2zM629.13 62.4H633.07V67.27H629.13zM633.07 62.4H637V67.27H633.07zM605.53 67.27H609.47V72.13H605.53zM597.67 72.13H601.6V77H597.67zM589.8 77H593.73V81.87H589.8zM578 86.73H581.93V91.6H578zM574.07 91.6H578V96.47H574.07zM566.2 96.47H570.13V101.33H566.2zM542.6 101.33H546.53V106.2H542.6zM530.8 106.2H534.73V111.07H530.8zM519 111.07H522.93V115.93H519zM522.93 111.07H526.87V115.93H522.93zM589.8 135.4H593.73V140.27H589.8zM593.73 135.4H597.67V140.27H593.73zM597.67 135.4H601.6V140.27H597.67zM581.93 140.27H585.87V145.13H581.93zM578 145.13H581.93V150H578z"/>
<path fill="#06fff9" d="M609.47 67.27H613.4V72.13H609.47zM601.6 72.13H605.53V77H601.6zM593.73 77H597.67V81.87H593.73zM585.87 81.87H589.8V86.73H585.87zM570.13 96.47H574.07V101.33H570.13zM546.53 101.33H550.47V106.2H546.53zM550.47 101.33H554.4V106.2H550.47zM554.4 101.33H558.33V106.2H554.4zM558.33 101.33H562.27V106.2H558.33zM562.27 101.33H566.2V106.2H562.27zM534.73 106.2H538.67V111.07H534.73zM526.87 111.07H530.8V115.93H526.87zM581.93 135.4H585.87V140.27H581.93zM585.87 135.4H589.8V140.27H585.87z"/>
<path fill="#16ffe9" d="M613.4 67.27H617.33V72.13H613.4zM617.33 67.27H621.27V72.13H617.33zM621.27 67.27H625.2V72.13H621.27zM625.2 67.27H629.13V72.13H625.2zM629.13 67.27H633.07V72.13H629.13zM633.07 67.27H637V72.13H633.07zM605.53 72.13H609.47V77H605.53zM581.93 86.73H585.87V91.6H581.93zM578 91.6H581.93V96.47H578zM574.07 96.47H578V101.33H574.07zM566.2 101.33H570.13V106.2H566.2zM570.13 101.33H574.07V106.2H570.13zM538.67 106.2H542.6V111.07H538.67zM530.8 111.07H534.73V115.93H530.8zM519 115.93H522.93V120.8H519zM522.93 115.93H526.87V120.8H522.93zM578 140.27H581.93V145.13H578zM519 145.13H522.93V150H519z"/>
<path fill="#26ffd9" d="M609.47 72.13H613.4V77H609.47zM597.67 77H601.6V81.87H597.67zM589.8 81.87H593.73V86.73H589.8zM542.6 106.2H546.53V111.07H542.6zM526.87 115.93H530.8V120.8H526.87zM519 120.8H522.93V125.67H519zM522.93 120.8H526.87V125.67H522.93zM519 125.67H522.93V130.53H519zM519 130.53H522.93V135.4H519zM585.87 130.53H589.8V135.4H585.87zM589.8 130.53H593.73V135.4H589.8zM633.07 130.53H637V135.4H633.07zM519 135.4H522.93V140.27H519zM578 135.4H581.93V140.27H578zM519 140.27H522.93V145.13H519zM522.93 145.13H526.87V150H522.93zM574.07 145.13H578V150H574.07z"/>
<path fill="#37ffc8" d="M613.4 72.13H617.33V77H613.4zM617.33 72.13H621.27V77H617.33zM621.27 72.13H625.2V77H621.27zM625.2 72.13H629.13V77H625.2zM629.13 72.13H633.07V77H629.13zM633.07 72.13H637V77H633.07zM601.6 77H605.53V81.87H601.6zM593.73 81.87H597.67V86.73H593.73zM585.87 86.73H589.8V91.6H585.87zM581.93 91.6H585.87V96.47H581.93zM578 96.47H581.93V101.33H578zM574.07 101.33H578V106.2H574.07zM546.53 106.2H550.47V111.07H546.53zM562.27 106.2H566.2V111.07H562.27zM566.2 106.2H570.13V111.07H566.2zM570.13 106.2H574.07V111.07H570.13zM534.73 111.07H538.67V115.93H534.73zM522.93 125.67H526.87V130.53H522.93zM522.93 130.53H526.87V135.4H522.93zM581.93 130.53H585.87V135.4H581.93zM593.73 130.53H597.67V135.4H593.73zM629.13 130.53H633.07V135.4H629.13zM522.93 135.4H526.87V140.27H522.93zM522.93 140.27H526.87V145.13H522.93zM574.07 140.27H578V145.13H574.07z"/>
<path fill="#57ffa8" d="M605.53 77H609.47V81.87H605.53zM597.67 81.87H601.6V86.73H597.67zM589.8 86.73H593.73V91.6H589.8zM585.87 91.6H589.8V96.47H585.87zM581.93 96.47H585.87V101.33H581.93zM538.67 111.07H542.6V115.93H538.67zM566.2 111.07H570.13V115.93H566.2zM570.13 111.07H574.07V115.93H570.13zM574.07 111.07H578V115.93H574.07zM530.8 120.8H534.73V125.67H530.8zM578 125.67H581.93V130.53H578zM581.93 125.67H585.87V130.53H581.93zM585.87 125.67H589.8V130.53H585.87zM574.07 130.53H578V135.4H574.07zM605.53 130.53H609.47V135.4H605.53zM625.2 130.53H629.13V135.4H625.2z"/>
<path fill="#67ff98" d="M609.47 77H613.4V81.87H609.47zM633.07 77H637V81.87H633.07zM578 106.2H581.93V111.07H578zM562.27 111.07H566.2V115.93H562.27zM534.73 115.93H538.67V120.8H534.73zM574.07 115.93H578V120.8H574.07zM574.07 120.8H578V125.67H574.07zM578 120.8H581.93V125.67H578zM530.8 125.67H534.73V130.53H530.8zM574.07 125.67H578V130.53H574.07zM589.8 125.67H593.73V130.53H589.8zM609.47 130.53H613.4V135.4H609.47zM613.4 130.53H617.33V135.4H613.4zM617.33 130.53H621.27V135.4H617.33zM621.27 130.53H625.2V135.4H621.27z"/>
<path fill="#77ff88" d="M613.4 77H617.33V81.87H613.4zM617.33 77H621.27V81.87H617.33zM621.27 77H625.2V81.87H621.27zM625.2 77H629.13V81.87H625.2zM629.13 77H633.07V81.87H629.13zM601.6 81.87H605.53V86.73H601.6zM593.73 86.73H597.67V91.6H593.73zM581.93 101.33H585.87V106.2H581.93zM542.6 111.07H546.53V115.93H542.6zM578 111.07H581.93V115.93H578zM570.13 115.93H574.07V120.8H570.13zM578 115.93H581.93V120.8H578zM581.93 120.8H585.87V125.67H581.93zM530.8 130.53H534.73V135.4H530.8zM530.8 135.4H534.73V140.27H530.8zM530.8 140.27H534.73V145.13H530.8zM530.8 145.13H534.73V150H530.8zM570.13 145.13H574.07V150H570.13z"/>
<path fill="#98ff67" d="M605.53 81.87H609.47V86.73H605.53zM597.67 86.73H601.6V91.6H597.67zM585.87 101.33H589.8V106.2H585.87zM546.53 111.07H550.47V115.93H546.53zM550.47 111.07H554.4V115.93H550.47zM554.4 111.07H558.33V115.93H554.4zM538.67 115.93H542.6V120.8H538.67zM597.67 125.67H601.6V130.53H597.67zM570.13 130.53H574.07V135.4H570.13z"/>
<path fill="#a8ff57" d="M609.47 81.87H613.4V86.73H609.47zM633.07 81.87H637V86.73H633.07zM593.73 91.6H597.67V96.47H593.73zM562.27 115.93H566.2V120.8H562.27zM585.87 115.93H589.8V120.8H585.87zM566.2 120.8H570.13V125.67H566.2zM589.8 120.8H593.73V125.67H589.8zM534.73 125.67H538.67V130.53H534.73z"/>
<path fill="#b8ff47" d="M613.4 81.87H617.33V86.73H613.4zM629.13 81.87H633.07V86.73H629.13zM601.6 86.73H605.53V91.6H601.6zM589.8 96.47H593.73V101.33H589.8zM585.87 106.2H589.8V111.07H585.87zM585.87 111.07H589.8V115.93H585.87zM601.6 125.67H605.53V130.53H601.6zM633.07 125.67H637V130.53H633.07zM534.73 145.13H538.67V150H534.73z"/>
<path fill="#c8ff37" d="M617.33 81.87H621.27V86.73H617.33zM621.27 81.87H625.2V86.73H621.27zM625.2 81.87H629.13V86.73H625.2zM542.6 115.93H546.53V120.8H542.6zM538.67 120.8H542.6V125.67H538.67zM593.73 120.8H597.67V125.67H593.73zM566.2 125.67H570.13V130.53H566.2zM534.73 130.53H538.67V135.4H534.73zM534.73 135.4H538.67V140.27H534.73zM534.73 140.27H538.67V145.13H534.73z"/>
<path fill="#e9ff16" d="M605.53 86.73H609.47V91.6H605.53zM593.73 96.47H597.67V101.33H593.73zM589.8 106.2H593.73V111.07H589.8zM589.8 111.07H593.73V115.93H589.8zM562.27 120.8H566.2V125.67H562.27zM609.47 125.67H613.4V130.53H609.47zM625.2 125.67H629.13V130.53H625.2zM566.2 130.53H570.13V135.4H566.2zM566.2 140.27H570.13V145.13H566.2z"/>
<path fill="#fff500" d="M609.47 86.73H613.4V91.6H609.47zM633.07 86.73H637V91.6H633.07zM601.6 91.6H605.53V96.47H601.6zM593.73 101.33H597.67V106.2H593.73zM550.47 115.93H554.4V120.8H550.47zM554.4 115.93H558.33V120.8H554.4zM593.73 115.93H597.67V120.8H593.73zM538.67 125.67H542.6V130.53H538.67z"/>
<path fill="#ffe500" d="M613.4 86.73H617.33V91.6H613.4zM629.13 86.73H633.07V91.6H629.13zM597.67 96.47H601.6V101.33H597.67zM542.6 120.8H546.53V125.67H542.6z"/>
<path fill="#ffd500" d="M617.33 86.73H621.27V91.6H617.33zM621.27 86.73H625.2V91.6H621.27zM625.2 86.73H629.13V91.6H625.2zM593.73 106.2H597.67V111.07H593.73zM593.73 111.07H597.67V115.93H593.73zM601.6 120.8H605.53V125.67H601.6zM562.27 125.67H566.2V130.53H562.27zM538.67 130.53H542.6V135.4H538.67zM538.67 145.13H542.6V150H538.67z"/>
<path fill="#88ff77" d="M589.8 91.6H593.73V96.47H589.8zM585.87 96.47H589.8V101.33H585.87zM581.93 106.2H585.87V111.07H581.93zM558.33 111.07H562.27V115.93H558.33zM581.93 111.07H585.87V115.93H581.93zM566.2 115.93H570.13V120.8H566.2zM581.93 115.93H585.87V120.8H581.93zM534.73 120.8H538.67V125.67H534.73zM570.13 120.8H574.07V125.67H570.13zM585.87 120.8H589.8V125.67H585.87zM570.13 125.67H574.07V130.53H570.13zM593.73 125.67H597.67V130.53H593.73zM570.13 135.4H574.07V140.27H570.13zM570.13 140.27H574.07V145.13H570.13z"/>
<path fill="#d9ff26" d="M597.67 91.6H601.6V96.47H597.67zM589.8 101.33H593.73V106.2H589.8zM558.33 115.93H562.27V120.8H558.33zM589.8 115.93H593.73V120.8H589.8zM605.53 125.67H609.47V130.53H605.53zM629.13 125.67H633.07V130.53H629.13zM566.2 145.13H570.13V150H566.2z"/>
<path fill="#ffc400" d="M605.53 91.6H609.47V96.47H605.53zM597.67 115.93H601.6V120.8H597.67zM558.33 120.8H562.27V125.67H558.33z"/>
<path fill="#ff9400" d="M609.47 91.6H613.4V96.47H609.47zM633.07 91.6H637V96.47H633.07zM597.67 106.2H601.6V111.07H597.67zM597.67 111.07H601.6V115.93H597.67zM546.53 120.8H550.47V125.67H546.53zM609.47 120.8H613.4V125.67H609.47zM629.13 120.8H633.07V125.67H629.13zM542.6 125.67H546.53V130.53H542.6zM562.27 130.53H566.2V135.4H562.27z"/>
<path fill="#ff7300" d="M613.4 91.6H617.33V96.47H613.4zM550.47 120.8H554.4V125.67H550.47zM613.4 120.8H617.33V125.67H613.4zM625.2 120.8H629.13V125.67H625.2z"/>
<path fill="#ff6300" d="M617.33 91.6H621.27V96.47H617.33zM621.27 91.6H625.2V96.47H621.27zM625.2 91.6H629.13V96.47H625.2zM605.53 96.47H609.47V101.33H605.53zM601.6 101.33H605.53V106.2H601.6zM617.33 120.8H621.27V125.67H617.33zM621.27 120.8H625.2V125.67H621.27zM558.33 125.67H562.27V130.53H558.33z"/>
<path fill="#ff8400" d="M629.13 91.6H633.07V96.47H629.13zM601.6 115.93H605.53V120.8H601.6zM554.4 120.8H558.33V125.67H554.4zM562.27 135.4H566.2V140.27H562.27zM562.27 140.27H566.2V145.13H562.27z"/>
<path fill="#ffa400" d="M601.6 96.47H605.53V101.33H601.6zM562.27 145.13H566.2V150H562.27z"/>
<path fill="#ff3300" d="M609.47 96.47H613.4V101.33H609.47z"/>
<path fill="#ff1200" d="M613.4 96.47H617.33V101.33H613.4zM629.13 96.47H633.07V101.33H629.13zM605.53 111.07H609.47V115.93H605.53zM629.13 115.93H633.07V120.8H629.13zM554.4 125.67H558.33V130.53H554.4zM558.33 130.53H562.27V135.4H558.33z"/>
<path fill="#f10000" d="M617.33 96.47H621.27V101.33H617.33zM621.27 96.47H625.2V101.33H621.27zM609.47 101.33H613.4V106.2H609.47zM633.07 111.07H637V115.93H633.07zM613.4 115.93H617.33V120.8H613.4zM625.2 115.93H629.13V120.8H625.2zM550.47 125.67H554.4V130.53H550.47zM558.33 140.27H562.27V145.13H558.33z"/>
<path fill="#ff0200" d="M625.2 96.47H629.13V101.33H625.2zM633.07 101.33H637V106.2H633.07zM605.53 106.2H609.47V111.07H605.53z"/>
<path fill="#ff4300" d="M633.07 96.47H637V101.33H633.07zM633.07 115.93H637V120.8H633.07zM542.6 130.53H546.53V135.4H542.6z"/>
<path fill="#47ffb8" d="M578 101.33H581.93V106.2H578zM550.47 106.2H554.4V111.07H550.47zM554.4 106.2H558.33V111.07H554.4zM558.33 106.2H562.27V111.07H558.33zM574.07 106.2H578V111.07H574.07zM530.8 115.93H534.73V120.8H530.8zM526.87 120.8H530.8V125.67H526.87zM526.87 125.67H530.8V130.53H526.87zM526.87 130.53H530.8V135.4H526.87zM578 130.53H581.93V135.4H578zM597.67 130.53H601.6V135.4H597.67zM601.6 130.53H605.53V135.4H601.6zM526.87 135.4H530.8V140.27H526.87zM574.07 135.4H578V140.27H574.07zM526.87 140.27H530.8V145.13H526.87zM526.87 145.13H530.8V150H526.87z"/>
<path fill="#ffb400" d="M597.67 101.33H601.6V106.2H597.67zM605.53 120.8H609.47V125.67H605.53zM633.07 120.8H637V125.67H633.07zM538.67 135.4H542.6V140.27H538.67zM538.67 140.27H542.6V145.13H538.67z"/>
<path fill="#ff2200" d="M605.53 101.33H609.47V106.2H605.53zM609.47 115.93H613.4V120.8H609.47zM546.53 125.67H550.47V130.53H546.53zM542.6 135.4H546.53V140.27H542.6zM542.6 140.27H546.53V145.13H542.6zM558.33 145.13H562.27V150H558.33z"/>
<path fill="#c00000" d="M613.4 101.33H617.33V106.2H613.4zM609.47 106.2H613.4V111.07H609.47zM629.13 111.07H633.07V115.93H629.13zM554.4 145.13H558.33V150H554.4z"/>
<path fill="#a00000" d="M617.33 101.33H621.27V106.2H617.33zM621.27 101.33H625.2V106.2H621.27zM613.4 106.2H617.33V111.07H613.4zM625.2 111.07H629.13V115.93H625.2zM546.53 135.4H550.47V140.27H546.53zM546.53 140.27H550.47V145.13H546.53zM550.47 145.13H554.4V150H550.47z"/>
<path fill="#b00000" d="M625.2 101.33H629.13V106.2H625.2zM629.13 106.2H633.07V111.07H629.13zM613.4 111.07H617.33V115.93H613.4zM554.4 130.53H558.33V135.4H554.4z"/>
<path fill="#d00000" d="M629.13 101.33H633.07V106.2H629.13zM609.47 111.07H613.4V115.93H609.47zM546.53 130.53H550.47V135.4H546.53z"/>
<path fill="#ff5300" d="M601.6 106.2H605.53V111.07H601.6zM601.6 111.07H605.53V115.93H601.6zM605.53 115.93H609.47V120.8H605.53zM542.6 145.13H546.53V150H542.6z"/>
<path fill="#800000" d="M617.33 106.2H621.27V111.07H617.33zM621.27 106.2H625.2V111.07H621.27zM625.2 106.2H629.13V111.07H625.2zM550.47 135.4H554.4V140.27H550.47zM554.4 135.4H558.33V140.27H554.4zM550.47 140.27H554.4V145.13H550.47zM554.4 140.27H558.33V145.13H554.4z"/>
<path fill="#e10000" d="M633.07 106.2H637V111.07H633.07zM617.33 115.93H621.27V120.8H617.33zM621.27 115.93H625.2V120.8H621.27zM558.33 135.4H562.27V140.27H558.33zM546.53 145.13H550.47V150H546.53z"/>
<path fill="#900000" d="M617.33 111.07H621.27V115.93H617.33zM621.27 111.07H625.2V115.93H621.27zM550.47 130.53H554.4V135.4H550.47z"/>
<path fill="#f9ff06" d="M546.53 115.93H550.47V120.8H546.53zM597.67 120.8H601.6V125.67H597.67zM613.4 125.67H617.33V130.53H613.4zM617.33 125.67H621.27V130.53H617.33zM621.27 125.67H625.2V130.53H621.27zM566.2 135.4H570.13V140.27H566.2z"/>
</g></g>
<rect x="519.5" y="4.5" width="118" height="146" fill="none" stroke="#707070" stroke-width="1"/></g>
<text transform="translate(27 166.3) scale(1 1.14)" font-family="Liberation Serif, serif" font-size="17.3" fill="#111" textLength="56" lengthAdjust="spacingAndGlyphs">Original</text>
<text transform="translate(167.75 167.6) scale(1 1.14)" font-family="Liberation Serif, serif" font-size="17.3" fill="#111" textLength="58.5" lengthAdjust="spacingAndGlyphs">Random</text>
<text transform="translate(276 170.6) scale(1 1.14)" font-family="Liberation Serif, serif" font-size="17.3" fill="#111" textLength="103.8" lengthAdjust="spacingAndGlyphs">Adaptive CUR</text>
<text transform="translate(407.8 170.8) scale(1 1.14)" font-family="Liberation Serif, serif" font-size="17.3" fill="#111" textLength="96" lengthAdjust="spacingAndGlyphs">Near Oprimal</text>
<text transform="translate(565.3 171.2) scale(1 1.14)" font-family="Liberation Serif, serif" font-size="17.3" fill="#111" textLength="46.7" lengthAdjust="spacingAndGlyphs">TWSP</text>
<line x1="146" y1="203" x2="146" y2="459" stroke="#c8c8c8" stroke-width="2"/>
<path d="M146 203.5H562.5V459.5H146" fill="none" stroke="#444" stroke-width="1"/>
<line x1="146" y1="459" x2="146" y2="454.8" stroke="#555" stroke-width="1"/>
<line x1="146" y1="203" x2="146" y2="207.2" stroke="#555" stroke-width="1"/>
<line x1="183.836" y1="459" x2="183.836" y2="454.8" stroke="#555" stroke-width="1"/>
<line x1="183.836" y1="203" x2="183.836" y2="207.2" stroke="#555" stroke-width="1"/>
<line x1="221.673" y1="459" x2="221.673" y2="454.8" stroke="#555" stroke-width="1"/>
<line x1="221.673" y1="203" x2="221.673" y2="207.2" stroke="#555" stroke-width="1"/>
<line x1="259.509" y1="459" x2="259.509" y2="454.8" stroke="#555" stroke-width="1"/>
<line x1="259.509" y1="203" x2="259.509" y2="207.2" stroke="#555" stroke-width="1"/>
<line x1="297.345" y1="459" x2="297.345" y2="454.8" stroke="#555" stroke-width="1"/>
<line x1="297.345" y1="203" x2="297.345" y2="207.2" stroke="#555" stroke-width="1"/>
<line x1="335.182" y1="459" x2="335.182" y2="454.8" stroke="#555" stroke-width="1"/>
<line x1="335.182" y1="203" x2="335.182" y2="207.2" stroke="#555" stroke-width="1"/>
<line x1="373.018" y1="459" x2="373.018" y2="454.8" stroke="#555" stroke-width="1"/>
<line x1="373.018" y1="203" x2="373.018" y2="207.2" stroke="#555" stroke-width="1"/>
<line x1="410.855" y1="459" x2="410.855" y2="454.8" stroke="#555" stroke-width="1"/>
<line x1="410.855" y1="203" x2="410.855" y2="207.2" stroke="#555" stroke-width="1"/>
<line x1="448.691" y1="459" x2="448.691" y2="454.8" stroke="#555" stroke-width="1"/>
<line x1="448.691" y1="203" x2="448.691" y2="207.2" stroke="#555" stroke-width="1"/>
<line x1="486.527" y1="459" x2="486.527" y2="454.8" stroke="#555" stroke-width="1"/>
<line x1="486.527" y1="203" x2="486.527" y2="207.2" stroke="#555" stroke-width="1"/>
<line x1="524.364" y1="459" x2="524.364" y2="454.8" stroke="#555" stroke-width="1"/>
<line x1="524.364" y1="203" x2="524.364" y2="207.2" stroke="#555" stroke-width="1"/>
<line x1="562.2" y1="459" x2="562.2" y2="454.8" stroke="#555" stroke-width="1"/>
<line x1="562.2" y1="203" x2="562.2" y2="207.2" stroke="#555" stroke-width="1"/>
<line x1="146" y1="459" x2="150.2" y2="459" stroke="#555" stroke-width="1"/>
<line x1="562.2" y1="459" x2="558" y2="459" stroke="#555" stroke-width="1"/>
<text x="139.5" y="466.5" font-family="Liberation Sans, sans-serif" font-size="17.3" fill="#262626" text-anchor="end">0.04</text>
<line x1="146" y1="407.8" x2="150.2" y2="407.8" stroke="#555" stroke-width="1"/>
<line x1="562.2" y1="407.8" x2="558" y2="407.8" stroke="#555" stroke-width="1"/>
<text x="139.5" y="415.3" font-family="Liberation Sans, sans-serif" font-size="17.3" fill="#262626" text-anchor="end">0.06</text>
<line x1="146" y1="356.6" x2="150.2" y2="356.6" stroke="#555" stroke-width="1"/>
<line x1="562.2" y1="356.6" x2="558" y2="356.6" stroke="#555" stroke-width="1"/>
<text x="139.5" y="364.1" font-family="Liberation Sans, sans-serif" font-size="17.3" fill="#262626" text-anchor="end">0.08</text>
<line x1="146" y1="305.4" x2="150.2" y2="305.4" stroke="#555" stroke-width="1"/>
<line x1="562.2" y1="305.4" x2="558" y2="305.4" stroke="#555" stroke-width="1"/>
<text x="139.5" y="312.9" font-family="Liberation Sans, sans-serif" font-size="17.3" fill="#262626" text-anchor="end">0.1</text>
<line x1="146" y1="254.2" x2="150.2" y2="254.2" stroke="#555" stroke-width="1"/>
<line x1="562.2" y1="254.2" x2="558" y2="254.2" stroke="#555" stroke-width="1"/>
<text x="139.5" y="261.7" font-family="Liberation Sans, sans-serif" font-size="17.3" fill="#262626" text-anchor="end">0.12</text>
<line x1="146" y1="203" x2="150.2" y2="203" stroke="#555" stroke-width="1"/>
<line x1="562.2" y1="203" x2="558" y2="203" stroke="#555" stroke-width="1"/>
<text x="139.5" y="210.5" font-family="Liberation Sans, sans-serif" font-size="17.3" fill="#262626" text-anchor="end">0.14</text>
<text x="146" y="483" font-family="Liberation Sans, sans-serif" font-size="17.3" fill="#262626" text-anchor="middle">20</text>
<text x="183.836" y="483" font-family="Liberation Sans, sans-serif" font-size="17.3" fill="#262626" text-anchor="middle">30</text>
<text x="221.673" y="483" font-family="Liberation Sans, sans-serif" font-size="17.3" fill="#262626" text-anchor="middle">35</text>
<text x="259.509" y="483" font-family="Liberation Sans, sans-serif" font-size="17.3" fill="#262626" text-anchor="middle">40</text>
<text x="297.345" y="483" font-family="Liberation Sans, sans-serif" font-size="17.3" fill="#262626" text-anchor="middle">45</text>
<text x="335.182" y="483" font-family="Liberation Sans, sans-serif" font-size="17.3" fill="#262626" text-anchor="middle">50</text>
<text x="373.018" y="483" font-family="Liberation Sans, sans-serif" font-size="17.3" fill="#262626" text-anchor="middle">55</text>
<text x="410.855" y="483" font-family="Liberation Sans, sans-serif" font-size="17.3" fill="#262626" text-anchor="middle">60</text>
<text x="448.691" y="483" font-family="Liberation Sans, sans-serif" font-size="17.3" fill="#262626" text-anchor="middle">65</text>
<text x="486.527" y="483" font-family="Liberation Sans, sans-serif" font-size="17.3" fill="#262626" text-anchor="middle">70</text>
<text x="524.364" y="483" font-family="Liberation Sans, sans-serif" font-size="17.3" fill="#262626" text-anchor="middle">75</text>
<text x="562.2" y="483" font-family="Liberation Sans, sans-serif" font-size="17.3" fill="#262626" text-anchor="middle">80</text>
<text x="222.6" y="511.4" font-family="Liberation Serif, serif" font-size="20.6" fill="#262626" textLength="263.4" lengthAdjust="spacingAndGlyphs">Number of Sampled Locations</text>
<text transform="translate(94.4 420) rotate(-90)" font-family="Liberation Serif, serif" font-size="23.1" fill="#262626">Interpolation Error</text>
<polyline points="146,222.2 183.836,271.352 221.673,302.072 259.509,325.88 297.345,345.336 335.182,362.488 373.018,377.848 410.855,387.32 448.691,398.328 486.527,405.752 524.364,415.48 562.2,421.368" fill="none" stroke="#0000ff" stroke-width="3.1" stroke-linejoin="round"/>
<path d="M138 222.2L151 215.2L151 229.2z" fill="#0000ff"/>
<path d="M175.836 271.352L188.836 264.352L188.836 278.352z" fill="#0000ff"/>
<path d="M213.673 302.072L226.673 295.072L226.673 309.072z" fill="#0000ff"/>
<path d="M251.509 325.88L264.509 318.88L264.509 332.88z" fill="#0000ff"/>
<path d="M289.345 345.336L302.345 338.336L302.345 352.336z" fill="#0000ff"/>
<path d="M327.182 362.488L340.182 355.488L340.182 369.488z" fill="#0000ff"/>
<path d="M365.018 377.848L378.018 370.848L378.018 384.848z" fill="#0000ff"/>
<path d="M402.855 387.32L415.855 380.32L415.855 394.32z" fill="#0000ff"/>
<path d="M440.691 398.328L453.691 391.328L453.691 405.328z" fill="#0000ff"/>
<path d="M478.527 405.752L491.527 398.752L491.527 412.752z" fill="#0000ff"/>
<path d="M516.364 415.48L529.364 408.48L529.364 422.48z" fill="#0000ff"/>
<path d="M554.2 421.368L567.2 414.368L567.2 428.368z" fill="#0000ff"/>
<polyline points="146,247.8 183.836,284.92 221.673,309.24 259.509,337.144 297.345,359.16 335.182,382.2 373.018,396.28 410.855,401.144 448.691,421.88 486.527,424.952 524.364,431.608 562.2,434.168" fill="none" stroke="#ff00ff" stroke-width="2.9" stroke-linejoin="round"/>
<path d="M142 243.8L150 251.8M142 251.8L150 243.8" stroke="#ff00ff" stroke-width="2.6" fill="none"/>
<path d="M179.836 280.92L187.836 288.92M179.836 288.92L187.836 280.92" stroke="#ff00ff" stroke-width="2.6" fill="none"/>
<path d="M217.673 305.24L225.673 313.24M217.673 313.24L225.673 305.24" stroke="#ff00ff" stroke-width="2.6" fill="none"/>
<path d="M255.509 333.144L263.509 341.144M255.509 341.144L263.509 333.144" stroke="#ff00ff" stroke-width="2.6" fill="none"/>
<path d="M293.345 355.16L301.345 363.16M293.345 363.16L301.345 355.16" stroke="#ff00ff" stroke-width="2.6" fill="none"/>
<path d="M331.182 378.2L339.182 386.2M331.182 386.2L339.182 378.2" stroke="#ff00ff" stroke-width="2.6" fill="none"/>
<path d="M369.018 392.28L377.018 400.28M369.018 400.28L377.018 392.28" stroke="#ff00ff" stroke-width="2.6" fill="none"/>
<path d="M406.855 397.144L414.855 405.144M406.855 405.144L414.855 397.144" stroke="#ff00ff" stroke-width="2.6" fill="none"/>
<path d="M444.691 417.88L452.691 425.88M444.691 425.88L452.691 417.88" stroke="#ff00ff" stroke-width="2.6" fill="none"/>
<path d="M482.527 420.952L490.527 428.952M482.527 428.952L490.527 420.952" stroke="#ff00ff" stroke-width="2.6" fill="none"/>
<path d="M520.364 427.608L528.364 435.608M520.364 435.608L528.364 427.608" stroke="#ff00ff" stroke-width="2.6" fill="none"/>
<path d="M558.2 430.168L566.2 438.168M558.2 438.168L566.2 430.168" stroke="#ff00ff" stroke-width="2.6" fill="none"/>
<polyline points="146,242.68 183.836,283.128 221.673,306.168 259.509,334.072 297.345,357.368 335.182,381.176 373.018,398.072 410.855,406.776 448.691,422.904 486.527,426.232 524.364,432.888 562.2,436.216" fill="none" stroke="#ff0000" stroke-width="3.1" stroke-linejoin="round"/>
<path d="M146 236.68L151.5 242.68L146 248.68L140.5 242.68z" fill="none" stroke="#ff0000" stroke-width="2.4"/>
<path d="M183.836 277.128L189.336 283.128L183.836 289.128L178.336 283.128z" fill="none" stroke="#ff0000" stroke-width="2.4"/>
<path d="M221.673 300.168L227.173 306.168L221.673 312.168L216.173 306.168z" fill="none" stroke="#ff0000" stroke-width="2.4"/>
<path d="M259.509 328.072L265.009 334.072L259.509 340.072L254.009 334.072z" fill="none" stroke="#ff0000" stroke-width="2.4"/>
<path d="M297.345 351.368L302.845 357.368L297.345 363.368L291.845 357.368z" fill="none" stroke="#ff0000" stroke-width="2.4"/>
<path d="M335.182 375.176L340.682 381.176L335.182 387.176L329.682 381.176z" fill="none" stroke="#ff0000" stroke-width="2.4"/>
<path d="M373.018 392.072L378.518 398.072L373.018 404.072L367.518 398.072z" fill="none" stroke="#ff0000" stroke-width="2.4"/>
<path d="M410.855 400.776L416.355 406.776L410.855 412.776L405.355 406.776z" fill="none" stroke="#ff0000" stroke-width="2.4"/>
<path d="M448.691 416.904L454.191 422.904L448.691 428.904L443.191 422.904z" fill="none" stroke="#ff0000" stroke-width="2.4"/>
<path d="M486.527 420.232L492.027 426.232L486.527 432.232L481.027 426.232z" fill="none" stroke="#ff0000" stroke-width="2.4"/>
<path d="M524.364 426.888L529.864 432.888L524.364 438.888L518.864 432.888z" fill="none" stroke="#ff0000" stroke-width="2.4"/>
<path d="M562.2 430.216L567.7 436.216L562.2 442.216L556.7 436.216z" fill="none" stroke="#ff0000" stroke-width="2.4"/>
<polyline points="146,254.968 183.836,295.16 221.673,314.104 259.509,347.128 297.345,365.048 335.182,382.968 373.018,400.632 410.855,412.92 448.691,427 486.527,430.328 524.364,437.24 562.2,441.848" fill="none" stroke="#00ff00" stroke-width="2.9" stroke-linejoin="round"/>
<circle cx="146" cy="254.968" r="6" fill="#00ff00"/>
<circle cx="183.836" cy="295.16" r="6" fill="#00ff00"/>
<circle cx="221.673" cy="314.104" r="6" fill="#00ff00"/>
<circle cx="259.509" cy="347.128" r="6" fill="#00ff00"/>
<circle cx="297.345" cy="365.048" r="6" fill="#00ff00"/>
<circle cx="335.182" cy="382.968" r="6" fill="#00ff00"/>
<circle cx="373.018" cy="400.632" r="6" fill="#00ff00"/>
<circle cx="410.855" cy="412.92" r="6" fill="#00ff00"/>
<circle cx="448.691" cy="427" r="6" fill="#00ff00"/>
<circle cx="486.527" cy="430.328" r="6" fill="#00ff00"/>
<circle cx="524.364" cy="437.24" r="6" fill="#00ff00"/>
<circle cx="562.2" cy="441.848" r="6" fill="#00ff00"/>
<rect x="347.5" y="207.5" width="209" height="107" fill="#fff" stroke="#b4b4b4" stroke-width="1.4"/>
<line x1="349.7" y1="221.3" x2="376.5" y2="221.3" stroke="#0000ff" stroke-width="3"/>
<path d="M355.5 221.3L368.5 214.3L368.5 228.3z" fill="#0000ff"/>
<text x="379.7" y="226.5" font-family="Liberation Serif, serif" font-size="23.3" fill="#000">Random Sampling</text>
<line x1="349.7" y1="247.5" x2="376.5" y2="247.5" stroke="#ff00ff" stroke-width="2.8"/>
<path d="M359.5 243.5L367.5 251.5M359.5 251.5L367.5 243.5" stroke="#ff00ff" stroke-width="2.6" fill="none"/>
<text x="379.7" y="252.7" font-family="Liberation Serif, serif" font-size="23.3" fill="#000">Adaptive CUR</text>
<line x1="349.7" y1="273.7" x2="376.5" y2="273.7" stroke="#ff0000" stroke-width="3"/>
<path d="M363.5 267.7L369 273.7L363.5 279.7L358 273.7z" fill="none" stroke="#ff0000" stroke-width="2.4"/>
<text x="379.7" y="278.9" font-family="Liberation Serif, serif" font-size="23.3" fill="#000">Near-optimal</text>
<line x1="349.7" y1="299.9" x2="376.5" y2="299.9" stroke="#00ff00" stroke-width="2.8"/>
<circle cx="363.5" cy="299.9" r="6" fill="#00ff00"/>
<text x="379.7" y="305.1" font-family="Liberation Serif, serif" font-size="23.3" fill="#000">Based on TWSP</text>
</svg></body></html>
